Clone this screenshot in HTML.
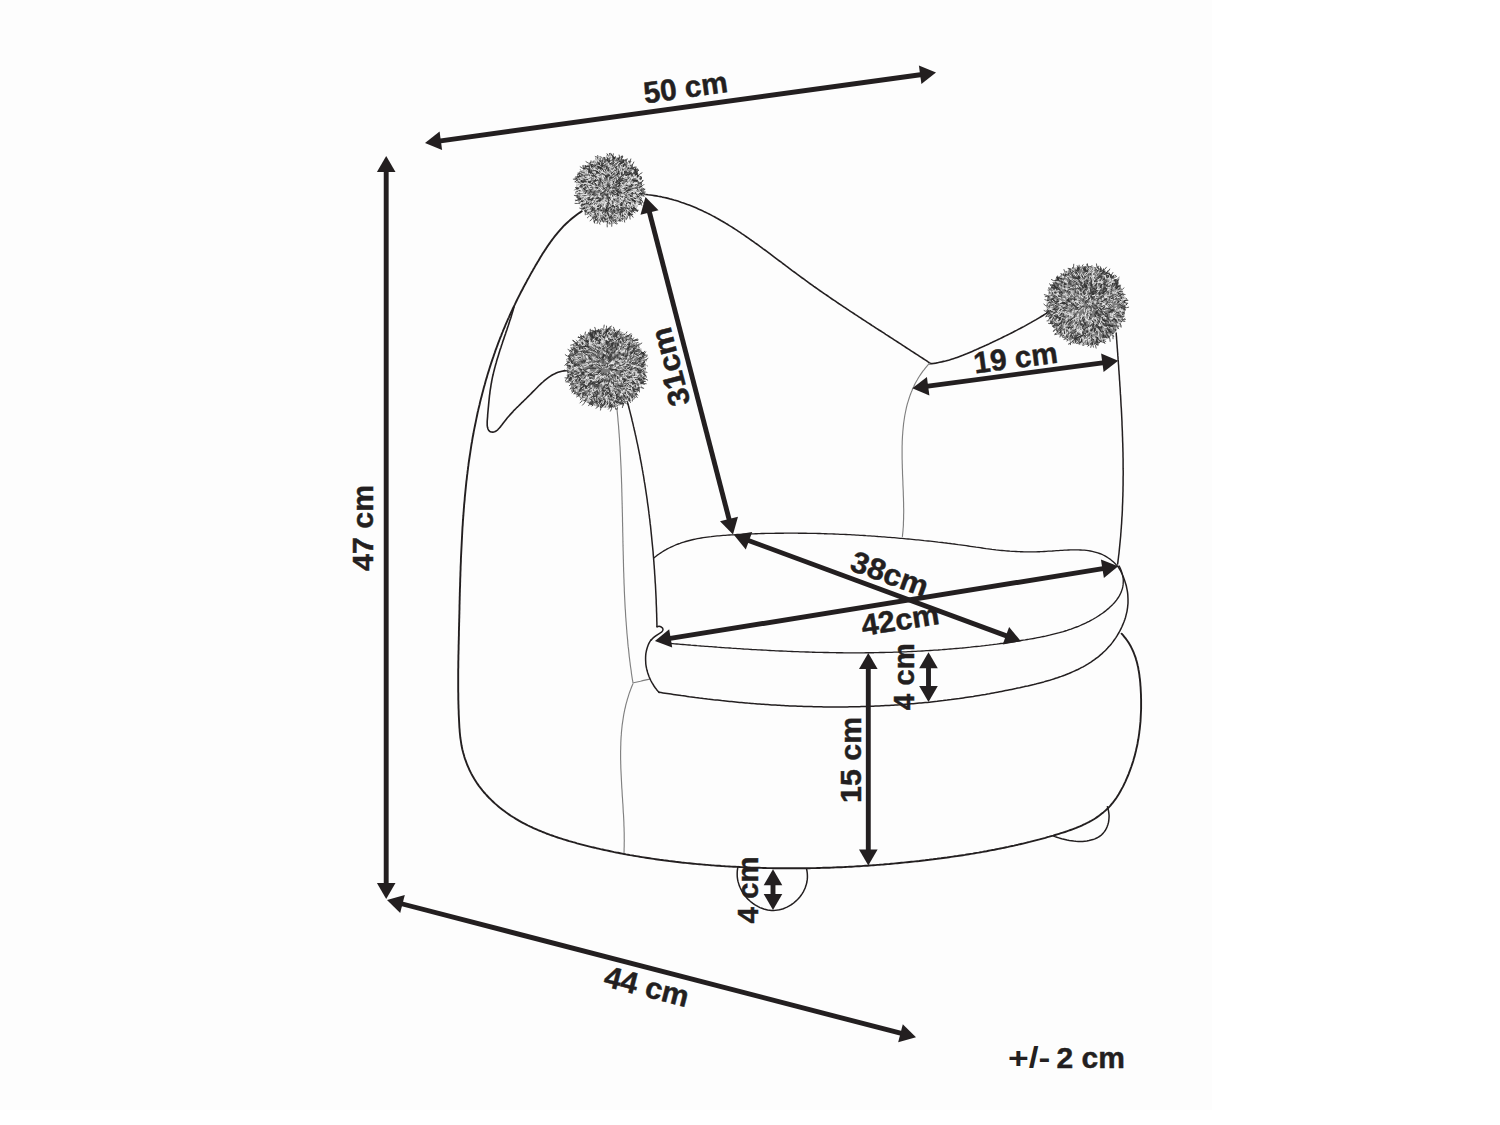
<!DOCTYPE html>
<html><head><meta charset="utf-8"><style>
html,body{margin:0;padding:0;background:#fff;width:1500px;height:1125px;overflow:hidden}
svg{display:block}
text{font-family:"Liberation Sans",sans-serif;font-weight:bold;fill:#231f20}
</style></head><body>
<svg width="1500" height="1125" viewBox="0 0 1500 1125">
<rect x="0" y="0" width="1212" height="1110" fill="#fdfdfd"/>
<path d="M581.8,211.2 580.1,212.4 578.4,213.5 576.7,214.7 575.1,215.9 573.5,217.2 571.9,218.5 570.4,219.8 568.9,221.1 567.4,222.5 566,223.8 564.5,225.2 563.1,226.7 561.8,228.1 560.4,229.6 559.1,231.1 557.8,232.6 556.6,234.1 555.3,235.7 554.1,237.2 552.9,238.8 551.7,240.4 550.5,242 549.4,243.6 548.2,245.3 547.1,246.9 546,248.6 544.9,250.2 543.8,251.9 542.7,253.6 541.7,255.3 540.6,257 539.6,258.7 538.6,260.5 537.5,262.2 536.5,263.9 535.5,265.6 534.5,267.4 533.5,269.1 532.5,270.9 531.5,272.6 530.5,274.4 529.6,276.1 528.6,277.9 527.6,279.6 526.7,281.4 525.7,283.2 524.8,284.9 523.8,286.7 522.9,288.5 522,290.2 521,292 520.1,293.8 519.2,295.6 518.3,297.4 517.4,299.2 516.5,301 515.6,302.8 514.8,304.6 513.9,306.4 513,308.2 512.2,310 511.3,311.8 510.5,313.7 509.7,315.5 508.9,317.3 508,319.1 507.2,321 506.4,322.8 505.6,324.7 504.9,326.5 504.1,328.3 503.3,330.2 502.6,332 501.8,333.9 501.1,335.8 500.3,337.6 499.6,339.5 498.9,341.4 498.2,343.2 497.5,345.1 496.8,347 496.1,348.9 495.4,350.7 494.8,352.6 494.1,354.5 493.5,356.4 492.8,358.3 492.2,360.2 491.5,362.1 490.9,364 490.3,365.9 489.7,367.8 489.1,369.7 488.5,371.6 487.9,373.6 487.3,375.5 486.8,377.4 486.2,379.3 485.6,381.2 485.1,383.2 484.6,385.1 484,387 483.5,388.9 483,390.9 482.5,392.8 482,394.8 481.5,396.7 481,398.6 480.5,400.6 480,402.5 479.6,404.5 479.1,406.4 478.6,408.4 478.2,410.3 477.7,412.3 477.3,414.2 476.9,416.2 476.5,418.1 476.1,420.1 475.7,422.1 475.3,424 474.9,426 474.5,427.9 474.1,429.9 473.7,431.9 473.4,433.8 473,435.8 472.6,437.8 472.3,439.7 472,441.7 471.6,443.7 471.3,445.7 471,447.6 470.7,449.6 470.4,451.6 470.1,453.6 469.8,455.5 469.5,457.5 469.2,459.5 468.9,461.5 468.6,463.5 468.4,465.4 468.1,467.4 467.9,469.4 467.6,471.4 467.4,473.4 467.1,475.4 466.9,477.4 466.7,479.3 466.4,481.3 466.2,483.3 466,485.3 465.8,487.3 465.6,489.3 465.4,491.3 465.2,493.3 465,495.3 464.8,497.3 464.7,499.3 464.5,501.3 464.3,503.2 464.1,505.2 464,507.2 463.8,509.2 463.7,511.2 463.5,513.2 463.4,515.2 463.2,517.2 463.1,519.2 462.9,521.2 462.8,523.2 462.7,525.2 462.5,527.2 462.4,529.2 462.3,531.2 462.2,533.2 462.1,535.2 462,537.2 461.9,539.2 461.8,541.2 461.7,543.3 461.6,545.3 461.5,547.3 461.4,549.3 461.3,551.3 461.2,553.3 461.1,555.3 461,557.3 460.9,559.3 460.9,561.3 460.8,563.3 460.7,565.3 460.6,567.3 460.6,569.3 460.5,571.3 460.4,573.3 460.4,575.3 460.3,577.3 460.2,579.4 460.2,581.4 460.1,583.4 460.1,585.4 460,587.4 459.9,589.4 459.9,591.4 459.8,593.4 459.8,595.4 459.7,597.4 459.7,599.4 459.6,601.4 459.6,603.4 459.5,605.4 459.5,607.4 459.5,609.4 459.4,611.4 459.4,613.5 459.3,615.5 459.3,617.5 459.2,619.5 459.2,621.5 459.1,623.5 459.1,625.5 459,627.5 459,629.5 458.9,631.5 458.9,633.5 458.9,635.5 458.8,637.5 458.8,639.5 458.7,641.5 458.7,643.5 458.6,645.5 458.6,647.5 458.6,649.5 458.5,651.5 458.5,653.5 458.4,655.5 458.4,657.5 458.4,659.5 458.3,661.5 458.3,663.5 458.3,665.5 458.3,667.5 458.2,669.5 458.2,671.5 458.2,673.5 458.2,675.5 458.2,677.5 458.2,679.5 458.2,681.5 458.2,683.5 458.2,685.5 458.2,687.5 458.2,689.5 458.2,691.5 458.3,693.5 458.3,695.5 458.3,697.5 458.3,699.5 458.4,701.5 458.4,703.5 458.5,705.5 458.5,707.5 458.6,709.5 458.7,711.5 458.7,713.5 458.8,715.5 458.9,717.5 459,719.5 459.1,721.5 459.2,723.5 459.3,725.5 459.4,727.5 459.6,729.5 459.7,731.5 459.9,733.5 460.1,735.5 460.3,737.5 460.6,739.4 460.9,741.4 461.2,743.4 461.5,745.3 461.9,747.3 462.3,749.3 462.8,751.2 463.3,753.1 463.9,755 464.4,757 465,758.9 465.7,760.7 466.4,762.6 467.1,764.5 467.9,766.3 468.7,768.2 469.5,770 470.4,771.8 471.3,773.6 472.2,775.3 473.2,777.1 474.2,778.8 475.3,780.5 476.4,782.2 477.5,783.9 478.7,785.6 479.9,787.2 481.2,788.8 482.4,790.4 483.7,792 485.1,793.5 486.4,795 487.8,796.5 489.2,798 490.7,799.4 492.1,800.8 493.6,802.2 495.1,803.6 496.6,804.9 498.1,806.2 499.6,807.5 501.2,808.7 502.8,809.9 504.3,811.1 505.9,812.3 507.6,813.5 509.2,814.6 510.8,815.7 512.5,816.8 514.2,817.8 515.9,818.9 517.6,819.9 519.3,820.9 521,821.8 522.8,822.8 524.5,823.7 526.3,824.6 528,825.5 529.8,826.4 531.6,827.2 533.4,828.1 535.3,828.9 537.1,829.7 538.9,830.5 540.8,831.2 542.6,832 544.5,832.7 546.3,833.5 548.2,834.2 550.1,834.9 552,835.5 553.9,836.2 555.8,836.8 557.7,837.5 559.6,838.1 561.5,838.7 563.4,839.3 565.4,839.9 567.3,840.5 569.2,841.1 571.2,841.6 573.1,842.2 575.1,842.7 577,843.3 579,843.8 580.9,844.3 582.9,844.8 584.8,845.3 586.8,845.8 588.7,846.3 590.7,846.8 592.6,847.3 594.6,847.7 596.5,848.2 598.5,848.6 600.5,849.1 602.4,849.5 604.4,850 606.4,850.4 608.3,850.8 610.3,851.2 612.2,851.6 614.2,852.1 616.2,852.5 618.1,852.8 620.1,853.2 622.1,853.6 624.1,854 626,854.4 628,854.7 630,855.1 631.9,855.4 633.9,855.8 635.9,856.1 637.9,856.4 639.8,856.8 641.8,857.1 643.8,857.4 645.8,857.7 647.7,858 649.7,858.3 651.7,858.6 653.7,858.9 655.7,859.2 657.6,859.5 659.6,859.8 661.6,860 663.6,860.3 665.6,860.5 667.6,860.8 669.5,861.1 671.5,861.3 673.5,861.5 675.5,861.8 677.5,862 679.5,862.2 681.5,862.5 683.5,862.7 685.4,862.9 687.4,863.1 689.4,863.3 691.4,863.5 693.4,863.7 695.4,863.9 697.4,864.1 699.4,864.2 701.4,864.4 703.4,864.6 705.4,864.8 707.4,864.9 709.4,865.1 711.3,865.3 713.3,865.4 715.3,865.6 717.3,865.7 719.3,865.8 721.3,866 723.3,866.1 725.3,866.3 727.3,866.4 729.3,866.5 731.3,866.6 733.3,866.7 735.3,866.8 737.3,866.9 739.3,867 741.3,867.1 743.3,867.2 745.3,867.3 747.3,867.4 749.3,867.5 751.3,867.6 753.3,867.6 755.3,867.7 757.3,867.8 759.3,867.8 761.3,867.9 763.3,868 765.3,868 767.3,868.1 769.3,868.1 771.3,868.1 773.3,868.2 775.3,868.2 777.3,868.2 779.3,868.3 781.3,868.3 783.3,868.3 785.3,868.3 787.4,868.3 789.4,868.3 791.4,868.3 793.4,868.3 795.4,868.3 797.4,868.3 799.4,868.3 801.4,868.3 803.4,868.3 805.4,868.2 807.4,868.2 809.4,868.2 811.4,868.1 813.4,868.1 815.4,868.1 817.4,868 819.4,868 821.4,867.9 823.4,867.8 825.4,867.8 827.4,867.7 829.4,867.7 831.4,867.6 833.4,867.5 835.4,867.4 837.4,867.3 839.4,867.3 841.4,867.2 843.4,867.1 845.4,867 847.4,866.9 849.4,866.8 851.4,866.7 853.4,866.6 855.4,866.4 857.4,866.3 859.4,866.2 861.4,866.1 863.4,865.9 865.4,865.8 867.4,865.7 869.4,865.5 871.4,865.4 873.4,865.2 875.4,865.1 877.4,864.9 879.4,864.8 881.4,864.6 883.4,864.5 885.4,864.3 887.4,864.1 889.4,864 891.4,863.8 893.4,863.6 895.4,863.4 897.4,863.2 899.4,863 901.4,862.8 903.4,862.6 905.3,862.4 907.3,862.2 909.3,862 911.3,861.8 913.3,861.6 915.3,861.4 917.3,861.2 919.3,861 921.3,860.7 923.3,860.5 925.2,860.3 927.2,860 929.2,859.8 931.2,859.5 933.2,859.3 935.2,859 937.1,858.8 939.1,858.5 941.1,858.3 943.1,858 945.1,857.7 947.1,857.5 949,857.2 951,856.9 953,856.6 955,856.3 957,856.1 958.9,855.8 960.9,855.5 962.9,855.2 964.9,854.9 966.8,854.5 968.8,854.2 970.8,853.9 972.8,853.6 974.7,853.2 976.7,852.9 978.7,852.6 980.7,852.2 982.6,851.9 984.6,851.5 986.6,851.2 988.5,850.8 990.5,850.4 992.5,850 994.4,849.7 996.4,849.3 998.4,848.9 1000.3,848.5 1002.3,848.1 1004.3,847.7 1006.2,847.3 1008.2,846.9 1010.2,846.4 1012.1,846 1014.1,845.6 1016,845.1 1018,844.7 1020,844.2 1021.9,843.8 1023.9,843.3 1025.8,842.8 1027.8,842.3 1029.7,841.9 1031.7,841.4 1033.7,840.9 1035.6,840.4 1037.6,839.9 1039.5,839.4 1041.5,838.8 1043.4,838.3 1045.4,837.8 1047.3,837.2 1049.3,836.7 1051.2,836.1 1053.2,835.6 1055.1,835 1057.1,834.4 1059,833.8 1060.9,833.2 1062.9,832.6 1064.8,832 1066.7,831.3 1068.6,830.7 1070.5,830 1072.4,829.3 1074.3,828.6 1076.2,827.9 1078,827.1 1079.9,826.4 1081.7,825.6 1083.5,824.7 1085.3,823.9 1087,823 1088.8,822.1 1090.5,821.2 1092.2,820.2 1093.9,819.2 1095.5,818.2 1097.1,817.1 1098.7,816 1100.3,814.8 1101.8,813.6 1103.3,812.4 1104.8,811.1 1106.3,809.8 1107.7,808.5 1109,807.1 1110.4,805.6 1111.6,804.1 1112.9,802.6 1114.1,801 1115.3,799.4 1116.5,797.7 1117.6,796 1118.7,794.3 1119.7,792.5 1120.7,790.7 1121.7,788.9 1122.7,787.1 1123.6,785.3 1124.5,783.4 1125.4,781.6 1126.2,779.7 1127,777.8 1127.8,776 1128.6,774.1 1129.3,772.2 1130,770.3 1130.7,768.4 1131.4,766.5 1132,764.6 1132.7,762.7 1133.3,760.7 1133.8,758.8 1134.4,756.9 1134.9,754.9 1135.4,753 1135.9,751 1136.3,749.1 1136.8,747.1 1137.2,745.2 1137.6,743.2 1137.9,741.2 1138.3,739.3 1138.6,737.3 1138.9,735.3 1139.2,733.3 1139.4,731.3 1139.7,729.3 1139.9,727.4 1140.1,725.4 1140.3,723.4 1140.5,721.4 1140.6,719.4 1140.7,717.4 1140.8,715.4 1140.9,713.3 1141,711.3 1141.1,709.3 1141.1,707.3 1141.1,705.3 1141.1,703.3 1141.1,701.3 1141.1,699.3 1141,697.2 1141,695.2 1140.9,693.2 1140.8,691.2 1140.7,689.2 1140.6,687.2 1140.4,685.1 1140.3,683.1 1140.1,681.1 1139.9,679.1 1139.6,677.1 1139.4,675.1 1139.1,673.1 1138.8,671.2 1138.4,669.2 1138.1,667.2 1137.6,665.3 1137.2,663.4 1136.7,661.5 1136.1,659.6 1135.6,657.7 1134.9,655.8 1134.2,654 1133.5,652.1 1132.7,650.3 1131.9,648.6 1131,646.8 1130,645.1 1129,643.3 1128,641.7 1126.8,640 1125.6,638.4 1124.3,636.8 1123,635.2 1121.6,633.7" fill="none" stroke="#231f20" stroke-width="1.9" stroke-linejoin="round" stroke-linecap="round"/>
<path d="M514.1,306.8 513.5,308.7 513,310.6 512.4,312.5 511.8,314.4 511.3,316.3 510.7,318.2 510,320.1 509.4,322 508.8,323.9 508.2,325.8 507.5,327.8 506.9,329.7 506.2,331.6 505.6,333.6 504.9,335.5 504.2,337.4 503.6,339.4 502.9,341.3 502.3,343.3 501.6,345.2 501,347.2 500.3,349.1 499.7,351 499.1,353 498.5,354.9 497.9,356.9 497.3,358.8 496.7,360.8 496.2,362.7 495.6,364.7 495.1,366.6 494.6,368.5 494.1,370.5 493.6,372.4 493.2,374.3 492.7,376.2 492.3,378.2 491.9,380.1 491.6,382 491.2,383.9 490.9,385.8 490.6,387.8 490.3,389.7 490,391.7 489.8,393.6 489.5,395.6 489.3,397.6 489.1,399.6 488.9,401.6 488.7,403.7 488.5,405.8 488.3,407.9 488.1,410 487.9,412.2 487.7,414.4 487.6,416.6 487.4,418.9 487.2,421.2 487.2,423.4 487.2,425.4 487.5,427.3 488,429 488.7,430.4 489.8,431.4 491.2,432 492.9,432.1 494.6,431.8 496.2,431 497.7,429.8 499.1,428.3 500.6,426.6 502,424.8 503.3,423 504.7,421.2 506.1,419.4 507.4,417.8 508.8,416.2 510.2,414.6 511.6,413.1 513,411.6 514.3,410.1 515.7,408.7 517.1,407.3 518.5,406 519.9,404.6 521.3,403.2 522.7,401.9 524.1,400.5 525.5,399.2 526.9,397.8 528.3,396.4 529.7,395 531.1,393.6 532.5,392.1 534,390.7 535.4,389.2 536.9,387.7 538.3,386.3 539.8,384.8 541.3,383.4 542.9,382 544.4,380.6 546,379.3 547.6,378.1 549.3,376.9 550.9,375.8 552.7,374.8 554.4,373.9 556.2,373.1 558.1,372.3 560,371.7 561.9,371.2 563.9,370.9 566,370.7" fill="none" stroke="#231f20" stroke-width="1.6" stroke-linejoin="round" stroke-linecap="round"/>
<path d="M646,194.5 648.1,194.8 650.1,195 652.2,195.3 654.2,195.6 656.2,195.9 658.2,196.3 660.3,196.6 662.2,197.1 664.2,197.5 666.2,197.9 668.2,198.4 670.1,198.9 672.1,199.4 674,200 675.9,200.5 677.8,201.1 679.7,201.7 681.6,202.4 683.5,203 685.4,203.7 687.3,204.4 689.1,205.1 691,205.8 692.8,206.5 694.7,207.3 696.5,208.1 698.3,208.9 700.1,209.7 701.9,210.5 703.7,211.4 705.5,212.2 707.3,213.1 709.1,214 710.8,214.9 712.6,215.9 714.4,216.8 716.1,217.8 717.9,218.7 719.6,219.7 721.3,220.7 723.1,221.7 724.8,222.7 726.5,223.8 728.2,224.8 729.9,225.9 731.6,226.9 733.3,228 735,229.1 736.7,230.2 738.4,231.3 740.1,232.4 741.7,233.6 743.4,234.7 745.1,235.8 746.7,237 748.4,238.1 750.1,239.3 751.7,240.5 753.4,241.6 755,242.8 756.7,244 758.3,245.2 759.9,246.4 761.6,247.6 763.2,248.8 764.9,250 766.5,251.2 768.1,252.4 769.8,253.7 771.4,254.9 773,256.1 774.6,257.3 776.3,258.6 777.9,259.8 779.5,261 781.2,262.2 782.8,263.5 784.4,264.7 786,265.9 787.7,267.1 789.3,268.4 790.9,269.6 792.5,270.8 794.2,272 795.8,273.2 797.4,274.4 799.1,275.6 800.7,276.8 802.3,278 804,279.2 805.6,280.4 807.3,281.6 808.9,282.8 810.5,284 812.2,285.1 813.8,286.3 815.5,287.5 817.1,288.6 818.8,289.8 820.4,291 822.1,292.1 823.8,293.3 825.4,294.4 827.1,295.5 828.7,296.7 830.4,297.8 832,299 833.7,300.1 835.4,301.2 837,302.3 838.7,303.5 840.4,304.6 842,305.7 843.7,306.8 845.4,307.9 847.1,309.1 848.7,310.2 850.4,311.3 852.1,312.4 853.8,313.5 855.4,314.6 857.1,315.7 858.8,316.8 860.5,317.9 862.1,319 863.8,320.1 865.5,321.2 867.2,322.3 868.9,323.4 870.6,324.5 872.2,325.6 873.9,326.7 875.6,327.8 877.3,328.9 879,330 880.7,331 882.4,332.1 884.1,333.2 885.7,334.3 887.4,335.4 889.1,336.5 890.8,337.6 892.5,338.7 894.2,339.8 895.9,340.9 897.6,342 899.3,343.1 901,344.2 902.7,345.3 904.4,346.4 906,347.5 907.7,348.6 909.4,349.7 911.1,350.8 912.8,351.9 914.5,353 916.2,354.1 917.9,355.2 919.6,356.3 921.3,357.4 923,358.5 924.7,359.6 926.4,360.7 928.1,361.9 929.8,363" fill="none" stroke="#231f20" stroke-width="1.6" stroke-linejoin="round" stroke-linecap="round"/>
<path d="M929.6,363.8 931.7,363.6 933.7,363.4 935.7,363.1 937.7,362.7 939.6,362.3 941.6,361.9 943.6,361.4 945.5,361 947.5,360.4 949.4,359.9 951.4,359.3 953.3,358.7 955.2,358.1 957.1,357.4 959,356.7 960.9,356 962.8,355.3 964.7,354.5 966.6,353.8 968.5,353 970.3,352.2 972.2,351.4 974.1,350.6 975.9,349.8 977.8,348.9 979.7,348.1 981.5,347.3 983.4,346.4 985.3,345.6 987.1,344.7 989,343.9 990.8,343 992.7,342.1 994.5,341.3 996.4,340.4 998.2,339.5 1000.1,338.6 1001.9,337.7 1003.7,336.8 1005.6,335.9 1007.4,335 1009.2,334.1 1011,333.2 1012.9,332.3 1014.7,331.3 1016.5,330.4 1018.3,329.4 1020.1,328.5 1021.9,327.5 1023.7,326.6 1025.5,325.6 1027.2,324.6 1029,323.6 1030.8,322.6 1032.5,321.6 1034.3,320.6 1036.1,319.6 1037.8,318.6 1039.5,317.6 1041.3,316.5 1043,315.5 1044.7,314.4 1046.4,313.4 1048.1,312.3" fill="none" stroke="#231f20" stroke-width="1.6" stroke-linejoin="round" stroke-linecap="round"/>
<path d="M929.7,363.2 928.2,364.7 926.8,366.3 925.5,367.9 924.2,369.6 922.9,371.2 921.7,372.9 920.5,374.6 919.4,376.3 918.3,378 917.3,379.8 916.3,381.5 915.3,383.3 914.4,385.1 913.6,386.9 912.7,388.7 912,390.5 911.2,392.4 910.5,394.2 909.8,396.1 909.2,398 908.6,399.9 908,401.8 907.4,403.7 906.9,405.7 906.4,407.6 906,409.6 905.6,411.5 905.2,413.5 904.8,415.5 904.5,417.5 904.2,419.5 903.9,421.5 903.6,423.5 903.4,425.6 903.2,427.6 903,429.7 902.8,431.7 902.7,433.8 902.5,435.8 902.4,437.9 902.3,440 902.2,442 902.2,444.1 902.1,446.2 902.1,448.3 902.1,450.4 902.1,452.5 902.1,454.6 902.1,456.7 902.1,458.8 902.2,460.9 902.2,463 902.3,465.1 902.3,467.2 902.4,469.3 902.5,471.4 902.5,473.5 902.6,475.7 902.7,477.8 902.8,479.9 902.9,482 902.9,484.1 903,486.1 903.1,488.2 903.2,490.3 903.3,492.4 903.3,494.5 903.4,496.6 903.5,498.6 903.5,500.7 903.6,502.7 903.6,504.8 903.6,506.8 903.7,508.9 903.7,510.9 903.7,512.9 903.6,514.9 903.6,516.9 903.6,518.9 903.5,520.9 903.4,522.9 903.4,524.9 903.3,526.8 903.1,528.8 903,530.7 902.8,532.6 902.6,534.5 902.4,536.4" fill="none" stroke="#808080" stroke-width="1.15" stroke-linecap="round"/>
<path d="M1116.2,333.1 1116.3,335.1 1116.5,337.1 1116.6,339.2 1116.8,341.2 1116.9,343.2 1117.1,345.2 1117.2,347.3 1117.4,349.3 1117.5,351.3 1117.7,353.3 1117.8,355.4 1118,357.4 1118.1,359.4 1118.3,361.4 1118.4,363.5 1118.6,365.5 1118.7,367.5 1118.8,369.5 1119,371.6 1119.1,373.6 1119.3,375.6 1119.4,377.6 1119.5,379.7 1119.7,381.7 1119.8,383.7 1119.9,385.7 1120.1,387.8 1120.2,389.8 1120.3,391.8 1120.4,393.9 1120.6,395.9 1120.7,397.9 1120.8,399.9 1120.9,402 1121,404 1121.1,406 1121.3,408.1 1121.4,410.1 1121.5,412.1 1121.6,414.1 1121.7,416.2 1121.8,418.2 1121.9,420.2 1122,422.3 1122,424.3 1122.1,426.3 1122.2,428.3 1122.3,430.4 1122.4,432.4 1122.4,434.4 1122.5,436.5 1122.6,438.5 1122.6,440.5 1122.7,442.5 1122.8,444.6 1122.8,446.6 1122.9,448.6 1122.9,450.7 1123,452.7 1123,454.7 1123,456.7 1123.1,458.8 1123.1,460.8 1123.1,462.8 1123.1,464.9 1123.1,466.9 1123.1,468.9 1123.2,470.9 1123.2,473 1123.2,475 1123.1,477 1123.1,479.1 1123.1,481.1 1123.1,483.1 1123.1,485.1 1123,487.2 1123,489.2 1123,491.2 1122.9,493.3 1122.9,495.3 1122.8,497.3 1122.7,499.3 1122.7,501.4 1122.6,503.4 1122.5,505.4 1122.4,507.4 1122.4,509.5 1122.3,511.5 1122.2,513.5 1122.1,515.5 1121.9,517.6 1121.8,519.6 1121.7,521.6 1121.6,523.6 1121.4,525.7 1121.3,527.7 1121.1,529.7 1121,531.7 1120.8,533.8 1120.7,535.8 1120.5,537.8 1120.3,539.8 1120.1,541.9 1119.9,543.9 1119.7,545.9 1119.5,547.9 1119.3,549.9 1119.1,552 1118.9,554 1118.6,556 1118.4,558 1118.1,560.1 1117.9,562.1 1117.6,564.1" fill="none" stroke="#231f20" stroke-width="1.5" stroke-linejoin="round" stroke-linecap="round"/>
<path d="M616.9,408.4 617.1,410.4 617.3,412.4 617.5,414.5 617.7,416.5 617.9,418.5 618,420.5 618.2,422.5 618.4,424.5 618.6,426.6 618.7,428.6 618.9,430.6 619,432.6 619.2,434.6 619.3,436.6 619.5,438.7 619.6,440.7 619.7,442.7 619.8,444.7 620,446.7 620.1,448.8 620.2,450.8 620.3,452.8 620.4,454.8 620.5,456.8 620.6,458.9 620.7,460.9 620.8,462.9 620.9,464.9 621,466.9 621.1,469 621.2,471 621.2,473 621.3,475 621.4,477.1 621.5,479.1 621.5,481.1 621.6,483.1 621.7,485.2 621.7,487.2 621.8,489.2 621.8,491.2 621.9,493.3 621.9,495.3 622,497.3 622,499.3 622.1,501.4 622.1,503.4 622.2,505.4 622.2,507.4 622.3,509.5 622.3,511.5 622.4,513.5 622.4,515.5 622.5,517.6 622.5,519.6 622.5,521.6 622.6,523.6 622.6,525.7 622.7,527.7 622.7,529.7 622.7,531.7 622.8,533.8 622.8,535.8 622.9,537.8 622.9,539.8 622.9,541.9 623,543.9 623,545.9 623.1,547.9 623.1,550 623.2,552 623.2,554 623.3,556 623.3,558.1 623.4,560.1 623.4,562.1 623.5,564.1 623.5,566.2 623.6,568.2 623.6,570.2 623.7,572.2 623.8,574.2 623.8,576.3 623.9,578.3 624,580.3 624,582.3 624.1,584.4 624.2,586.4 624.3,588.4 624.3,590.4 624.4,592.4 624.5,594.5 624.6,596.5 624.7,598.5 624.8,600.5 624.9,602.5 625,604.6 625.1,606.6 625.2,608.6 625.4,610.6 625.5,612.6 625.6,614.7 625.7,616.7 625.9,618.7 626,620.7 626.2,622.7 626.3,624.7 626.5,626.8 626.6,628.8 626.8,630.8 626.9,632.8 627.1,634.8 627.3,636.8 627.5,638.9 627.7,640.9 627.8,642.9 628,644.9 628.2,646.9 628.5,648.9 628.7,650.9 628.9,652.9 629.1,654.9 629.3,657 629.6,659 629.8,661 630.1,663 630.3,665 630.6,667 630.9,669 631.2,671 631.4,673 631.7,675 632,677 632.3,679 632.7,681 633,683" fill="none" stroke="#808080" stroke-width="1.15" stroke-linecap="round"/>
<path d="M632.9,683.9 632.1,685.8 631.3,687.7 630.6,689.6 629.9,691.5 629.2,693.4 628.6,695.3 628,697.3 627.4,699.2 626.9,701.1 626.3,703.1 625.8,705 625.4,707 624.9,709 624.5,710.9 624.1,712.9 623.7,714.9 623.4,716.9 623.1,718.8 622.8,720.8 622.5,722.8 622.2,724.8 622,726.8 621.8,728.8 621.6,730.8 621.4,732.8 621.3,734.9 621.1,736.9 621,738.9 620.9,740.9 620.8,742.9 620.8,745 620.7,747 620.7,749 620.6,751.1 620.6,753.1 620.6,755.2 620.6,757.2 620.6,759.2 620.7,761.3 620.7,763.3 620.8,765.4 620.8,767.4 620.9,769.5 621,771.5 621.1,773.6 621.2,775.6 621.3,777.7 621.4,779.7 621.5,781.8 621.6,783.8 621.7,785.9 621.8,787.9 622,790 622.1,792 622.2,794.1 622.3,796.1 622.5,798.2 622.6,800.2 622.7,802.3 622.9,804.3 623,806.4 623.1,808.4 623.2,810.5 623.3,812.5 623.5,814.5 623.6,816.6 623.7,818.6 623.8,820.6 623.9,822.7 623.9,824.7 624,826.7 624.1,828.7 624.1,830.8 624.2,832.8 624.2,834.8 624.2,836.8 624.2,838.8 624.3,840.8 624.2,842.8 624.2,844.8 624.2,846.8 624.1,848.7 624.1,850.7 624,852.7" fill="none" stroke="#808080" stroke-width="1.15" stroke-linecap="round"/>
<path d="M633.6,682.7 635.9,682.2 638.2,681.7 640.5,681.2 642.7,680.6 645,680.1 647.3,679.6 649.6,679.1" fill="none" stroke="#808080" stroke-width="1.15" stroke-linecap="round"/>
<path d="M627.6,402.8 628.2,404.8 628.7,406.7 629.2,408.7 629.7,410.6 630.2,412.6 630.7,414.6 631.2,416.5 631.7,418.5 632.1,420.5 632.6,422.4 633.1,424.4 633.5,426.4 634,428.3 634.4,430.3 634.9,432.3 635.3,434.2 635.8,436.2 636.2,438.2 636.6,440.2 637,442.1 637.5,444.1 637.9,446.1 638.3,448.1 638.7,450.1 639.1,452 639.5,454 639.9,456 640.2,458 640.6,460 641,462 641.4,463.9 641.7,465.9 642.1,467.9 642.4,469.9 642.8,471.9 643.1,473.9 643.5,475.9 643.8,477.9 644.1,479.9 644.4,481.9 644.8,483.9 645.1,485.8 645.4,487.8 645.7,489.8 646,491.8 646.3,493.8 646.6,495.8 646.9,497.8 647.2,499.8 647.4,501.8 647.7,503.8 648,505.8 648.3,507.8 648.5,509.8 648.8,511.8 649,513.9 649.3,515.9 649.5,517.9 649.8,519.9 650,521.9 650.2,523.9 650.5,525.9 650.7,527.9 650.9,529.9 651.1,531.9 651.3,533.9 651.5,535.9 651.7,537.9 651.9,540 652.1,542 652.3,544 652.5,546 652.7,548 652.9,550 653.1,552 653.2,554 653.4,556.1 653.6,558.1 653.7,560.1 653.9,562.1 654,564.1 654.2,566.1 654.3,568.1 654.5,570.2 654.6,572.2 654.7,574.2 654.9,576.2 655,578.2 655.1,580.3 655.2,582.3 655.4,584.3 655.5,586.3 655.6,588.3 655.7,590.3 655.8,592.4 655.9,594.4 656,596.4 656.1,598.4 656.2,600.4 656.2,602.5 656.3,604.5 656.4,606.5 656.5,608.5 656.5,610.5 656.6,612.6 656.7,614.6 656.7,616.6 656.8,618.6 656.8,620.6 656.9,622.7 656.9,624.7 657,626.7" fill="none" stroke="#231f20" stroke-width="1.5" stroke-linejoin="round" stroke-linecap="round"/>
<path d="M657,626.7 C658.5,626 661,626.3 662.5,628 C663.8,629.8 662.5,631.8 660,633.2 C656.5,635.3 653,637.5 651.3,640" fill="none" stroke="#231f20" stroke-width="1.5" stroke-linejoin="round" stroke-linecap="round"/>
<path d="M651,639.9 649.9,641.6 648.9,643.4 648.1,645.3 647.4,647.3 646.8,649.3 646.3,651.3 645.9,653.4 645.7,655.4 645.6,657.6 645.6,659.7 645.7,661.8 645.8,664 646.1,666.1 646.5,668.2 647,670.3 647.6,672.4 648.3,674.5 649,676.5 649.9,678.5 650.8,680.5 651.8,682.4 652.9,684.2 654,686 655.2,687.7 656.5,689.4 657.8,690.9 659.2,692.4" fill="none" stroke="#231f20" stroke-width="1.5" stroke-linejoin="round" stroke-linecap="round"/>
<path d="M659,692.3 661,692.6 663,692.9 665.1,693.2 667.1,693.5 669.1,693.8 671.1,694.1 673.2,694.4 675.2,694.7 677.2,695 679.2,695.3 681.3,695.6 683.3,695.8 685.3,696.1 687.3,696.4 689.3,696.7 691.4,696.9 693.4,697.2 695.4,697.5 697.4,697.7 699.4,698 701.4,698.2 703.4,698.5 705.5,698.7 707.5,699 709.5,699.2 711.5,699.4 713.5,699.7 715.5,699.9 717.5,700.1 719.5,700.3 721.6,700.6 723.6,700.8 725.6,701 727.6,701.2 729.6,701.4 731.6,701.6 733.6,701.8 735.6,702 737.6,702.2 739.6,702.4 741.6,702.5 743.6,702.7 745.6,702.9 747.6,703.1 749.6,703.2 751.6,703.4 753.6,703.6 755.6,703.7 757.6,703.9 759.6,704 761.6,704.2 763.6,704.3 765.6,704.5 767.6,704.6 769.6,704.7 771.6,704.9 773.6,705 775.6,705.1 777.6,705.2 779.6,705.3 781.6,705.5 783.6,705.6 785.6,705.7 787.6,705.8 789.6,705.9 791.6,705.9 793.6,706 795.6,706.1 797.6,706.2 799.6,706.3 801.6,706.3 803.6,706.4 805.6,706.5 807.6,706.5 809.6,706.6 811.6,706.6 813.6,706.7 815.5,706.7 817.5,706.8 819.5,706.8 821.5,706.8 823.5,706.9 825.5,706.9 827.5,706.9 829.5,706.9 831.5,706.9 833.5,706.9 835.5,706.9 837.5,706.9 839.5,706.9 841.5,706.9 843.4,706.9 845.4,706.9 847.4,706.9 849.4,706.8 851.4,706.8 853.4,706.8 855.4,706.7 857.4,706.7 859.4,706.7 861.4,706.6 863.4,706.5 865.4,706.5 867.4,706.4 869.4,706.3 871.3,706.3 873.3,706.2 875.3,706.1 877.3,706 879.3,705.9 881.3,705.8 883.3,705.7 885.3,705.6 887.3,705.5 889.3,705.4 891.3,705.3 893.3,705.2 895.3,705 897.3,704.9 899.3,704.8 901.3,704.6 903.3,704.5 905.2,704.3 907.2,704.2 909.2,704 911.2,703.8 913.2,703.7 915.2,703.5 917.2,703.3 919.2,703.1 921.2,703 923.2,702.8 925.2,702.6 927.2,702.4 929.2,702.2 931.2,701.9 933.2,701.7 935.2,701.5 937.2,701.3 939.2,701 941.2,700.8 943.2,700.6 945.2,700.3 947.2,700.1 949.2,699.8 951.2,699.6 953.2,699.3 955.2,699 957.3,698.7 959.3,698.5 961.3,698.2 963.3,697.9 965.3,697.6 967.3,697.3 969.3,697 971.3,696.7 973.3,696.4 975.3,696 977.3,695.7 979.3,695.4 981.3,695.1 983.4,694.7 985.4,694.4 987.4,694 989.4,693.7 991.4,693.3 993.4,692.9 995.4,692.6 997.5,692.2 999.5,691.8 1001.5,691.4 1003.5,691 1005.5,690.6 1007.5,690.2 1009.6,689.8 1011.6,689.4 1013.6,689 1015.6,688.6 1017.7,688.1 1019.7,687.7 1021.7,687.2 1023.7,686.8 1025.7,686.3 1027.8,685.9 1029.8,685.4 1031.8,684.9 1033.8,684.5 1035.8,684 1037.8,683.4 1039.8,682.9 1041.8,682.4 1043.8,681.9 1045.8,681.3 1047.8,680.7 1049.7,680.2 1051.7,679.6 1053.6,679 1055.6,678.3 1057.5,677.7 1059.4,677 1061.3,676.4 1063.2,675.7 1065.1,675 1067,674.2 1068.8,673.5 1070.7,672.7 1072.5,671.9 1074.3,671.1 1076.1,670.3 1077.9,669.5 1079.6,668.6 1081.3,667.7 1083.1,666.8 1084.8,665.8 1086.4,664.8 1088.1,663.8 1089.7,662.8 1091.3,661.8 1092.9,660.7 1094.5,659.6 1096,658.4 1097.6,657.3 1099.1,656.1 1100.5,654.9 1102,653.6 1103.4,652.3 1104.8,651 1106.1,649.7 1107.4,648.3 1108.7,646.8 1110,645.4 1111.3,643.9 1112.5,642.4 1113.6,640.8 1114.8,639.2 1115.9,637.6 1117,635.9 1118,634.2 1119,632.5 1120,630.7 1120.9,628.9 1121.8,627 1122.6,625.1 1123.4,623.2 1124.2,621.3 1124.9,619.3 1125.5,617.4 1126,615.4 1126.5,613.4 1127,611.3 1127.3,609.3 1127.6,607.3 1127.8,605.2 1128,603.2 1128,601.1 1128,599 1127.9,597 1127.8,594.9 1127.6,592.9 1127.3,590.9 1126.9,588.8 1126.5,586.8 1126,584.8 1125.4,582.9 1124.8,580.9 1124.1,579 1123.4,577.1 1122.6,575.2 1121.8,573.3 1120.9,571.5 1119.9,569.7 1118.9,568 1117.9,566.2" fill="none" stroke="#231f20" stroke-width="1.5" stroke-linejoin="round" stroke-linecap="round"/>
<path d="M653.7,558 655.4,556.7 657,555.4 658.7,554.2 660.4,553.1 662.1,552 663.8,550.9 665.6,549.9 667.3,548.9 669.1,548 670.9,547.1 672.7,546.3 674.5,545.5 676.3,544.7 678.2,544 680,543.4 681.9,542.7 683.8,542.1 685.7,541.5 687.6,541 689.5,540.5 691.4,540 693.4,539.5 695.3,539.1 697.3,538.7 699.2,538.3 701.2,538 703.2,537.7 705.2,537.4 707.2,537.1 709.2,536.8 711.2,536.6 713.2,536.3 715.2,536.1 717.2,535.9 719.2,535.8 721.2,535.6 723.2,535.4 725.3,535.3 727.3,535.1 729.3,535 731.3,534.9 733.4,534.8 735.4,534.6 737.4,534.5 739.4,534.4 741.5,534.3 743.5,534.2 745.5,534.1 747.5,534 749.6,534 751.6,533.9 753.6,533.8 755.6,533.7 757.6,533.7 759.6,533.6 761.7,533.5 763.7,533.5 765.7,533.4 767.7,533.4 769.7,533.3 771.7,533.3 773.8,533.3 775.8,533.2 777.8,533.2 779.8,533.2 781.8,533.2 783.8,533.2 785.8,533.1 787.8,533.1 789.9,533.1 791.9,533.1 793.9,533.1 795.9,533.1 797.9,533.2 799.9,533.2 801.9,533.2 803.9,533.2 805.9,533.2 807.9,533.3 810,533.3 812,533.4 814,533.4 816,533.4 818,533.5 820,533.5 822,533.6 824,533.7 826,533.7 828,533.8 830,533.9 832,533.9 834,534 836,534.1 838,534.2 840,534.3 842,534.3 844,534.4 846,534.5 848,534.6 850.1,534.7 852.1,534.8 854.1,534.9 856.1,535.1 858.1,535.2 860.1,535.3 862.1,535.4 864.1,535.5 866.1,535.7 868.1,535.8 870.1,535.9 872.1,536.1 874.1,536.2 876.1,536.3 878.1,536.5 880.1,536.6 882.1,536.8 884.1,536.9 886.1,537.1 888.1,537.3 890.1,537.4 892.1,537.6 894.1,537.7 896.1,537.9 898.1,538.1 900.1,538.3 902.1,538.4 904.1,538.6 906.1,538.8 908.1,539 910.1,539.2 912.1,539.4 914.2,539.6 916.2,539.8 918.2,539.9 920.2,540.1 922.2,540.3 924.2,540.6 926.2,540.8 928.2,541 930.2,541.2 932.2,541.4 934.2,541.6 936.2,541.8 938.2,542.1 940.2,542.3 942.2,542.5 944.2,542.8 946.2,543 948.2,543.3 950.2,543.5 952.2,543.8 954.2,544 956.2,544.3 958.2,544.6 960.2,544.8 962.2,545.1 964.2,545.4 966.2,545.7 968.2,546 970.2,546.3 972.2,546.6 974.2,546.9 976.1,547.2 978.1,547.4 980.1,547.7 982.1,548 984.1,548.3 986.1,548.6 988.1,548.8 990.1,549.1 992,549.4 994,549.6 996,549.9 998,550.1 1000,550.3 1002,550.5 1004,550.7 1006,550.9 1008,551 1010,551.2 1012,551.3 1014,551.4 1016,551.5 1018,551.6 1020,551.7 1022,551.7 1024,551.8 1026,551.8 1028,551.8 1030,551.8 1032,551.8 1034,551.8 1036,551.8 1038.1,551.7 1040.1,551.7 1042.1,551.6 1044.1,551.5 1046.2,551.4 1048.2,551.2 1050.2,551.1 1052.3,551 1054.3,550.8 1056.3,550.7 1058.4,550.6 1060.4,550.4 1062.4,550.3 1064.4,550.2 1066.5,550.1 1068.5,550 1070.5,549.9 1072.5,549.9 1074.5,549.8 1076.5,549.9 1078.5,549.9 1080.5,550 1082.5,550.1 1084.4,550.2 1086.4,550.4 1088.3,550.7 1090.3,551 1092.2,551.4 1094,551.8 1095.9,552.3 1097.8,552.9 1099.6,553.5 1101.4,554.2 1103.2,555 1104.9,555.9 1106.6,556.9 1108.3,558 1110,559.1 1111.6,560.4 1113.2,561.8 1114.8,563.3 1116.3,564.9 1117.8,566.6" fill="none" stroke="#231f20" stroke-width="1.35" stroke-linejoin="round" stroke-linecap="round"/>
<path d="M670.6,643.5 672.7,643.7 674.7,643.9 676.8,644 678.8,644.2 680.8,644.4 682.9,644.5 684.9,644.7 687,644.9 689,645 691,645.2 693.1,645.3 695.1,645.5 697.1,645.7 699.2,645.8 701.2,646 703.2,646.1 705.3,646.3 707.3,646.4 709.3,646.6 711.4,646.7 713.4,646.9 715.4,647 717.4,647.2 719.5,647.3 721.5,647.5 723.5,647.6 725.5,647.8 727.6,647.9 729.6,648 731.6,648.2 733.6,648.3 735.6,648.4 737.7,648.6 739.7,648.7 741.7,648.8 743.7,649 745.7,649.1 747.7,649.2 749.8,649.3 751.8,649.5 753.8,649.6 755.8,649.7 757.8,649.8 759.8,649.9 761.8,650 763.9,650.1 765.9,650.2 767.9,650.4 769.9,650.5 771.9,650.6 773.9,650.7 775.9,650.8 777.9,650.9 779.9,651 781.9,651 783.9,651.1 785.9,651.2 787.9,651.3 790,651.4 792,651.5 794,651.6 796,651.6 798,651.7 800,651.8 802,651.8 804,651.9 806,652 808,652 810,652.1 812,652.2 814,652.2 816,652.3 818,652.3 820,652.4 822,652.4 824,652.5 826,652.5 828,652.5 830,652.6 832,652.6 834,652.6 836,652.7 838,652.7 840,652.7 842,652.7 844,652.8 846,652.8 848,652.8 850,652.8 852,652.8 854,652.8 856,652.8 858,652.8 860,652.8 862,652.8 864,652.8 866,652.7 868,652.7 870,652.7 872,652.7 874,652.7 876,652.6 878,652.6 880,652.5 882,652.5 884,652.5 886,652.4 888,652.4 890,652.3 892,652.3 894,652.2 896,652.1 898,652.1 900,652 902,651.9 904,651.8 906,651.8 908,651.7 910,651.6 912,651.5 914,651.4 916,651.3 918,651.2 920,651.1 922.1,651 924.1,650.9 926.1,650.7 928.1,650.6 930.1,650.5 932.1,650.4 934.1,650.2 936.1,650.1 938.1,650 940.1,649.8 942.1,649.7 944.2,649.5 946.2,649.4 948.2,649.2 950.2,649 952.2,648.9 954.2,648.7 956.2,648.5 958.3,648.3 960.3,648.1 962.3,648 964.3,647.8 966.3,647.6 968.3,647.4 970.4,647.2 972.4,646.9 974.4,646.7 976.4,646.5 978.5,646.3 980.5,646.1 982.5,645.8 984.5,645.6 986.6,645.3 988.6,645.1 990.6,644.8 992.6,644.6 994.7,644.3 996.7,644.1 998.7,643.8 1000.8,643.5 1002.8,643.3 1004.8,643 1006.9,642.7 1008.9,642.4 1010.9,642.1 1013,641.8 1015,641.5 1017.1,641.2 1019.1,640.9 1021.1,640.5 1023.2,640.2 1025.2,639.9 1027.3,639.5 1029.3,639.2 1031.3,638.8 1033.4,638.5 1035.4,638.1 1037.4,637.7 1039.5,637.3 1041.5,636.9 1043.5,636.5 1045.5,636.1 1047.5,635.6 1049.5,635.2 1051.5,634.7 1053.5,634.2 1055.5,633.7 1057.5,633.2 1059.4,632.7 1061.4,632.1 1063.3,631.6 1065.2,631 1067.2,630.4 1069.1,629.7 1071,629.1 1072.9,628.4 1074.7,627.7 1076.6,627 1078.4,626.3 1080.3,625.5 1082.1,624.7 1083.9,623.9 1085.6,623.1 1087.4,622.2 1089.2,621.3 1090.9,620.4 1092.6,619.5 1094.3,618.5 1096,617.5 1097.6,616.5 1099.3,615.4 1100.9,614.3 1102.5,613.2 1104,612.1 1105.6,610.9 1107.1,609.6 1108.6,608.4 1110,607.1 1111.4,605.8 1112.8,604.4 1114.1,603 1115.4,601.5 1116.5,600.1 1117.6,598.5 1118.7,597 1119.6,595.4 1120.4,593.7 1121.2,592.1 1121.8,590.3 1122.4,588.6 1122.8,586.7 1123.1,584.9 1123.2,583 1123.3,581 1123.2,579 1122.9,577 1122.5,574.9 1121.9,572.7 1121.2,570.5 1120.3,568.3 1119.2,566" fill="none" stroke="#231f20" stroke-width="1.35" stroke-linejoin="round" stroke-linecap="round"/>
<path d="M738,866.4 737.6,868.6 737.3,870.8 737.2,873 737.2,875.1 737.3,877.2 737.6,879.3 738,881.4 738.6,883.4 739.2,885.4 740,887.3 740.9,889.2 741.9,891.1 743,892.9 744.2,894.6 745.4,896.3 746.8,897.9 748.2,899.4 749.7,900.8 751.3,902.2 752.9,903.4 754.6,904.6 756.4,905.7 758.2,906.7 760,907.6 761.9,908.3 763.8,909 765.7,909.5 767.6,910 769.6,910.2 771.6,910.4 773.5,910.4 775.5,910.3 777.5,910.1 779.4,909.8 781.4,909.3 783.3,908.7 785.2,907.9 787,907.1 788.8,906.2 790.6,905.1 792.3,904 793.9,902.8 795.5,901.4 797,900 798.5,898.5 799.8,897 801.1,895.3 802.2,893.6 803.3,891.8 804.2,890 805.1,888.1 805.8,886.1 806.4,884.1 806.9,882 807.2,879.9 807.4,877.8 807.4,875.6 807.3,873.5 807,871.2 806.6,869" fill="none" stroke="#231f20" stroke-width="1.5" stroke-linejoin="round" stroke-linecap="round"/>
<path d="M1053.3,835.9 1055,836.6 1056.9,837.3 1058.8,837.9 1060.8,838.5 1062.8,839.1 1064.9,839.6 1067.1,840.1 1069.3,840.5 1071.5,840.8 1073.7,841.1 1075.9,841.3 1078.2,841.4 1080.4,841.4 1082.6,841.4 1084.8,841.2 1086.9,841 1089,840.6 1091,840.1 1093,839.6 1094.9,838.9 1096.7,838 1098.4,837.1 1100.1,836 1101.6,834.8 1103,833.4 1104.2,831.9 1105.4,830.2 1106.4,828.4 1107.2,826.5 1107.9,824.5 1108.5,822.4 1108.8,820.3 1109,818.1 1109.1,815.8 1108.9,813.6 1108.6,811.3 1108.1,809 1107.4,806.8" fill="none" stroke="#231f20" stroke-width="1.5" stroke-linejoin="round" stroke-linecap="round"/>
<circle cx="609.2" cy="189.5" r="33" fill="#7c7c7c"/>
<path d="M616 179.8Q617.3 179.2 618.6 178.7M596.6 171.7Q595.1 170.3 596.6 169M582.1 201.7Q580.7 201.6 579.4 201.3M612.9 216.9Q611.9 219.7 609 220.3M604.2 188.2Q602.9 187.2 603.3 185.6M630 193.3Q631.6 192.6 633.2 191.8M611.1 205.1Q612.7 205.9 613.4 207.6M611.7 185.4Q611.9 183.6 613.7 182.9M629.8 164.5Q630.3 162.6 629.3 160.8M634.5 178.8Q636.8 178 638.6 176.2M593.9 180.1Q593.6 178 593.2 175.8M633.6 194.9Q635.7 193.8 638 193.3M596.3 185.4Q594.7 184.4 593.6 182.8M587.7 188.4Q586 187.5 584.7 186M631.6 193.7Q634.2 193.2 634.5 190.5M589.6 205Q587.7 206.7 588.9 208.9M581.6 182.5Q580.7 181 579.8 179.6M581.2 174.6Q579.6 173.8 577.9 173.2M641 190.6Q642.3 193.2 645.1 193.8M619.4 163.4Q620 161.4 621.1 159.6M614.5 183.9Q615.5 183.1 616.4 182.4M595.1 207.2Q594.1 208.9 593.9 210.9M584.6 196.1Q585.2 197.9 583.8 199.2M625.2 170.5Q627.7 170.9 629.8 169.4M618.2 175.7Q618.3 173.7 620.2 174.3M609.3 185.6Q609.2 184.5 608.3 183.7M626.5 197.6Q627.9 196 630 196.4M605.1 173Q604.5 171.6 604.1 170.1M605.4 192.8Q605.7 194.5 603.9 194.6M578.4 187.5Q576 187.9 574.6 190M613.9 190Q614.5 188.1 616.5 188M597.3 165Q598.2 162.9 596.2 161.9M580.3 186.5Q578.5 187.9 576.4 188.7M598.5 211.7Q598.1 213.2 596.7 213.8M631.9 167Q632.3 164.3 633.8 162M608 158Q606.1 156.6 607.2 154.6M638.8 196.7Q640.2 199 642 201.1M618.3 179.6Q620.1 180 622 180.4M597.8 205.9Q598.1 207.9 597.9 210M620.5 198.2Q621.3 199.5 622.1 200.7M622 176.1Q623.3 175.3 624.5 176.3M627.7 188Q629.6 188 630.5 189.6M623.2 166.8Q625.1 167.9 626.8 166.5M582.4 192.1Q582 190.3 580.5 189.4M613.8 197.8Q612.5 198.6 612.8 200.1M622.8 168.3Q622.7 166.5 623.8 165M585.2 171.1Q584.2 168.4 585.6 165.8M628.3 204.2Q630 204.8 630.9 203.2M622.9 164.1Q624.1 162 623.5 159.7M591.2 180.9Q590 181.9 588.5 181.3M581 177.4Q579.8 175.6 580.1 173.4M622.7 164Q620.4 162.8 620.2 160.2M617.5 182.2Q618.8 180.6 617 179.6M625 203.5Q626.5 204.3 628.1 203.5M618 184Q620.4 183.3 620.9 180.8M608.8 207.1Q608.4 208.4 608.9 209.7M615.7 189.9Q615.9 191.2 616.8 192.3M600.8 209.6Q600.8 212.4 603.3 213.7M633.7 210.1Q635.9 211.8 638.3 210.4M600.1 167.3Q600.2 165.7 600 164.1M609.6 207.5Q609.9 209.7 612.1 209.3M596.6 171.7Q595.6 169.5 595.2 167.1M600.8 205.4Q599.4 207.5 600.4 209.8M600.2 204.9Q598.8 206.3 597.9 208M625.2 191.6Q626.4 191.2 627.4 190.5M616.9 193.4Q617.2 195 618.8 195.3M624 172.2Q624.9 170.2 623.8 168.3M617.8 186.7Q620.1 185.9 619.7 183.5M596.7 216.2Q596.3 218.6 598.4 220M623 178.6Q621.8 176.2 623.5 174.1M624.2 179Q626.4 180.3 628.8 179.3M598.8 163.4Q596.6 163.5 595.3 161.6M595.6 165.6Q595.1 163.6 593.1 164.2M581.4 180.6Q579 179.7 576.7 178.6M598.4 206.9Q597.9 208.1 598.3 209.4M590.3 180.5Q589.4 182.3 587.3 182.2M608.5 201Q607.7 202.3 606.4 203.1M611.8 214.8Q613.7 215.6 615.6 216.3M585 199.4Q582.6 200.2 580.4 199.3M586.5 192.5Q585.1 193.6 583.9 195M636.1 174.2Q636.1 171.5 638.6 170.3M600.5 188.9Q600.5 187.4 599 187M597.6 217.8Q596 219.8 593.9 221.3M606.9 162.4Q608.4 160.1 607.5 157.4M580.5 175.7Q579 177.1 577.1 176.6M610.4 165Q609 163.1 606.9 162.4M590.1 187.7Q589.3 190.1 586.7 190.2M620.7 159.4Q622.8 158.8 622.8 156.5M629.6 213.9Q629.4 216.6 630.1 219.1M583.6 198.7Q581.2 197.5 579.2 195.8M582.6 201.4Q583 203.6 581.2 204.8M639.2 181.7Q640 179.5 641.3 177.7M606.1 200.2Q608.1 201.6 607.1 203.9M596.1 194.8Q595.5 196.6 595.6 198.5M617.2 218.1Q619.2 219.2 620.1 221.3M609.1 214.4Q607.2 216.1 607.2 218.7M578.4 180.5Q576.1 179 573.3 179.1M591 205.9Q589.5 206.9 589.9 208.6M609 178.3Q610 176.3 609.4 174.1M630.2 213.8Q632.1 215.1 633.1 217.2M594.9 207.6Q594.1 208.6 593.2 209.5M601.8 210Q601 212.2 601.3 214.5M595.5 171.3Q593.3 171.6 593.1 169.4M595.2 179.6Q595 177.4 594.7 175.3M577.8 197.2Q576.4 195.6 574.3 195.3M598.2 219.9Q599 222.1 599.9 224.2M628.7 189.9Q630.3 189.3 632.1 189.2M583.2 174.2Q582.5 171.5 580.5 169.7M608.6 166.7Q609.6 164.8 609.8 162.7M594.9 174.5Q594.7 171.9 592.8 170.2M612.5 159.8Q613.8 157.9 615.7 156.7M604.8 173.4Q604.9 171.2 606.8 170.3M579.7 192.4Q578.2 192.6 576.8 192.9M584.4 202.6Q583.9 205.3 581.3 205.9M631 181.8Q632.8 182.6 634.6 182.1M615.7 213.9Q618.1 214.9 619.5 217M613.5 181.7Q614.3 180.5 615 179.3M622.9 213.8Q622.3 216.3 623.7 218.4M596.2 178.8Q594.2 179.6 592.5 178.4M628.5 168Q630.5 167 629.7 164.9M624.4 166.8Q623.6 164.3 622.2 162.2M592.6 197.1Q590.3 197.8 588.3 196.5M622.2 211.7Q620.1 212.7 620.3 215M587.4 172.3Q585.2 173.2 583.3 171.7M606.6 177.7Q604.9 176.4 604.7 174.4M603.8 162.5Q602.6 161.5 602 160.1M627.7 202.9Q629 203.1 630.3 202.7M615.6 219.5Q617.5 221.2 620.1 221M585 168.7Q582.1 168.9 580.1 166.8M631.5 204.7Q633.6 205.1 635.3 206.2M610.7 202.8Q609.6 204 608.9 205.5M605.9 174.9Q606 172.7 603.9 171.9M640.3 198.8Q642.3 200.6 643.4 203.1M591.6 179.8Q592.5 177.9 591.1 176.4M625.5 212.6Q626.2 214.3 624.7 215.3M634 198.8Q635.5 198.8 637 199.1M633.9 172.9Q635 171.4 633.8 170M608.2 196.2Q610.1 196 609.6 197.8M608.3 163.6Q609.7 161.5 610.1 159M595.4 174.6Q595.2 172.4 596.6 170.7M616.5 186.3Q618 186.4 619.2 185.8M585.1 186.1Q584.1 187.6 582.7 188.7M619.8 179.6Q621.5 178.5 622.1 176.6M604.1 161.9Q606.2 160.9 605.4 158.8M620.2 183.3Q622.6 182.5 624.2 184.4M613 180.4Q614.9 179.6 613.9 177.7M602.8 188.2Q601.7 188.5 600.6 188.1M629.4 171.1Q627.7 169.3 628.5 167.1M634.2 204.4Q636.2 204.2 637.5 202.6M621.7 202.8Q620.7 205 622.1 207.1M593.2 197.6Q592.8 199.5 591.3 200.8M613.2 171Q614.5 169.2 616.8 169.7M584.3 197.8Q583.4 195.5 581 194.7M582.7 183.5Q580.9 181.6 580.4 179.1M600.4 198.9Q599.8 200.1 598.6 200.6M632.9 196.2Q634.6 197.6 635.4 199.7M598.5 203.7Q598 205.7 597.5 207.7M623.2 208.5Q623.3 210.3 622.3 211.7M617.7 188.4Q619.9 189.4 621.6 187.7M622 160.2Q624.9 160.5 627.4 159M597.4 187.7Q595.6 186.2 593.3 186.4M608.6 162.3Q608.2 159.6 607 157.3M589.1 194.1Q587 193.4 586.5 191.2M604.4 177.9Q602.9 176.2 603.3 173.9M606.3 168.9Q605.2 168.1 603.9 167.7M622.3 199.9Q624.2 200.3 626.1 200.5M617.4 193.5Q618.9 194.8 618.5 196.8M639.1 193.6Q641.7 193.9 644.2 192.8M622.6 178.6Q625.2 178.7 626.6 176.6M599.6 170.6Q599.7 168 597.9 166M620 164Q621.7 162.9 623.4 163.8M612.8 161.6Q612.8 159.6 613.4 157.6M617.9 160.2Q619.6 159.5 619.3 157.7M617.3 209.9Q620 210.2 620.5 212.9M605.5 200.1Q603.2 199.5 602 201.6M587.7 179Q586.1 177.9 584.3 176.9M637.4 181Q639 179.4 641.3 178.9M591.4 188.8Q589.9 186.9 587.8 187.9M600.6 179.6Q601.5 177.8 602 176M593.1 200.9Q591.1 199.6 588.7 199.3M636.7 175.5Q638.6 176 640.4 176.7M589 210.3Q587.2 211.3 585.1 211.3M625.5 204.2Q627.8 203.5 628.8 205.6M608.3 203Q607.4 204.6 605.7 205.3M607.6 221.9Q606.8 224.4 607.2 226.9M612.8 168.4Q613.1 166.3 613.4 164.2M602.4 158.2Q601.7 156.1 599.6 156.8M624.6 192Q626.7 192.8 627.7 190.8M605.8 169.3Q606.8 168.3 607.3 167M578.3 179.6Q577.1 177.5 574.8 178.1M634.7 208.8Q635.8 210.6 637.6 211.6M608.1 200.6Q607.9 202.5 609.3 203.6M616 160.2Q616.6 158.7 617.8 157.7M601.9 215.1Q602.3 217.9 600.4 219.9M632.8 208Q635.6 208.2 637.7 210.2M588.9 201.2Q586.3 201 584 199.6M627.2 175.5Q629 175.4 629.8 173.9M590.4 191.2Q589 193.2 588.5 195.6M639.9 183.4Q641.4 181.8 643.2 180.6M624.7 165.8Q625.4 164.1 624.7 162.3M623.5 204.7Q625.3 205.3 627.3 205.3M578 183Q576.4 182.5 575.1 181.6M603.4 173.3Q602.1 172.7 601.3 171.4M597.4 208.4Q595.5 208.6 595.3 210.6M582.8 183.6Q581 184.4 580.2 186.1M619.1 165.4Q620.8 164.8 622.4 164.2M622.2 202.9Q623.7 201.6 625.2 203M602.2 166.7Q601 164.7 601.6 162.4M596 183.5Q594 182.4 595 180.4M607.6 193.8Q607.8 195.2 606.4 195.6M635.9 187Q637.9 186.1 639.8 185.1M606.8 193.8Q606.3 195.3 607.5 196.2M635.1 196.3Q636.2 193.9 638.8 193.5M607 207.7Q608.7 207.6 608.9 209.3M628 181.2Q629.6 181.6 631 180.8M592.3 187.9Q590.2 189 587.9 189.2M590.8 166.9Q592.1 164.8 591.1 162.5M600.3 170.8Q600.1 168.9 599.6 167.1M590.5 204.2Q588.5 203.6 586.4 203.4M601.7 189.1Q600.8 190 599.7 190.6M609.1 213.5Q610.2 215.2 611 217M625.6 202Q627.5 202.9 629.4 203.5M622.5 169.6Q623.8 167.2 626.4 167.5M601.8 173.1Q599.2 173.3 597.5 171.3M615.6 219.3Q614.7 221.8 612.9 223.7M625.7 215.3Q625.5 217.3 624.9 219.1M600.2 182.9Q598.5 181.7 596.6 182.4M634.4 190.8Q635.3 193.2 636.9 195.2M590.7 181.9Q590.9 179.9 589.5 178.5M587 201.3Q585.5 200.2 583.7 199.6M601.8 190.9Q602.7 193.1 600.6 194.1M614.3 193.8Q615.8 193.2 617.3 193.5M626 187.8Q626.7 189.8 628.8 190.6M610.1 218.9Q608.9 220.2 608 221.6M619.8 205.8Q620.3 208.2 619.6 210.5M591.9 214.6Q589.1 215.5 587.3 217.8M602.2 192.6Q600.5 192.6 600.1 194.2M602.4 169Q601 167.1 602.3 165.2M629.9 172.7Q630.2 170.5 630.6 168.3M604.5 171.1Q606.3 171.1 606.3 169.4M619.3 172.1Q617.7 170.3 618.5 168M627.7 186Q629.8 186.2 632 186.6M586.9 190.5Q584.5 190.2 583.2 188.2M588.4 183.9Q586.6 181.9 584 181.9M600.2 198.3Q601.7 199.4 600.4 200.6M610.6 175.7Q610.9 173.6 612.4 172M621.8 187.3Q624.5 187.1 625.5 189.5M595.6 174.3Q595.2 171.9 594.6 169.6M629.5 190.2Q630.5 192.8 633.2 193.3M594.7 211.6Q593.3 214 594.6 216.3M623.6 217.9Q624.4 219.9 624.7 222.1M635.8 178.1Q638.1 178.9 640.5 178.6M583.6 183.5Q581.8 185.4 579.1 185M589.4 206.5Q587.6 207.7 585.8 208.9M611.4 221.6Q614.2 222.2 616.5 223.9M594.4 198.2Q592 198.3 590 199.7M591.3 185.5Q589.5 185.6 587.7 185.2M598.7 197.6Q597 198 597 199.7M620.5 205.4Q620.7 207.8 622.6 209.4M606.2 164Q604.8 163.1 604.8 161.4M605.7 208.4Q606.7 209.9 605.4 211.2M614.6 204.9Q614.9 206.9 613.4 208.3M624 174.2Q625.3 172.7 627.1 171.9M599.1 179.3Q597.2 181 595 179.9M588.4 208.4Q586.8 210.2 584.3 209.8M630.5 200.2Q632.2 199.3 634.1 199.8M635.5 187.3Q637.5 185.6 640.1 185.4M593.4 211.9Q591.7 212.3 591.6 214.1M594.7 192.9Q593 194 591.5 195.5M610 164Q610.2 162.3 608.6 161.6M616.2 172.6Q617.9 171 620 171.9M589.1 167.2Q587.5 166.7 585.9 166.2M618.6 183.2Q620.5 182.6 622.5 182.7M630 212.8Q632 214.1 630.9 216.2M612.6 200.3Q612.2 201.7 611.8 203.2M606.4 214.8Q604.3 216.3 604.6 218.8M623.4 171.3Q625.6 171.3 627.9 171.9M623.1 199.3Q623.2 200.6 623.7 201.9M630.2 195.6Q632.4 194.9 634.6 194M635.4 172.4Q634.1 169.9 635.8 167.7M589.5 197.1Q587.3 196.7 586.3 194.7M586.2 186.3Q584.1 186.2 583.2 188.1M614.6 157.8Q612.6 155.9 610.7 153.9M622.4 216.1Q625.1 216.3 627.4 217.8M602.5 189.5Q601.3 188 600.7 186.2M618.6 158.5Q620.4 157 622.6 156.1M578.8 195.2Q578.1 192.7 575.7 192.1M589.1 199.5Q587.8 201 585.9 200.3M624 169.4Q625.3 167.1 624.7 164.6M584.6 204.1Q582.6 202.5 580.4 201.4M599.4 184.6Q598 186.2 596 186.9M590.5 183.3Q588.9 182.2 587.3 181M624 168.3Q625.9 167 625.9 164.8M610.2 191.1Q610.4 192.8 612 192.4M618.9 197.3Q620.3 198.8 622.2 198.3M628.6 163.5Q628.8 161.5 630.9 161.6M620.2 166.1Q620.1 163.5 619.8 160.9M591.1 172.8Q589.3 171.7 588.1 173.4M623.8 197.9Q625.8 197.2 627.8 198.1M606.7 204.2Q607 206.3 606.2 208.1M639.2 184.9Q640.8 185.2 641.8 186.5M629 165.3Q628.4 163.4 628.6 161.3M636.8 194.5Q639.4 195.2 641.5 193.5M603.6 186Q602.3 184.7 601.3 183.1M619.6 219.8Q621 220.7 622.6 221.1M608 200.8Q607.4 202.6 609.2 202.7M627.5 185.3Q628.6 187 630.4 186.1M612.3 189.1Q613 188.1 613.3 187M609.5 186.4Q607.2 186.3 607 184M615.2 212.4Q616.7 213.5 617.7 215.2M597.6 172.8Q596.4 171.8 594.8 171.9M625.4 182.3Q626 180 628.3 180.3M612.9 192.4Q612.7 194.5 614.8 195M603.6 168.9Q602.6 167.9 602 166.7M618.3 163.8Q620.7 163.5 623.1 162.7M585.1 189.3Q582.9 189.2 580.7 189.5M580.6 198.8Q578 199.2 575.8 200.7M587.5 180.4Q585.8 178.9 585.5 176.7M594.9 178.4Q592.8 177.8 591.6 179.6M594.5 194.9Q592.3 194.1 590.1 194.5M590 206.6Q589 208.6 587.2 209.9M638 191Q640.3 191.8 641.9 193.7M607.1 192.9Q605.1 193.3 604.8 195.4M622.1 196.8Q624.4 196.5 626.4 195.3M605 178.7Q605.3 176.7 607.1 175.8M599.5 159.1Q597.3 157.8 595.2 156.5M592.8 207.9Q592.2 209.7 591.8 211.5M623.9 173.1Q625 171.3 623.3 170.1M590.5 172.4Q589.3 171.2 588.8 169.6M617.8 201.7Q615.8 202.9 616 205.2M608.8 188.3Q608.4 186.9 607.1 186.2M605.3 193.7Q603.8 194.8 602.4 196M594.6 178.4Q593.7 177.1 592.6 176.1M626.2 190.7Q627.4 190.3 628.6 189.8M625 172.8Q627.5 173.7 629.3 171.6M597.5 201.5Q597.3 202.8 597.1 204M625.1 206.4Q626.1 209.2 624.3 211.4M610.9 190.2Q613.1 190.7 613 192.9M606.2 188.8Q605.5 190.5 604.3 189M613.8 203.7Q615.6 204.4 616.3 206.3M613 204.7Q612.1 205.8 611.4 207.1M598.5 208.6Q599.1 210.1 597.7 211M611.1 163.6Q611.4 161.6 609.4 160.9M612 179.7Q613.6 180.2 614.2 178.7M621.3 192.9Q622.8 192.9 624.2 192.3M615 168.7Q615.1 167 616.7 166.4M630.1 208.2Q630.7 210.8 629.4 213.1M609 206.9Q610.7 208.1 609.4 209.8M614.7 204.8Q614.9 206.9 616.9 207.5M589.5 172Q589.1 170.1 589.3 168.3M617 175.4Q619.2 175.2 621.3 174.4M619.1 194.3Q619.9 196.2 620.9 198M637.5 176.4Q639.4 176.5 641.3 176.8M593.9 201.2Q593.7 202.9 592 202.8M597 184.1Q595.3 182.6 595.8 180.5M593.9 173.7Q592.5 173.4 591.2 173.7M599.5 177Q597.3 177.2 595.3 176.2M589 182.9Q589 180.3 587.1 178.5M633.6 200.8Q636 201.8 637.6 199.8M619.1 215.4Q620.8 217.4 622.5 219.5M628.2 165.9Q630.6 165.8 632.6 164.7M623 202.5Q623.5 203.9 622.6 205M634 183.9Q636 183.4 636.2 181.4M594 200.1Q592.1 200.3 592.4 202.2M636.3 190.7Q637 189.2 638.4 188.4M628.6 213.2Q630.4 213.8 632.2 214.3M579.3 181.9Q578.2 180.1 577.5 178M582.7 174.7Q580.6 174.2 578.9 172.9M628.3 199.1Q630.3 197.6 632.6 198.3M616.9 202.2Q618.1 202.7 618.7 203.8M598.1 166.7Q599 165.5 599.1 164M601.3 201.5Q599.5 202.7 598.5 204.6M641.3 193.1Q642.9 191.1 645.3 191.9M604.2 195Q604.2 196.8 602.5 196.5M608.2 171.2Q608.8 168.8 608.7 166.4M581.7 175.9Q579.3 176.4 578.1 174.3M604.8 182.7Q604 181.4 605.2 180.6M602 206.7Q600.9 207.9 599.3 207.9M630.8 182.6Q631.3 180.1 633.8 179.7M628.4 180.1Q629.6 178.8 630 177.1M587.5 178.3Q585.5 177.3 584.2 175.4M593.8 201.1Q591.6 201.2 590.7 203.3M589.8 195.9Q587.2 195.7 585.3 194M609.6 217.3Q608.9 218.5 608.2 219.7M601.6 166.2Q603 164.4 604.2 162.3M632 191.4Q633.8 192.6 635.9 192.2M598 182.5Q595.8 182.4 594.5 184.1M601 169.6Q599.6 168 600.9 166.4M591.6 211.6Q590.6 213.7 591.9 215.6M580.3 176.5Q580 174.8 579.9 173.1M609.5 192.5Q608.5 192.9 608.2 194M632.3 187.7Q633.7 188.5 633.9 190.1M593.6 217.9Q593.8 220.6 594.7 223.2M592.2 183.5Q590.5 183 588.8 182.8M599.2 180.6Q600.4 179 599.7 177.1M618.9 203.8Q621.1 202.3 623.6 203.2M597.9 172.9Q597.6 171 597.6 169M581.8 199.9Q580.7 198.7 579.1 198.8M601.5 196.1Q600.8 197.1 599.8 197.9M638.4 196.3Q640.8 195 643.4 193.9M626.5 178.9Q627.9 179.3 629.4 179.1M611.4 175.9Q610.7 173.5 612.6 172M613.2 220.6Q610.9 221.4 610.7 223.8M619 192.9Q621 193.4 623 194M621.1 209.4Q620.8 211.6 622.7 212.7M581.5 193.4Q579.4 193.7 579.6 195.9M613.2 214.6Q612.5 216.1 611.6 217.4M633.4 207.9Q634.6 206.5 636.3 207.3M600.5 207.4Q600.6 208.7 600.6 209.9M607.9 167.8Q606.5 166.4 606.1 164.3M622.1 214.6Q623.2 216.2 624 218M586 184.1Q583.4 183.1 581.3 185M593.2 171.2Q593.1 169.5 592.4 167.9M587.2 191.7Q585.7 193.1 583.5 192.9M614.1 204.7Q613.4 206.2 614.4 207.6M611.1 158.6Q609.8 156.2 609.4 153.4M593.1 178.5Q592.8 176.6 591.1 175.7M602 218.6Q602.1 220.7 603.4 222.3M621.2 213.2Q621.7 216.1 624.5 217.1M614 164.7Q614.4 162.6 616.5 162.8M590.2 206.3Q588.6 207 586.9 207.2M633.5 205.7Q635 206.4 636.5 206.8M636.9 187.3Q638.4 187.8 639.7 188.7M593.7 171.3Q594.4 168.4 592.4 166.3M617.3 202Q615.3 202.5 616.1 204.3M599.5 183.8Q598.5 184.6 597.2 184.5M600.6 161.8Q599.3 160.9 598.6 159.4M610.5 203Q609.3 204.8 610.8 206.3M599.7 187.5Q598.4 187.5 597.4 186.7M618.7 182Q619.2 181 619.9 180.1M627.1 174.1Q629 175 630.2 173.4M608.4 187.3Q606.6 187.9 605.1 186.5M620.5 162.8Q621.6 161.7 623 161.1M607.1 179.2Q608.7 178.5 609.7 177.1M625.8 210.2Q626.8 211.9 628.7 212.3M595.1 204.9Q594.9 206.9 592.9 206.8M624.9 191.6Q626.2 192.7 627.9 193.2M632.3 197.7Q634.8 198.9 634.7 201.7M613.9 168.7Q614.7 166.4 614.1 164.1M631.1 174.8Q633.3 173.4 635.3 174.8M601 169.2Q599.9 167.5 599.7 165.4M610.1 219.3Q610.6 221.5 609 223.1M612.3 192.8Q614.1 191.8 615 193.8M611.6 181.4Q613 181 614.5 180.8M629.9 203.9Q630.7 206.4 633.3 206.7M584.2 182.2Q581.6 182 579.1 181.8M606.9 167.2Q606.9 165.8 606.3 164.5M588.6 211.6Q587.5 213.3 589 214.7M603.1 180.6Q601.5 179.2 599.8 180.4M603.6 204.2Q602.5 205.6 601.6 207.2M628.9 194.7Q630.1 195.7 631.7 196.1M606.7 210.9Q604.6 210 603.6 212M587.2 184.7Q585.6 184.5 584.4 185.6M590.3 178.3Q588.4 178.1 586.6 178.9M595 165Q593.7 163 592 161.5M593.9 173.1Q592.2 173.6 591.4 172.1M634.2 169.5Q636 170.7 637.8 169.7M581.3 182.1Q579.5 180.8 578.3 182.6M628.4 163.3Q630.8 161.8 630.9 159M626.1 206.4Q624.8 208.1 625.1 210.3M632.7 199.7Q634.3 199.4 635.3 200.5M597.7 159.8Q598 158.1 597 156.7M592.8 170.3Q591.9 167.9 591.3 165.4M584.2 184.8Q581.8 184.9 580.1 183.1M614.9 194.6Q616.3 193.6 618 193.7M624.3 214Q627.1 213.3 629.3 215.2M602.1 171.5Q600.6 170.3 601.4 168.6M609.5 214.2Q607.3 214.4 607.2 216.6M605.5 186.4Q604.1 186.3 602.7 185.8M620.8 216.3Q620.1 217.7 620.2 219.2M582.6 202.2Q580.6 202 579 201M640.2 187.6Q640.8 189.8 643.1 189.5M622.4 175Q622.2 173.3 623.5 172.2M636 186Q637.5 186.5 639 185.8M615.3 159.3Q614.4 157.5 612.4 157M636.4 188.8Q637.5 191.1 639.6 192.5M628.8 193.9Q629.2 196 631.2 196.5M616.6 180.3Q618.6 179.7 620 178M587.8 187.3Q586.6 188.3 585.6 189.5M600.6 200.1Q598.4 200.1 597.6 202.1M589 182.4Q586.9 181.7 584.7 181.7M629.1 214Q630.9 214.5 632.8 214.3M617 214.3Q619 215.2 620 217.2M632.4 207.9Q632.2 209.6 633.3 211M636.1 179.5Q637.1 180.7 638.6 180.9M613.1 158.7Q612.5 156.3 613.3 153.8M585 205.7Q583.8 204.8 582.4 204.4M610.4 177.8Q612.3 178.1 613.3 176.5M624.6 192.3Q626.7 192.6 626.8 194.7M630.9 174Q630.5 171.8 631 169.7M615.2 192.5Q616 191.3 617.5 191.1M591.9 173.1Q590.8 170.8 591.7 168.3M627.6 171.5Q629.6 169.8 628.6 167.4M601.4 164.8Q600.5 162.1 597.9 160.8M603.3 207Q603.7 209.1 605.8 209.6M626.5 212.5Q628.2 212.4 629.5 213.7M616.6 202.1Q616.5 204.5 618.4 206.1M598.8 212.9Q597.7 214.8 595.8 213.7M613 174.9Q613.2 173.1 614.9 172.6M583.3 187.6Q581 187.4 580.4 185.1M610.2 198.1Q610.2 199.9 610.5 201.6M612.3 188.6Q613.3 187.1 615 187.5M612.8 205.1Q613.5 207.4 612.7 209.6M604.7 208.2Q605 209.7 606.5 209.9M640.2 198Q641.4 196.2 643.5 195.4M620.2 177.7Q621.6 176.4 620.4 174.9M599.2 165.9Q600.7 164.5 599.1 163.2M610 195Q608.9 197 610.7 198.5M611.2 191.8Q612.5 192.9 613.3 191.4M600 187.2Q599.3 188.3 598.1 188.1M593.3 185.1Q592.5 183.5 591.6 181.9M616.5 205Q616.1 207.1 618.1 207.9M623.8 191.9Q624.2 190.2 625.9 189.7M624.1 175.5Q626.3 176 628 174.5M637.2 201.6Q638.5 202.6 639.3 203.9M606.5 209.6Q607.2 211.1 608.7 211.5M636 172.4Q634.9 170.2 635.8 167.9M586.3 184.6Q585.1 185.4 583.9 186M613.2 183.2Q614.4 184 615.3 182.9M638 196.9Q640.3 196.8 641.7 198.6M582.3 177.6Q582.4 174.5 579.9 172.8M627.7 170.5Q627.2 168.8 627 167M593.5 206.7Q591.4 205.9 589.5 207.2M629.4 181.8Q631.5 180.3 633.3 178.6M594.7 175.8Q592.6 175.7 590.6 176.2M635.1 202.9Q637.6 202.2 639.3 204.1M632.2 172.9Q635 173.4 636.7 171.2M587.3 187.9Q585.5 186.6 584.8 184.5M611.9 164.7Q612.4 162.9 614.2 162.8M603.5 163.2Q603.7 161.1 604.6 159.3M608.3 221.3Q610.1 222.1 609.5 224M595.8 167.6Q593.3 167.6 591.6 165.8M596.3 174.5Q597.1 172.6 595.9 170.9M597.7 170.4Q598.3 168.5 598.5 166.5M639.9 196.2Q640.4 194.7 641.8 194M591.6 173.4Q592.2 171.7 590.5 171M624.7 186.3Q626.9 185.8 628.4 184.1M604.3 189.1Q602.5 190.3 600.4 189.7M618.6 207.7Q620.5 208 622.4 207.7M616 178.3Q616.5 176.1 615.8 174M579.6 201.7Q577.7 200.2 575.3 200.1M588.4 188Q586.4 187.5 585.4 189.4M613.7 181.6Q614.6 180.8 615.8 180.4M579.5 187.9Q577.4 188.8 575.4 187.6M608.9 157.2Q608.6 155.1 607.1 153.7M580.5 179.9Q578.6 180 576.7 180.4M600.5 160.2Q599.7 158.9 598.2 158.4M621.1 177.8Q622.2 175.5 621.3 173.1M625.4 191.1Q627.1 191.3 627.2 193M618.6 207.3Q620.4 208.2 622.4 208M636.1 199.7Q638.2 199.2 639.4 197.4M597 181.1Q594.6 180.5 592.8 182.2M585.1 209.7Q585.4 212.3 585.3 214.8M592 198Q589.9 198.2 587.7 197.9M619 203.1Q621.3 204.5 623.6 203M602.2 184.8Q603.8 183.3 602.3 181.6M606.8 177.3Q606.7 175.8 608.1 175.3M612.5 220.9Q611.5 223.5 611.7 226.3M600.5 216.7Q599.3 217.7 597.8 218.2M602.7 167.7Q601.3 167.8 600.1 167M620 182.6Q621.2 181.3 622.7 180.4M636.1 175.9Q637.3 176.9 638.9 177.1M634.1 175.3Q635.5 173.6 637.8 173.8M612.1 189.9Q613.5 189.1 615.2 188.9M606 213.2Q604 214.9 601.4 215.1M625.1 201.9Q626.2 203.2 627.9 203.2M602.1 172.8Q600.1 172.1 598 172.3M611.5 172.1Q613.7 171.3 615.1 169.4M590.6 178.6Q591 176.5 589.2 175.6M599.3 162.4Q600.6 161.2 600 159.6M600.8 169.5Q601.4 167.7 600.5 165.9M639.3 188.4Q641.3 186.5 641.7 183.7M611.1 164.5Q609.2 163.1 610.2 160.9M620.2 160.2Q622.1 158.5 622 156M597.2 183.8Q597.4 181.5 595.1 181M602.1 174.6Q603.8 173.3 602.7 171.4M621.8 206.1Q623.2 208 625.2 206.8M634.3 171.2Q636.5 171 638.4 170M633.5 182.4Q635.4 182.1 636.6 180.6M607.2 160.4Q605.1 159.4 604 157.3M608.6 206.5Q609.5 207.6 610.9 207.8M631.9 207.5Q630.8 209.5 631.6 211.6M615 192.7Q616.8 193.2 615.8 194.7M634.6 196.7Q637.1 195.6 639.4 197.1M634.4 173.5Q635.9 175.5 638.4 175.6M597.6 183.7Q596 182 596.5 179.7M585.5 207.2Q583.1 208.2 581.4 210M620.7 174.9Q622.9 173.6 625 175.1M605.6 187.7Q604.2 187 603.7 188.5M607.8 196.5Q606.9 198.7 608.7 200.3M581.4 196.9Q581 199.7 578.9 201.7M613.8 163.9Q615.7 161.7 614.8 159M604.2 170.5Q602.9 169.3 601 169M597.3 201.7Q595.6 200.7 594.5 202.3M611.3 201.5Q610.1 202.8 611 204.2M622.8 203.5Q623.1 205.2 624.1 206.7M619.5 193.1Q621 191.9 622.7 192.7M616.8 176.8Q618 175.2 616.8 173.7M613.7 157.4Q611.1 156.1 610.7 153.3M604.5 218.2Q606.4 219.4 606.2 221.7M621 165.7Q622 163.3 624.5 162.5M618.1 175Q618.6 173 618.7 171M611.5 201.9Q609.8 203.2 608.6 204.9M613.3 189.9Q613.6 191.8 615 193M623.1 180.5Q623.8 178.6 623.3 176.6M616.8 171.2Q617.4 168.5 615.4 166.6M600.1 206.1Q598.5 206.5 597.1 207.4M634.6 180.4Q636.4 180.3 638 181.1M612.2 181.1Q613.3 180.5 614.5 179.9M605.3 208.2Q605.7 210.6 608.1 210.8M609.6 176.1Q611.5 175.3 611.6 173.3M593.9 174.9Q592.4 174.9 591.1 175.5M579.8 194.3Q578.1 193 576.8 191.4M634.5 175.7Q636.9 175.7 638.7 177.4M592.3 183.1Q590.5 183.3 589.8 185M599.5 176.4Q598.1 176.3 597.2 175.2M606 207.6Q606.3 209.9 607.1 212.1M607.2 212.3Q608.5 214.3 608.8 216.6M599.7 197.7Q597.3 197.3 595.6 199M620.4 209.4Q619.7 210.6 619.5 211.9M596.1 218.7Q595.5 220.5 594.4 222.1M601.3 182.3Q599.4 181.7 600.4 180M599.5 202.2Q598.4 203.9 597.5 205.6M615 190.2Q616.2 191.2 617.4 190.2M618.6 163Q620.3 162.2 620.4 160.3M618.1 204.5Q619.7 206 621.4 204.6M594.8 166.8Q594.3 164.5 592 164.2M592.9 217.6Q592.2 219.8 590.1 220.8M628.9 201.8Q629.1 203.7 630.2 205.2M611.8 218.1Q609.7 219.8 607.6 221.5M603.6 182.8Q604.1 181.3 602.9 180.4M608.1 206.7Q609 208.6 611 209.3M600 215Q601.1 216.3 600.2 217.8M613.4 205.3Q615.4 204.3 616.5 206.3M632.3 189.9Q633.4 188.5 635 189.2M633.6 201.5Q634.2 203.7 635.7 205.4M605.1 166.2Q602.7 166 602.5 163.6M607.4 190.6Q605.3 190 603.8 191.6M615.7 185.8Q616 184 617.8 183.8M599.8 192.4Q597.8 192.3 596 193.2M597.5 181.4Q596.5 180.2 596.7 178.7M625.4 186.6Q626.2 184.8 627.7 183.5M581.5 189.5Q579.4 190.8 577.4 192.4M610.1 194.2Q611.8 194.1 612.2 195.8M588.9 173.1Q587.6 172 585.9 171.6M611.4 169.7Q614 169.5 614.8 167.1M619.8 175.1Q621.1 173.3 621.6 171.1M605.9 206.6Q605.1 208.5 603 208.6M624.8 208.7Q626.5 209.5 628.1 208.5M618.9 178.3Q616.9 177.3 618 175.4M589 171.7Q589.7 169 587.9 166.9M595 205.2Q594.1 207.1 592 207.3M592.6 203Q591.4 202 589.9 202.5M632.6 175.4Q634.3 173.5 636.9 173.7M638 199.2Q639.8 199.3 640.6 200.9M589.1 207.5Q588 209.2 586 208.5M590.1 188.8Q588.1 187.6 586.7 185.8M580.1 177.3Q577.9 177.4 576 178.5M630 208.9Q631 211.3 629 213M617.8 174.4Q617.6 172.8 616.4 171.6M606.9 178.1Q607.9 176.7 606.9 175.4M612.3 197.7Q612.8 199.6 611.5 201M621 172.9Q620.9 171.6 620.7 170.3M603.2 176.1Q602.2 175.1 600.9 174.6M578.8 180Q578.9 177 577.5 174.5M592.1 207.2Q593.4 209 592.7 211.2M586.8 199.4Q584.8 199.8 582.9 200.6M579.7 179.1Q577 179.7 575 181.7M590.7 196.3Q588.9 196.2 587.4 197.1M639.9 200Q639.7 203.1 641.7 205.4M597.7 170.6Q595.8 169.8 595.7 167.8M594.8 191.6Q593.5 192.1 592.5 193.2M617.7 174.5Q617 173.2 616.6 171.8M617 176.6Q616.8 175.1 618.2 174.5M599.4 214.8Q601 216.3 599.6 218.1M596.3 214.7Q596.4 216.2 596.5 217.7M635.6 180.4Q636.7 181.2 637.9 182M587.6 182.6Q585.3 181.9 582.8 181.9M630.1 184.5Q631.4 184.7 632.6 184M590.9 163.3Q588 163.9 585.9 161.7M629 211.9Q630.1 213.6 628.9 215.2M592.9 189.1Q590.7 189.6 589.7 187.6M625.9 162.6Q626 161.1 626.7 159.8M639.8 180.4Q642 179.7 641.6 177.5M602.9 171.7Q605 170.4 605.4 168M618.2 165.7Q616.8 163.5 617.1 160.8M610.6 178.2Q612.5 177.9 614.2 176.8M599.7 187.8Q598.4 188.9 596.8 189.4M597.5 186.2Q595.4 185.4 595.2 183.2M637.8 176.5Q639.2 173.8 642 172.7M620.3 172.2Q618.3 171.1 619.2 169M600 201.3Q598.3 202.8 596.3 201.9M610.8 160.5Q611 158.8 609.7 157.5M615.2 220.4Q615 222.8 617.3 223.6M616.5 190.4Q618.6 190.8 619 188.7M611 183.5Q613.1 182.3 612.4 180M609.2 217Q607.2 216.7 607.1 218.7M606.6 210.2Q605.3 211.6 603.5 212.3M593.5 198.2Q592.8 199.9 591.7 201.4M625.9 190.1Q627.9 189.2 629 187.3M627.7 214.7Q627.4 217.4 626.1 219.8M640.8 186.3Q641.8 188.6 644.3 189M617.8 199Q619.6 200.5 621.5 199.1M618.5 200.4Q619.4 202.6 618 204.6M608.2 195.3Q609.5 195.9 608.8 197.3M636.5 201.1Q638.6 202.5 641.1 202.5M621.3 203Q622.6 203.9 623.8 205M591.8 192.2Q590.4 191.8 590.3 190.4M579.3 189.6Q578.9 187.4 576.8 187.8M609.6 187.9Q610 186.1 608.5 184.9M635.9 181.7Q637.8 180 639.1 177.8M612 203.1Q614.1 203.6 615.8 205.1M623 202.8Q624.2 204.5 623.5 206.5M581 182.9Q579.3 181.3 578 179.3M624.4 177.4Q625.8 176.3 624.9 174.8M633.3 177.4Q635.8 176.6 638.5 176.2M605.1 182.4Q603.6 182.1 602.5 181.1M590.7 187.6Q589.9 186 588.3 186.7M607.7 170.4Q606.6 169.4 606.6 167.9M604.1 204Q603.5 206.2 601.5 207M588.8 171.3Q586.7 172.8 584.6 171.4M606.6 215.8Q605.2 218.1 605.1 220.7M587.2 179.2Q585.5 180.8 583.4 179.6M631.6 185Q634 185.8 635.9 184.1M626 207.3Q625.5 209.2 624.7 211M607.8 181.5Q607.9 179.6 609.6 178.9M619.3 214.9Q620.4 216.2 621.5 217.4M584.7 180.1Q583.5 181.5 581.7 181.3M631.8 184.2Q634.3 183.2 636.6 184.8M604.3 188.1Q602.8 187.8 601.8 188.9M616.4 182.6Q616.2 180.4 618.3 179.8M605.4 182.3Q603.7 182.8 602.1 182.1M626.3 184.6Q627.9 185 629 186.1M622.1 201.6Q621 203.4 621.4 205.4M614.6 209.9Q613.3 211.5 614.6 213.1M640.2 183.2Q642.3 182.6 642.6 180.5M588.5 181.6Q587.4 180.5 586.5 179.3M618.4 191.3Q618.7 193.1 619.7 194.7M605.1 203.6Q602.8 204 600.8 205.2M584.6 208.7Q582 209.3 579.7 208.2M640.3 192.3Q642.8 192.7 644.1 190.5M624.1 201.7Q626 203.1 625.7 205.5M588.6 206.9Q586.1 208.3 585.3 211M599.7 158.8Q597.7 157.7 597.6 155.5M600.7 188.9Q600 190.6 598.2 190.9M627.7 175.7Q629.1 173.6 631.4 172.5M606 178Q605.5 176.2 604.6 174.6M595.2 205.7Q595.9 208.3 594.7 210.7M626.4 175.7Q628.9 176.1 631.4 175.8M620.9 176.7Q620.3 174.5 619.9 172.2M630.3 172.9Q632.9 172.4 634.3 170.1M628.9 177.2Q630.1 176.2 630.2 174.6M584.1 205Q585 207 584.2 209M613.6 197Q613.2 198.7 614.5 199.8M597.1 180.2Q595.5 181.1 594.2 179.8M603.7 216.9Q602.3 218.8 601.2 220.8M598.2 165.4Q596 164.8 593.6 164.2M631.7 208.3Q633.7 207.1 636.1 207.1M598 219.8Q597.4 221.6 597.1 223.5M623.7 185.8Q626.4 185.5 627 182.8M616.9 172.2Q618.5 173.3 619.3 171.6M598.5 206.6Q597.7 208.5 595.8 207.5M641 193Q643.1 193.7 645.1 194.8M621.1 162.5Q620.8 160 618.5 158.9M623.6 203.8Q624.6 204.6 625 205.8M614.2 211.9Q614.4 214.2 614.4 216.6M618.1 211.7Q620.1 211.1 621.9 212.1M630 204.8Q631.3 206.6 633.5 206.8M614.9 184.7Q616.1 182.9 615.3 180.9M636.6 175.7Q637.2 173.8 637.3 171.9M599.2 173.7Q599 172.1 599.9 170.9M594.5 216Q596.1 218 596.5 220.5M631.9 199.5Q634 200.6 636 202M611.6 170Q610.9 168.1 612.3 166.5M621.9 166Q621.4 164.2 620 163.1M617.1 179.7Q616.8 178.4 616.8 177M619.2 182.7Q620.7 182.2 621.8 181.1M582.2 181.8Q580.2 180.7 578.4 179.2M621.3 201.7Q620.7 203.8 622.7 204.7M612.7 172.8Q612.4 171.4 612.9 170.1M597.3 166.7Q595.3 166.4 594.9 164.5M598.5 166.9Q598.9 164.9 600.2 163.3M590 167.7Q590.7 166 589.4 164.8M599.5 171.6Q598 172.9 597 171.3M616.8 194.1Q618.5 195.4 617.5 197.3M579.7 203.2Q577.4 203.7 575 203.4M638.1 183.4Q639.7 182.4 641.5 181.9M579.6 189.1Q578.3 189.8 577.7 191.2M610.5 177.1Q609.6 175.3 611.4 174.5M623.4 212Q622.9 214 621.5 215.5M587.7 169.9Q586.4 167.7 585.4 165.5M612.9 195.2Q613.4 197.4 611.3 198.1M619 197.3Q620.6 198.9 622.6 197.8M584.6 189.6Q584.8 187.7 582.8 187.3M611.5 215.5Q610.5 216.7 610 218.2M626.4 203.3Q626.7 204.8 626.2 206.3M605.9 215.2Q607.4 216.2 608.3 217.7M581.2 181.3Q581.6 179.5 580.1 178.4M641.3 186.1Q643.1 186 644 184.5M595.5 172.9Q593 173.2 590.5 172.9M641.1 191Q642.9 189.8 644.9 189.4M624 187.7Q626.2 187.7 628.4 187.6M591.1 167.1Q588.8 166.1 586.4 166.6M581.7 191Q579.2 192.4 579.3 195.3M617.3 191.7Q619.1 191.8 620.9 192.1M630.6 169.4Q632.8 168.6 634.5 167.1M614.9 208.5Q613.2 209.1 613.1 211M607.6 166.2Q609.9 164.7 610.2 162.1M618.6 173.4Q620.3 172.1 622.5 172.6M619 158.8Q620.1 156.9 619.2 155M590.6 208.2Q588 207.4 585.3 207.7M584.9 172.6Q582.5 171.5 579.9 171.7M591.6 214.4Q589.2 213.6 586.8 214.4M580.5 197.8Q578.9 195.3 575.8 195.4M632.5 199Q633.8 197.6 635.6 198.4M592.2 179Q593.7 177.8 592.3 176.4M616.8 166.7Q618.6 166.4 619.8 164.9M595.8 214.1Q593.5 216.1 590.8 214.9M586.4 209.1Q585.3 207.6 583.6 208.2M605.4 212.4Q605.2 214.8 604.7 217.1M625.6 174.9Q627.1 175 628.6 174.9M616.6 208.7Q618.3 208.5 618.9 210.2M608.8 210.6Q608.9 212.2 607.5 213M580.4 175.8Q578.3 178 575.4 177.1M620.8 203.2Q621.3 205.4 623.5 205.4M627.6 176Q629.3 175.3 630.1 176.9M601.2 217.6Q601 219.9 600.3 222.1M639 194.5Q640.2 193.3 641.8 193.5M640.9 195.3Q642.4 196.5 644.3 196.2M608.7 176.4Q607.3 174.2 608.7 172M629.1 176.9Q631.3 177.2 632.3 175.1M615.1 160.5Q614.3 158.7 615 156.8M637.5 204.5Q640.1 205 642 203.1M584.3 169.2Q584.1 167.2 583.9 165.3M622.2 214.9Q623.7 216.8 622.3 218.8M608.1 170.1Q609.8 168.9 610.4 166.8M601.9 207.9Q602.2 209.7 601.4 211.4M599.9 160.4Q598.4 159.7 597.1 158.9M600.2 165.2Q599.5 163.2 598.2 161.5M615.2 172.9Q614.1 171.6 615.2 170.2M583.4 193.7Q580.8 193 579.2 190.9M597.4 163.3Q595.6 161 595.9 158.1M591.4 200.8Q589.5 202 589.5 204.3M628.9 200.5Q631 200.3 633.2 200.4M609.1 196.4Q609.9 197.9 608.8 199.1M624.6 202.4Q624.7 204 624.7 205.6M586.9 196.9Q585.7 196 584.5 195.2M621.1 194.3Q621.5 195.9 623.1 196.5M631.3 194.7Q632.5 194.1 633.3 193.1M603.9 209.5Q603 211.4 604.5 213M622.9 162.1Q624.1 160.9 625.6 160.4M617.7 217.7Q616.4 219 617.1 220.7M608.4 206Q606.6 205.5 606.1 207.2M605.9 206.8Q607 207.7 607.3 208.9M600.8 209.5Q601.5 212 603.9 213.2M626.1 209Q628.1 208.1 630 209.3M612.5 206.4Q612.6 208.6 611 210.1M584.1 170.3Q583.3 168 582.8 165.7M589.2 199.3Q589.3 201.8 588.4 204.2M615.3 194.2Q616.9 194.8 618.5 195.5M624.7 179.1Q626 177.6 624.8 176M587.5 194.3Q586 195.8 585.8 198M631.7 209Q632.4 211.7 635 212.8M615.3 197.3Q615.2 198.8 614.6 200.2M614.7 216.8Q616.3 218.3 618.2 219.1M634.5 208.2Q635.2 209.7 636.3 210.8M586.6 202.5Q584.5 203.1 583.9 205.1M580.6 198.6Q578.7 198.3 576.8 197.6M589.3 173.4Q588.3 171.3 586 171.2M596.1 176.1Q593.7 177.5 591.3 176.1M623.6 214.3Q624.4 215.6 624.1 217.1M603.4 192.6Q602.3 192.7 601.4 193.1M623.5 174.7Q623.5 173.2 624.8 172.5M578.9 192.2Q577.4 193.4 575.4 193.3M598.1 184.6Q597.4 186.1 595.8 185.5M621.6 179.7Q623.3 178.9 622.2 177.4M631.5 185.2Q633.3 185.8 634.9 186.8M608.6 189.8Q607 190.4 607.4 192.1M633.1 180.4Q635.8 179.8 637.9 181.5M619.4 168.6Q621.4 167.3 623.5 166.3M597.6 188Q595.7 187.8 593.9 186.9M631.2 168Q633.9 168.9 636 166.9M603.4 197.4Q602.2 198.5 602 200.1M593.8 204.6Q594.2 205.8 594.4 207.1M611.4 207.8Q613 207.4 613.8 208.8M611.9 211.7Q613.6 213.6 612.8 216.1M610.3 163.8Q611.8 161.4 614.5 160.6M605.2 184Q604.4 182.2 603.2 180.7M638.6 191.5Q640.3 190.5 641.9 191.6M617.4 186.6Q619.5 186.3 620.6 184.5M599.8 217.1Q597.3 217.3 596.6 219.6M630.7 173.4Q632.5 173.6 634.1 174.7M610.1 188Q611.1 187.5 611.6 186.4M637.4 175.3Q639.4 175.7 640.5 177.5M610.3 190.9Q612.3 190 613.2 192M590.5 164.4Q590.8 162.6 591 160.8M633.2 209.3Q634.5 208 636.3 208.5M622.7 192.2Q623.7 190.8 625.4 190.5M587.5 189.2Q586.4 187 583.9 187.4M634.6 170.7Q636 169.6 637.5 168.8" fill="none" stroke="#2e2e2e" stroke-width="0.8" stroke-linecap="round"/>
<path d="M586.8 187.5L585.7 185.6M627.3 214.6L627.8 216.2M613.5 189.6L615 189.2M626.9 194.3L628 193.2M582.1 192.5L579.6 191.6M589.9 177.7L588.1 177.9M615.4 162.5L614.6 161.2M588.6 196.5L586 196.6M622.3 198.4L624 197.9M623.2 203L623.3 204.8M605.9 205.1L603.9 206.2M629.6 209.8L631.5 209.9M623.5 206L624.8 206.2M614.1 196.6L615.6 197.3M634 189.3L636 189.6M624.6 202L625.6 203.7M588.7 205.5L588.2 207.1M607.8 201.8L606.4 202.5M631.3 178.4L632.6 177.3M616.3 197.3L615.9 199.2M626.8 194.4L627.8 195.3M609.8 166.9L611.5 164.9M618.2 203L619.9 203.2M615.4 207.2L617.1 207.9M623.1 204.9L623.2 206.2M594.2 202.6L592.9 204.4M590.8 175.7L590.2 174.5M578.1 184.9L576.9 183.9M612.2 167.7L611.6 165.7M579.8 184.2L577.5 183.7M607.2 220.2L605 221.2M618.8 207.1L620.4 208.1M587.1 204.8L587.1 206.1M636.4 204.4L636.9 207M595.7 168.4L596.3 165.9M609.9 162.5L611.2 161.6M609.5 169L610.3 167.3M639.8 198.7L641.1 198.1M626.5 182.5L628.3 184M627.9 180.6L629.4 179.1M593.4 211.5L591 212.8M612.1 170.8L610.2 168.9M595.6 206.6L594.2 206.5M631.3 183L632.6 182.2M598.2 170.9L595.8 169.5M615.8 159.6L616.3 157.8M600 202L599 203.5M632.2 191.2L634 192.8M632.3 206L633.8 206.2M632.6 183.9L634.8 182.6M606.2 183.9L605 182.6M623.8 167.9L625.6 167.9M587.1 195.4L586.5 197.4M633.3 176.2L634.2 174.3M618 216.6L619.4 217.9M624.4 167.9L624.8 165.8M639.1 180.1L640.8 180.8M582.6 192.6L580.8 192.7M609.2 157.6L609.4 156.4M620.8 175.5L620.3 172.9M627.5 200.4L629.7 201.5M602.1 189.8L600.3 189.1M595.6 178.7L594.6 177.7M627.6 165.5L629.4 163.5M633.8 194.8L634.6 196.9M621.5 191.2L622.9 192.4M603.6 179.3L602.7 176.9M585.6 197.1L583.4 198.9M637.9 201.7L638.1 204.1M612.5 173.8L613.7 171.9M599.6 217.8L597.8 218.9M628.6 186.1L629.5 184.2M636.3 200.8L637.1 202.6M600.3 211.6L599.1 212.4M594.2 206L593 207M632.7 191.6L634.7 192.4M604.3 200.6L603.6 203M582.5 172.1L581.8 170.4M637.9 179.5L639.5 181M611.2 198.6L612.8 200M592 197.2L590.6 197M609.8 194.9L609.4 196.5M578.9 183.9L577 183.3M604 183.5L602.9 181.4M623.3 177.6L624.9 175.7M608.1 188.9L608 187.4M610.6 189.7L613.1 189.2M601.1 176.9L601.2 175.3M583.4 173.8L581.7 173.2M615.9 178.1L617.3 177.6M613.8 195.6L615.2 196.8M611.9 158.6L610.4 156.5M639.6 181.6L641.7 181M621.7 217.3L620.7 218.6M610.1 208.4L609.2 210.6M612.3 204.5L610.4 206.1M615.5 174.2L616.9 172.9M606.6 158.6L605.2 156.3M613.1 170.7L613.5 168.9M594.9 188.3L593.2 188M594.2 185.7L592.2 185.5M634.5 177.7L636.5 176.8M612.1 198.9L613.1 200.7M594.7 187.2L592.9 185.6M585.7 171.6L584.9 169.6M602.4 181.7L601.9 180.1M590 210.6L587.4 210.7M615.1 169.6L614.7 168.1M634.6 204.6L636 206.6M608.4 211.9L609.9 212.9M589.4 194L588.4 195.3M618.8 201.6L621 202.9M580.3 182L578.5 180.7M585.9 196.8L584.1 196.7M611.7 207.2L612.6 209.5M610.3 183.3L612 181.8M626.2 209.1L627.5 209.9M587.8 196.9L585.4 198.4M623 174.1L623.5 172.6M593.1 201.2L592 202M634.2 184.2L635.4 182.1M624.3 202.2L625 204.9M617.7 163.6L620 162.4M587.5 191.8L586.2 193.9M638.4 180.8L639.9 182.1M588.5 208.1L587 208M611.8 197L612.9 198M608.2 167L608.2 164.3M621.8 190.3L623.9 189.5M622.8 191.6L625.3 190.7M617.4 204.5L619 205.7M595 164.7L595.6 162.9M614.2 203.3L616.3 203.8M597.8 203.9L597.3 205M620.3 206.3L622.8 206.9M604.5 176.7L603.7 175.2M577.8 186.4L577 185.1M610.5 213.1L609.7 214.1M624 184.3L625.9 183.8M627.5 186.8L628.8 188.4M624.2 206L625.4 207M592 206.1L589.7 206M600 162.3L598.4 161.1M591.6 195.8L590.9 198.3M638.6 178.4L639.2 177.2M622.6 172L624.3 170.6M615.6 190.9L616.4 192.7M588 194L586.3 194.6M607 199.6L607.5 200.8M598.5 171.5L599.3 169.2M599.3 216.3L598.4 217.4M602.5 206.1L600.9 208.4M611.2 195.2L612.1 197.4M614.2 218.4L616.8 219.2M599.7 194.2L598.9 195.5M582.4 188.7L580.7 189.1M629.4 166.7L628.7 164.2M610.9 202.3L611.2 204.5M627.5 204.5L627.1 206.9M633.9 185.3L635.2 187M595.7 173.3L595.5 172M582.7 193L581.3 192.8M602.6 187.9L600.2 188.4M580.9 175.7L580.6 174.1M599.8 205.9L599.5 207.1M588.3 189.9L587.3 188.4M624.9 185.8L626.1 186.2M604.9 205.2L603.6 206.3M600.9 159.9L602.2 157.7M583.4 184.5L582.7 183.2M585.3 186L583.3 186.7M600.7 176.9L598.4 176.4M633.8 183.2L636.2 183.3M613.6 165L615 162.6M611.9 159.5L610.9 158.7M632.2 172.9L632.8 170.4M607.2 190.5L605.8 192.8M601.6 197.1L599.5 197.2M579.9 185.2L578.7 186.3M584.3 194.6L583 193M592.3 177L590.6 176.4M595.3 199.8L593.6 199.2M584.6 205.6L582.7 207.4M596.3 212.8L597 215.3M611.7 171.8L613.1 170.8M626.1 198.8L626.8 200M634.2 195.3L636.2 194M625.1 193.6L626.5 192.8M616.9 220.3L618.2 221.1M601.9 207.6L600.8 209.2M606.7 165.4L606.9 164.2M602.7 179.4L602 178M585 171.3L583.4 169.9M601.5 159.9L602.1 157.6M585.8 194.6L583.2 194.7M628.1 204.4L630.5 205M613.5 204.5L615.5 205.8M630.6 171.8L632.9 170.8M599.6 177.5L598.1 175.8M626.6 214.5L625.7 216.5M598.9 193.2L596.2 193.1M590.5 167.7L590.4 166.1M623.2 216.4L623.5 217.7M634.6 204.8L635.3 207M601.8 211.4L600.4 212.9M599 212.9L599.7 214.8M621.7 213.2L621.4 215.3M610 189.8L612.3 191.2M613.9 184.3L615.7 183.3M589.4 180.7L589.3 179.4M625.9 198.7L627.2 198.1M587.7 178.2L585.5 178.7M578.2 192.1L575.9 193.2M578.7 191.3L577.2 193.3M619.6 210.6L619 211.8M623.4 179.3L625.4 178.5M588.4 178.7L586.8 177.6M583.4 199.9L581.4 199.4M601 212.7L601.5 215.2M638.2 187.3L639.4 185M582.2 191.3L580.6 189.3M603.6 162.7L604 160M586.8 199.1L585.7 200.8M605.2 181.8L603.3 180.6M594.3 213.3L592.5 213.5M620.6 187.4L622.2 186.4M601.3 185L601.3 183.1M591.1 180.9L590 179M627.8 210.2L627.7 213M606.5 186.2L604.6 186.3M617.1 172.4L617.2 169.9M635.1 183L637.3 183.5M613.8 203.6L615.1 205.7M604.3 216L605.5 217.9M587.4 171.9L585.3 172.5M586 182.9L584 183.4M588.6 183.5L586.3 185M605.2 171.7L604.4 170.3M599.8 192.5L598.8 194.7M608.8 221.4L608.8 223M605.6 186.7L604.7 185.2M588.2 189.3L586.2 189.5M608 173.3L609.1 171.5M615.2 195.3L616.4 196M619.1 176.2L618.7 174.6M600.1 171.7L601.2 169.5M593 169.6L591.7 168.6M589.4 206.8L589.9 209.1M630.2 199.9L631.5 200.3M633.1 174.6L634.8 175.5M592.3 200.8L592.4 202.5M581.1 191.9L578.8 192.5M614.2 202L615.2 203.3M638.8 180.6L640.6 180.2M621.4 188.2L623.3 187M633.2 194.3L634.8 194.7M629.8 180.9L632.2 181.2M588.6 208.1L586.7 208.6M614.9 161.2L615 159.5M592 214.1L591.6 215.7M625.3 162.9L624.8 161.5M594.2 179.6L594.4 177.7M590.1 184.1L588.2 184.7M629.8 177.7L631.2 176.5M640.5 191.2L641.9 192.7M599.5 211.4L597.2 212.7M588.7 167.8L586.8 167.4M597 183.9L595.9 182.6M579.4 194.7L577.5 193.9M628.5 166.5L629.9 165.6M614.5 182.8L615.1 180.7M614 214L613.4 215.4M636.4 199.6L639 199.7M600.8 213.2L601.9 214.7M608.5 157.8L607.1 156.2M597.1 163.4L596 161.3M618.9 204.4L619.3 206.4M621 164.8L622.6 163.8M624.8 187.3L627.2 186.2M604.8 171L603.7 169M599.1 165.5L597 165.1M578.7 186L577.3 186.1M610.7 189.5L611.8 188.6M589.7 188L587.8 188.3M584.4 187.1L582.6 187.8M601.8 178L602.9 176.1M617.4 186L618.1 184.6M619.5 175.8L620.8 175.8M634 190.5L635.1 191M580.6 200.4L579.7 201.9M602.6 200L601.6 200.9M587.7 170.3L585.9 169.6M623 212.9L624 214.6M635.3 204.4L637.4 204.1M609.3 201.5L610.7 203.6M590.2 186.8L588.7 186.4M613.9 192.8L616.2 193.9M580.4 188.5L579.3 189.2M612.7 176.8L613.8 175.3M606.4 212.8L604.8 214.9M581.6 182.9L580 183.2M597.9 210.2L596.5 212.2M589.4 183.8L587.1 182.5M581.6 183.5L580.3 185M621 197.9L622.9 199M578.3 190.7L575.9 190.5M600 170.2L597.8 169.1M592.2 170.1L591 167.8M610.3 186.9L611.5 185.6M580.5 188.6L578.6 189.5M583.1 179.3L581.3 178.9M628.1 196.3L629.5 195.3M582.8 196.3L581.6 196.7M620.6 218.9L622.5 220.9M625.4 182.8L627 183M624 211.9L623.4 213.9M627.7 170.6L628.3 169.4M585.5 201.6L583.5 203.1M615.9 203.1L616.5 205.2M626.7 202.6L629 203.7M619.2 215.4L619.1 217.5M589.8 213.7L588.2 215M584.8 174.1L583 174.1M606.6 214.4L608.2 216.6M615.9 217L616.7 218.3M601.1 220.4L602.5 222.5M634.8 191.9L636.2 191.4M590.2 174.2L589.2 173.2M616.9 214.3L617 216.7M587.7 173L585.5 173.1M622.6 185.7L623.8 186.4M630 176.8L630.6 175.7M603.8 164.5L604.8 163.1M589.8 202.8L589.1 204M585.7 170.8L583.8 170.9M625.7 200.5L626.9 201.1M622.2 184.6L624.4 185.7M600.9 215.8L600.9 218.1M623.5 167.6L625.4 166.7M620.6 166.5L621.1 164.9M628.8 176.8L630.3 176.3M617.4 164.7L618.9 162.8M609.6 182.2L611.8 180.9M634.3 199.2L635.2 200M640.2 196.8L642.8 196.5M614.8 201.4L617 202.5M633.9 196.4L635.8 197.5M627.2 171.7L629 170.9M584.7 183L582.1 183.9M621.4 199.3L622.8 199.8M578.9 186.6L577.2 186.8M592.5 215.2L591.7 217M623.3 212.8L625.6 213M592.5 181.8L591.3 182.6M615.8 176.9L617.1 175.5M623.4 195.1L624.6 195.9M590.5 178.9L590.2 177.7M604.2 184.8L601.9 185.2M625 176.7L627.3 176.6M593.8 214.1L594.4 215.8M594.5 179L591.8 179.1M598.9 159.3L598.9 157.2M604.5 206.5L604 207.9M620.4 182.6L622.4 181.7M585.2 178.1L582.8 177.4M635 207.3L636.9 208.2M586.9 194.9L584.7 194.3M583.4 176.8L580.7 177.4M626.6 168.9L627.4 166.3M617.3 197L619.3 196.5M624.3 177.8L624.4 175.2M605.6 196.3L604.7 198.7M624.4 205L625.2 206M631.6 179.2L632 177.4M628.8 201.2L631.4 201.8M597.5 183.5L595.5 182.5M580 188.1L577.9 186.5M582 195.2L580.4 197M622.2 194.8L623.4 194.7M589 196.3L587.5 196.2M599.4 217.9L600.8 220M596.6 169.9L595.2 169.5M596.2 196.5L594.9 198.6M597.5 185.1L597 183.4M634.5 177.6L636.8 178M598.8 178.2L597.3 178.4M585.6 201.2L585.6 202.5M587.9 173.7L587.4 171.9M634.1 178L634.7 176.4M610.6 160L611.1 157.5M579.7 178.1L577.7 178.4M604.6 206L604.2 207.3M604.1 195L604.2 197M605 173.3L602.4 172.3M598.4 204.7L595.8 205.6M610.7 167.1L609.2 166M619.5 170.1L620 168.3M587.7 187.7L586.3 189.2M615.2 208.3L615.2 209.6M621.3 188.4L623.5 187.4M628.8 164.8L630.1 164.4M610.9 219L609.8 219.7M585.1 200L584.1 201.4M632.7 203L633.5 204.5M629 183L630.8 184.7M589 210.6L587 211.9M605.4 174.4L603.5 173.1M639.3 180.9L640.7 181.6M612.2 214.7L613 217M603.6 178.7L602.3 176.5M624.4 170L626.8 170.1M631 205.4L632.3 205.3M614.2 213.2L615.2 214.7M605.7 202.3L606.3 204.8M620.4 199.9L620.2 201.3M590.8 214.3L589.2 215.7M579.2 184.9L577.8 186.2M590.8 186.5L588.1 185.8M604.1 212L603.6 213.6M619.2 196.8L620 198M604.3 203.8L603.9 206.4M597.8 177.6L596.6 175.4M632.3 178.5L633.4 177.8M633.2 189.5L634.1 190.9M595.1 171.8L593.3 171.7M627.8 183.9L629 181.8M605.6 163.5L606.7 161.8M579.2 180.3L578 180.3M598.2 189.7L597 189.2M608.3 181.6L607.2 181M633.7 186.2L636.4 186.6M606.1 174.4L606 172.6M600.9 166.5L598.9 165.5M636.8 199.6L638.9 197.9M584.3 197.3L583.7 199.5M588.1 208.7L585.9 209.7M603 188.5L601.2 189.7M621.7 201L622.6 202.2M584.8 192.8L583.3 192.1M581 179.4L579.9 177.4M610.6 201.1L611.5 202.8M611.1 170.7L611.8 169.7M605.8 159L605.9 156.4M605.5 188.4L603.8 186.4M625.7 184.2L628.5 184.1M628.7 175.9L630.5 175.1M598.5 161.8L598 159.9M596.9 207.7L596 209.8M613.6 180.4L615 179.8M587.8 173.3L587 172.4M614.9 220.9L613.2 223.1M588.9 209.4L589.1 210.6M629 169.8L631.4 169.9M621.2 177.6L623.1 176.3M615.3 181.2L615.9 179.4M585.3 202.8L582.7 202.9M639.7 194.6L641.8 196.4M594.3 163.7L593.1 163.3M608.6 164.8L608.9 163.6M617.7 178.4L617.1 176.6M594.6 197.3L592.2 196.2M628.7 198.6L629.9 198.4M620.1 172.1L620.7 170.8M620.9 197.2L621.8 198.7M596.2 161.7L595.4 159.7M608.7 192.2L608.9 193.5M580.8 203.9L579.1 205.5M581 196.2L578.7 195.7M608.1 178.9L609.3 176.6M601.2 201.7L600.2 203.9M635.5 199.5L637 198.7M620.1 160.3L620.1 159M592.6 195.8L591.7 197.7M616.6 211.7L615.5 213M587.7 177.2L585.1 176.3M590.5 207.5L589 208.5M598.7 202.8L597.3 203.1M602.2 211.9L601 212.5M596 207.6L595.1 209.9M631.6 202.7L631.6 205.4M613.6 196L614.7 198.5M621.6 195.2L623.1 195.5M596.9 205.3L595.8 206.3M627.8 181.1L629.1 179.1M594.2 176.9L591.9 177.8M602.9 215.5L601.8 216.6M617.6 219L617.2 220.2M630.3 208.1L630.9 209.2M583.4 189.9L581.2 189.9M602.8 175.7L602.1 174.7M638.8 178.2L639.2 176.2M618.6 213.6L618.7 215M623.9 191.3L626.4 192.3M595.5 204.5L594.9 205.9M602.4 172.6L602.2 170.9M623.6 173.5L623.5 170.8M582 191.6L580.4 189.7M599.2 179.9L597.1 178.5M598.7 188.4L597.2 190.3M595.1 184.7L593.3 183M598.7 207.4L596 207.7M625.1 176.9L626.6 177.3M638.7 191.9L640 191.9M615.8 166.3L617.2 164.7M612 194.5L611 196.5M630.9 191.1L633.4 191.5M594.3 186.5L592.1 186M620.8 167.8L623.2 167.7M582.3 191.7L580.2 192.7M609.7 204.2L608.9 206.8M605.1 201.8L606 203.1M636.7 203.6L638 205.7M598.7 201.9L598.9 204.1M623.2 196.6L624.4 197.3M601.6 187.5L599.6 189.4M588.7 177.2L587.1 176.4M627.9 205.5L628.9 207.9M608.6 166.8L609.8 164.8M608.2 173.3L607 171.1M591.8 188.5L589.6 188.3M619 193.7L619.5 195.4M589.2 164.8L587.5 163.6M636.1 189.4L637.9 191.3M608.2 157.5L608.1 156M608.6 219.4L609 221.6M619.3 198.2L620 199.9M610.7 162.3L612.3 161.5M604.9 199.7L603.4 199.9M583.1 198.3L580.7 197.4M588.4 180.7L587 180.7M609.6 199.5L611.2 201.8M612.8 183.8L611.7 181.2M600.3 214.4L598.9 216.4M626.9 212.7L626.2 215M636.9 202.7L637.3 205.1M610.6 176.1L611.6 174.5M607 215.8L608.1 217.2M620.9 216.6L622.5 217.7M631.5 178L633.1 177.6M601.1 173.2L602.4 170.8M604.4 213.3L603.1 214.1M603.2 219.2L603.8 220.2M596.8 206.6L594.5 207.7M628.5 181.3L629.8 182.4M621.3 195.1L623.1 194.9M598.4 219.5L599.5 222M594.1 169.8L594.2 167.9M587.8 171.1L586.6 171.3M637.1 192.3L638.5 193.5M638.6 197.9L640.6 196.2M610.7 175.3L609.6 173.5M595.2 186.7L593.6 185.3M597.5 216.8L596.5 218.7M592.9 163.4L591 163.5M607.6 192.8L605.9 193.2M627.4 180L628.8 179.9M591.8 162.9L592.4 160.5M625.2 217.1L626.4 217.2M631.9 189.5L633.1 190.3M599.7 216.3L599.4 217.6M621.6 189.6L622.8 189.8M600.8 196.5L598.9 195.9M600.5 212.3L601.4 213.3M632.4 187L634 187.3M627.9 184.6L629.5 182.5M605.5 168.9L605.3 167.6M613.4 178.8L614.7 177M627.7 164.7L628.8 162.2M590.9 176.4L588.6 176.8M624.1 195.4L625.3 196M639.8 184.9L641.2 185.5M593.5 205.4L591 205.2M620.1 175.9L620.1 174.2M609.4 195L608.8 196.1M615.8 173.4L614.5 171M610.4 174.5L610 172.6M591.8 184.3L589.9 184M626.9 204.5L627.9 205.8M593.4 204.5L593.5 206.3M634.5 191.2L636.6 189.5M629.8 193.4L631.6 194.9M633.2 195.6L633.5 196.8M584.6 197.3L582.7 196.4M604.4 168.5L602.2 167.6M581.8 203L580.1 203.9M595.2 175.2L593.9 173.2M629.7 204.8L630.4 206.8M620.8 184.5L622 182.4M606.5 170.9L606.8 169.6M594.3 169.8L592.6 167.7M605.9 184.2L603.9 184M617.4 179.8L618 178.2M597.6 182.1L595.4 182.2M627.4 204.3L628.8 204.2M606.6 183.3L605.9 181.2M620.5 167.8L622.6 166.1M607 163.2L607.1 161.9M609.6 213.4L610.1 215.5M603.1 201L600.7 202.1M622.6 213.9L624.4 215.7M593.5 164.4L594.4 161.9M634.7 176.9L636.8 175.3M598.4 183L597 181.5M598.8 176.5L597.5 174.9M581.4 189.3L579 189.3M610.3 159.6L611.9 158M609.3 221.2L610.4 222.2M631.4 204.4L633.8 203.4M631.7 197.6L633.6 198.3M604.2 189.7L602.2 190.9M621.3 171L621.7 168.8M637 179.4L638.6 177.1M617.4 187.8L619 188.2M632.1 206.5L632.6 207.8M619.5 205.6L619.6 208.4M619.6 189.3L620.8 188.3M633.8 196L636.4 195.7M596.2 204.2L594.3 205.6M581.9 195.1L580.2 194.8M637.2 192.9L638.6 193.1M611.4 185.5L611.3 183.1M596.3 160.5L596.5 157.7M634.3 184.3L636.6 183.1M632.3 187.4L633.4 186.3M612 171.8L613.5 169.8M596.4 199.8L595.2 202M603.2 176.5L602.5 175.2M601.5 207.6L601.9 209.5M636.1 185L637.3 186.3M632.5 172L633.5 170.4M600.6 164.6L600.7 162.7M633.9 199.3L635.2 199.7M638.7 180.5L639.4 179.2M605 201.7L604.7 204.4M597.9 181.5L595.9 182.4M606.5 216.9L606.2 218.2M585.7 208.8L583.3 210.3M611.3 195.4L612.3 198M602.6 202.8L601.7 204.7M606.9 216.4L608 217.8M629 167.2L630.6 166.9M589.9 196.2L588.1 195.9M609.6 190.6L610.5 191.6M603.1 190.6L601.6 192.3M600.5 173.8L599.8 172.4M632.4 172.6L634.1 171.4M624.7 184.8L625.3 183.7M616.5 162.6L617.2 161.2M617.7 199.8L619.6 200.1M633.6 189.7L636.1 190.1M635.1 176.8L636.7 177M608.6 180.5L608.2 177.9M621.3 184.1L622.3 184.8M620.8 172.5L622.3 171M620.3 197.4L622.1 199.1M617.4 215.1L617.8 216.3M636.1 178.7L638.2 179.1M594.9 189.6L592.8 190.1M635.7 183.1L637.4 182.2M629.7 197.6L632 197.6M620.4 200.8L621.7 201.6M597.2 202.3L595.6 202.2M624.7 211.8L625.8 213.7M590.4 201.1L589.2 201.2M601.6 213.7L602.9 215.1M629.8 192.8L631.3 192.3M605.3 178L604.2 176.2M610.2 162.7L611.2 161.2M592.5 174.6L591.3 173.9M613.5 197.5L616.2 197.6M600.1 187.9L598.7 187.4M587.4 181.5L586.9 180.1M637.3 204L638.5 203.6M590.6 210.6L588.6 211.3M610.2 201.4L611.4 203.8M579.4 183.7L577.6 182.7M580.3 200.9L577.7 201.4M621 193.6L621.4 195.1M630.1 181.5L631.1 179.9M590.4 188.7L588.8 186.7M614.3 203.6L614.4 204.9M596.6 189.9L594.8 189M621 201.1L622.8 200.8M596.4 195.8L595.1 196.8M629.5 178.5L630.4 177.7M619 215.4L620.3 217.5M604.9 173.2L603 171.9M601 172.5L602.2 170.7M591.3 197.3L590.2 198.2M610.9 196.7L610.9 198.5M588.6 177.5L588.4 175.8M588 200.6L586.3 200M624.2 215.4L625.8 216.1M583.1 194.5L580.8 194.3M603.2 202.2L600.9 203M626 177L627.3 175.7M612.1 198.1L613.2 198.5M638.9 190.4L641 192M596.8 179.9L596 178.6M637.9 194.7L639.5 196.2M627.1 209.4L629.2 211.3M614.9 172.1L616 171.4M592 193.5L590.8 195.2M605.3 203.6L604.4 205.5M605.9 206.3L605.1 208.9M625.2 215.1L626.2 217M640.4 188.2L642.1 187.4M616.8 202.9L619.5 203.8M610.1 213.1L611 214.2M633.1 201.7L634 203.8M605.5 199.7L606.8 201.1M628.8 164.7L628.1 162.6M600 196.6L598.5 196.4M594.9 172.8L592.2 172.1M589.1 200.9L587.3 202.1M598.1 176.7L596.5 174.7M629.9 211.7L631.2 213.4M587.1 182.9L586 183.5M580.5 181L578.1 179.6M623 177.6L625.2 176.7M624.2 217.8L623.8 219.7M609.7 221.2L610.9 222.8M585.5 205.8L582.9 206.1M622.3 193.2L623.8 191.9M605 199.8L603 200.6M593 213.1L593.1 215.7M606.9 202.2L604.9 203.5M627.9 193.9L629.3 193.4M615.6 214.4L617.4 214.8M597.2 160.6L598.3 158.3M594.3 169.6L594.1 167.1M636.7 200.1L639.4 200.5M586 206.1L585.2 207.5M624 169.3L623.5 168.1M591.4 201.8L589.2 203M622.7 164.5L624.2 162.7M596.9 161.4L594.6 160.6M615 163.3L615.8 161.8M628.9 191.7L631.7 191.8M611.2 186L612.8 185.9M619.7 172L620.7 171M612.4 197.8L611.7 199.7M598.8 160.5L599.5 158.8M614.2 216.2L616.2 217.2M638.8 189L641.3 188.1M580.8 204.1L579 205.5M612.4 181.3L613.7 179.6M585 172.1L583.5 171.7M589.3 213.8L587.7 214.7M623.3 187.4L625 186.3M638.3 179.8L638.8 178.4M590.2 179.5L588.6 179.8M619.2 170.8L619.3 168.8M601.2 186.7L599.6 187.5M625.9 178.7L627.3 178.4M609.6 205.7L608.8 207.3M608.9 164.4L608 162.6M592.8 213.9L591.4 213.8M618.5 168.9L617.5 167.4M584.7 200L583.5 199.4M583 202.9L581.1 202.4M627.5 197.1L629.7 196.5M615 203.1L614.7 205.6M597.9 199.4L596.2 199.9M624.8 208.7L625.7 211.3M608 218.1L609.2 220.3M636 202.4L636.1 203.9M610.8 168.4L612.1 167.3M581.1 202.8L580.8 204.2M612 220.7L613 223M632.7 183.6L634 184.3M612.3 168.2L614.1 166.1M609.1 194.9L609.6 196.1M618.1 218.5L618.7 219.9M610.2 184.2L611.7 183M595.5 172.9L594.2 171.7M635.8 205.7L636.3 208M625.2 201.8L625.6 204.2M594.1 201L592 202.7M620.5 166.5L620 165M636.5 191.9L637.4 194.1M578.7 192L576.3 193.1M611.6 198.8L611.2 200.9M618.1 167.5L617.7 165.2M611.1 179.8L612.8 179.1M581.5 179.4L579.8 180.2M603.3 203.6L602.2 205.7M598.2 186.4L595.8 186.3M638.2 188.3L639.1 189.2M635.6 195.3L636.2 196.9M602.8 191.1L600.9 190.6M587.3 183.3L584.9 183.2M623.3 197.3L623.6 199.7M599.2 174.6L597 174.6M613.1 207.2L613.6 208.7M626.2 190L627.7 189M594.7 199.3L592.9 200.6M637.2 192.5L639.9 192.5M615 169.4L614.4 167.8M629.3 182.9L631.8 183" fill="none" stroke="#f2f2f2" stroke-width="0.75" stroke-linecap="round"/>
<circle cx="606.3" cy="368.2" r="39.5" fill="#7c7c7c"/>
<path d="M642.4 355.9Q643.8 354.7 643.2 352.9M590.1 338.9Q588.6 337.3 586.6 336.3M622.5 393.1Q623.2 395 624.9 395.9M643.2 356Q645.1 354.9 647.3 355.1M613.6 369.5Q614.9 369.2 616.2 369.7M570 362.3Q567.8 363.2 566.6 361.3M620.8 385Q621.9 387.3 623.9 388.8M619.3 357.9Q621.3 359.2 623.3 357.8M614.7 335.2Q616 332.4 614.3 329.8M606.7 352.5Q607.6 351.2 608.3 349.7M630.6 355.8Q632.5 354.3 634.8 353.7M635.9 346.6Q638.5 346.2 639.2 343.7M573.2 371Q571.4 371.7 570.5 373.3M619.6 359.5Q620.1 357.3 621.6 355.7M595.9 331.5Q595.8 329.3 594.8 327.3M595 395.9Q594.1 398.2 596 399.7M633.7 382.2Q633.4 384.9 635.5 386.5M605.7 351.1Q603.8 350.7 602.6 349.1M619.5 355.1Q620.5 353.3 619.2 351.6M611 386.9Q609.5 387.9 609.2 389.7M601.8 373.5Q603.1 375.1 601.8 376.8M643.9 374.2Q645.6 374.5 646.2 376M625.7 397.6Q628 397.9 630.2 398.9M614.4 367.7Q614.7 366.6 615.8 366.1M604.9 337.6Q602.5 337.7 602.1 335.4M608.9 342.2Q611 340.7 611.7 338.3M596.3 333.4Q596.2 331.6 595.1 330.2M623.9 381.3Q626.4 381.4 627.8 383.6M583 386.8Q580.9 386.5 580.6 388.6M590.7 355.9Q589.7 355.2 588.6 354.8M620 373.3Q620.2 371.5 622 371.7M575.3 366.6Q575.5 363.6 573 362M588.6 374.6Q587.2 375.8 586.3 377.5M597.5 334.4Q596.2 333 594.7 331.7M608.9 368.8Q610 369.5 611 368.8M621.8 379.4Q623.2 378.4 624.7 379.2M578.9 374.4Q577.7 376.5 575.5 377M642.4 359.7Q644.4 360.3 646.4 360.8M634.5 377.6Q636.6 376.9 638.5 378.2M610.2 356.9Q611.6 355.3 610.3 353.7M598.8 397.7Q597.4 399.7 595.3 398.7M632.3 387.4Q634.6 388.4 637.1 388.4M601.6 369.7Q600.8 371.2 599.1 371.1M633.1 381.6Q634.9 383 636.7 381.5M606.6 357.4Q605.4 356.3 604.7 354.8M606.9 341.7Q605.4 340.5 606.3 338.9M612.8 359.3Q614.8 358.5 616.1 356.8M603 363Q603.1 361.3 603.1 359.7M583.8 374.4Q582.4 373.8 580.9 373.2M632.2 360.6Q634 362.6 636.7 362.5M608.7 389.3Q609.2 390.8 609.2 392.3M634.3 352.5Q636.2 350.5 639 350.9M629.6 367.9Q629.8 365.7 632 365.4M615.4 361.2Q617.4 360.8 618.6 362.6M608.7 389.3Q608.4 391.3 607.7 393.2M627.8 386.5Q629 388.8 631.4 390.1M594.3 366.9Q593.8 365.2 592 365.5M598.6 342.9Q598.2 340.2 596.2 338.4M624.4 391.5Q625.2 392.7 626.4 393.4M621.8 401.4Q622.9 403.2 623.5 405.2M636.6 355.5Q638.5 357 640.6 355.7M605.7 345.8Q607.4 344.1 607 341.7M592.9 355.4Q592.1 353.1 589.6 353.4M637.3 370.5Q639.6 371.7 641.9 370.4M619 339.4Q618 336.9 615.8 335.3M631.5 351.2Q632.6 352.5 634.3 351.9M616.9 400.7Q617.4 403 616 404.9M629 394.8Q630.5 396.3 630.7 398.4M577.6 374.2Q576.9 377.1 574.2 378.1M604.2 368.4Q603.4 366.8 601.7 366.5M593.9 344Q592.7 342.9 591.5 341.8M612 371.3Q611.8 372.7 613.1 373.3M577.8 387.7Q575.1 387.1 573 388.8M613.8 380.4Q615.4 381.1 616.1 382.6M602.6 366.8Q602.5 365.5 602.1 364.2M583.7 376.7Q582.5 375.5 580.8 375.3M580 361.7Q580.4 360 578.9 359.2M593.3 351.1Q592.9 349.1 593.3 347.1M636.1 387.9Q637.3 389.5 638.6 390.9M617 333.8Q617.3 331.8 619 330.8M609.3 394.4Q611.7 395.8 612.1 398.5M580.7 392.5Q581 394.7 578.9 395.7M619.5 391Q619.5 393.1 621.5 393.6M571.3 381.5Q568.6 382.3 565.8 381.9M607.2 380.5Q608.8 381.5 609.7 383.1M612.8 345.9Q612.6 343.6 611.5 341.6M617.3 346.1Q618.9 343.9 617.8 341.5M596.1 342.5Q598.1 341.1 598.7 338.8M639.7 353.9Q642.6 353.6 645.2 354.7M591.6 341.2Q589.5 340.6 589 338.6M583.1 398.5Q582.4 401.3 580 403M633 395.6Q634.8 394.7 636.7 394.7M634 343.2Q636.1 343 638.1 342.5M615.8 351.8Q616.6 350.5 616.6 348.9M600.2 382Q599.2 383.4 597.8 382.6M606.2 385.8Q606.9 387.2 606.7 388.7M607.5 387.5Q607.6 389.1 606.9 390.6M637.9 381.1Q640.2 379.9 642.6 379.2M629.4 393.7Q631.4 395.3 632.6 397.6M580 346.3Q577.4 345.4 575.1 343.9M586.7 349.9Q584.6 348.8 582.3 348.3M577.3 361Q577.6 358.2 575.9 356M583.9 382Q583.4 383.8 581.6 383.3M633.3 396.3Q631.5 398.4 632.3 401M602.6 378.4Q602.4 380 600.8 379.5M617 388.7Q619.4 388 620.9 389.9M583.6 337.2Q580.9 338.2 578.1 337.5M581.1 358.4Q579.9 360.5 577.6 360M621.5 359.7Q623.1 360.6 624.9 360.4M629.6 396.3Q631.5 396.7 631.6 398.7M609.4 380.7Q610.7 380.7 611.8 381.6M625.7 344.3Q628 344.3 630.3 344.3M625.7 400.1Q628.2 400.9 630.8 400.9M593.5 380.7Q593.1 382.3 592.3 383.7M613.6 344.7Q615.1 343.5 616.8 342.5M608.3 347.5Q609.9 347.5 611 346.3M588.5 340.9Q586.5 341.9 584.3 341M591.2 359.9Q590.5 358.1 588.7 357.2M574 373.3Q572.1 375.1 572 377.7M577.2 347.6Q576.2 349.4 574.1 348.9M576.4 359.7Q573.4 359.3 571.6 361.7M570.3 376.5Q568.3 376.8 567.6 378.7M600.7 400.4Q599 401.7 597 402.5M601.7 343.5Q599.9 341.8 600.5 339.5M601.7 400.6Q600.6 401.9 598.9 402.2M584 386.1Q582.5 388.3 579.9 389M594.3 336.1Q594.7 334.1 595.4 332.2M583.7 372Q582.6 373 581.5 373.9M589.5 371.5Q588.1 372.6 586.5 371.6M625.7 344.8Q626.3 342.8 626 340.6M591.1 334.8Q590.6 332.9 588.6 332.5M627.6 369.9Q628.9 370.6 629.4 372.1M605.5 390.2Q604.8 391.7 603.8 393M618.9 346.3Q616.9 345.2 616.9 342.9M594.5 358.8Q593.5 358.1 592.3 357.9M583.5 338.7Q582.9 335.9 580.3 334.7M601.7 382.6Q599.8 384.1 597.5 383.7M629.3 345Q631.3 343.7 633.2 342.4M610.6 386.6Q612.9 386.2 614.3 388M582.5 387.6Q580.9 389.8 578.9 391.5M586.7 386.6Q586.3 388.1 586.1 389.7M636 387.2Q637.5 389.5 636.1 391.8M579.6 387.2Q578.3 388 577.1 388.9M612 340.7Q613.5 338.9 613.6 336.6M624.4 371Q625.8 370 627 371.3M584.8 363Q583.7 360.8 581.3 361.1M594.7 363.8Q593.2 364.9 591.6 365.6M600.9 381.8Q598.7 382 598.7 384.2M593.8 387.8Q592 389.2 589.9 388.1M583.7 394.3Q581.6 393.1 579.2 393.8M569.4 366Q568.3 365 568.1 363.5M641.9 370Q644.2 371.8 647 372.4M638.4 385Q640.4 386 642.2 387.4M612.7 343.8Q612.3 342.5 611.4 341.4M624.2 334.3Q626.4 334.1 627 331.9M606.5 376Q605.6 377.8 604.3 379.1M634.8 392.1Q636.4 392.7 636.7 394.4M623.3 368.9Q624.8 367.9 626.6 368.3M636.1 378.4Q638.1 378.8 639.9 379.9M632.4 394.8Q634.3 395.7 635.7 397.3M571.7 351.4Q569.8 350.6 568 349.5M617.9 332Q619.1 330.8 619.8 329.3M598 379.4Q597.4 381.8 599.5 382.8M578.1 355Q576.2 355.3 574.3 355.4M603.2 393.4Q603 396 605.3 397.2M580.8 343.8Q578.7 343.2 577.3 344.7M569.6 356.8Q567 356.5 565.2 354.7M584.5 392.9Q582.5 392.5 580.6 393.2M577.9 361.9Q575.5 360.8 572.9 361.2M581 367.3Q580.1 365.3 578.4 363.9M634.6 393.8Q636.1 395.7 637.3 397.6M643.8 360.4Q646.2 360.2 648 358.4M585.1 392.9Q583.6 394.4 581.6 393.7M587.5 342.6Q587 340.1 584.5 339.9M577.1 387.5Q574.9 387.1 572.9 386.2M612.9 337.5Q615.1 337 616.8 335.4M630.2 374.4Q631.4 376 632.9 374.8M587.7 353.8Q588.2 352.1 586.6 351.1M625.8 379Q626.2 381.1 628.3 381.2M627.9 382.7Q629 382.1 630.2 381.6M637.6 378.6Q639.6 379.8 641.6 378.4M633.5 341Q635.1 339.2 637.5 339M621.7 394.6Q623.5 396.1 625.7 397.3M573.8 375.4Q572.1 376.5 570.7 378M617.1 352.4Q618.6 351.7 619.9 352.6M600.1 333.6Q598 332.6 597 330.5M575.4 349.3Q573.9 348.7 572.7 347.5M589 388.7Q588.3 390.2 589 391.7M627.2 337Q628.3 334.5 631 333.7M601.2 351.1Q600.1 350 598.7 350.6M613.2 384.1Q615.7 384.8 615.7 387.4M594 402.6Q594 405 592 406.2M623.5 402.3Q623 405 622.4 407.6M641.6 382.9Q643 380.9 645.5 381.3M571.7 362.4Q569.4 362.1 569.3 359.7M615.8 403.7Q616.2 405.3 617.2 406.6M614.8 393.4Q616.3 394.6 618.1 394.1M608.4 383.4Q607.2 385 607.9 387M624.7 342.8Q622.9 340.5 624 337.7M617 376.4Q616.2 378.3 618 379.5M643.1 356.8Q645.1 358.2 647 356.6M617.4 399.7Q619.2 400.7 618 402.4M600.3 337.6Q600.7 335 603 333.7M639.6 364.3Q641.7 364.2 643.5 365.3M599.4 361.2Q600.6 360.3 599.9 359M584.2 397.8Q582.7 398.7 580.9 398.3M627.6 348Q629.6 348.2 629.9 346.2M611.6 339.2Q609.7 338.1 610.2 336M590.7 374.7Q588.6 374.9 587.6 376.8M626.4 358Q627.9 356.8 629.7 357.6M585.2 336.4Q582.8 336.9 580.4 336.5M608.8 343Q608.1 341.6 607.2 340.2M638.1 387.3Q639.8 389.3 639.5 392M583.3 346.3Q582.1 344.6 581.9 342.4M608.4 395.8Q610 397.3 609.1 399.3M595.8 383.8Q594.4 385.2 594.5 387.2M587.6 361.5Q586.2 362.7 584.7 361.6M641.1 352.4Q643 351.9 644.3 353.4M602.4 380.2Q602.5 381.3 602 382.3M622.6 340.2Q623.3 338.7 622.2 337.5M596.9 390.3Q598.2 391.5 598 393.3M608.4 387.9Q609.2 389.9 608.7 392.1M581.3 370.8Q580.4 368.2 577.8 368.1M611.8 352.9Q611.7 351.2 611.5 349.4M593.4 394.8Q592.8 396.6 594.6 397.1M570.7 377.3Q569.7 379.7 568.6 382.1M589.1 347.7Q587.7 346.5 586 347.3M639.6 364.8Q642.5 365.3 644.8 363.5M627.9 350.8Q629.1 349.6 628.4 348.1M591.7 366.8Q589.7 366.4 588.7 364.6M639.7 377.3Q642 378.5 644.5 379.4M627.7 367.8Q629.1 369.9 631.6 369.8M572.6 351.3Q571.1 349.6 571 347.3M604.8 388.7Q606.5 389.5 607.9 390.9M641.6 379.9Q643.1 381 643.6 382.7M626.6 362.6Q628.4 361.7 630.1 362.8M600.6 374.5Q599.3 373.6 597.7 373.9M641.3 379Q643.2 377.9 645.3 378.6M596.2 346.3Q594 346.2 592.3 344.9M620.9 396.3Q619.5 398 620.3 400M572.8 349.5Q570.4 349.2 569.5 351.5M608 336.8Q609.3 334.2 608 331.6M580.5 351.9Q579.5 353.2 578 352.7M625.3 341.1Q627.2 338.8 630.1 339.2M606.1 374.8Q606.7 376.8 608.8 376.4M635.3 391.1Q636.1 393.4 637.8 395.2M608.4 393.1Q606.3 394.4 605.1 396.6M634.4 374.1Q635.8 372.9 637.5 373.2M597.4 352.4Q598.5 350.9 597 349.7M607.2 367.9Q608.6 367.1 610.2 367.7M629.4 345.5Q630.6 344.1 629.9 342.4M621.6 380.2Q623.3 380.3 623.9 381.9M624.2 378.7Q624.4 380.6 625.4 382.2M609.6 347.4Q611.3 345.1 614 345.5M624.7 379.8Q626.3 381.1 628.2 381.7M628.9 362.9Q631.4 362.8 633.8 363.1M631.7 386.5Q634 387.2 635.1 389.3M627.1 391Q628.7 392.4 630.2 393.9M611.9 382.3Q613.2 383.6 614.1 385.2M597.1 383.1Q596.7 384.3 596.8 385.7M594.1 392Q596.7 393.1 596.9 396M602.7 380.9Q600.5 381.6 599.4 383.5M615.7 353.2Q614 352.6 614.6 350.9M581.9 352Q580.9 349.5 578.6 348.1M622 398Q619.9 399.9 619.8 402.8M603.8 357.4Q602.8 355.9 603.2 354.2M618.3 336.1Q620.2 335.6 621.2 334M601.5 357.8Q600.3 359 599.3 357.6M637.6 365Q639.9 364.9 642 364.2M641.4 361.4Q643.7 361.1 644.7 363.2M599.6 404.4Q598.6 407.1 596 408.3M591.1 376.2Q589.5 374.1 587 375.1M591.7 354Q592 352.4 591.8 350.7M617.8 353.7Q619.1 352.5 619.6 350.8M614.8 347.9Q616 346.4 615.8 344.6M598.3 337.4Q599.4 335.2 600.9 333.3M626.8 344.6Q626.3 342.4 625.7 340.3M624.5 385Q626.2 386.8 628.6 386.3M607.4 329.5Q608.7 327 611.4 326.1M628.4 344.5Q630.2 344.6 631.7 343.5M584.1 378.2Q581.9 379.2 580 377.9M635.3 379.6Q638.1 380.3 640 378.3M608.1 348.6Q606.7 347.5 606.1 345.7M596 372.8Q594.5 374.6 592.2 374M627.2 368.7Q629 368.7 629.7 367M614.5 405.1Q615.1 407.2 615.7 409.3M642.6 356.4Q643.2 354.5 643.6 352.5M575.4 362.2Q574.4 361.2 573.6 360M623.3 399.4Q625.8 399.1 627.5 401M626.7 388.5Q628.4 389.5 630.2 388.8M582.6 349Q582.8 346.6 580.5 346M585.5 346.4Q583.8 346.4 582.2 346.9M595.3 331.7Q592.6 331.8 590.4 330.2M617.2 396.3Q619.5 396.8 621.7 397.3M597.8 339.1Q597.1 337.3 597.5 335.3M607 396.6Q608.7 398.3 609.5 400.6M592.1 338.3Q590.4 336.4 589.7 334.1M607.7 366.3Q609.7 366.9 610.6 365M584 379.3Q581.9 380.5 579.4 380.3M639 359.2Q639.2 357.4 641 357.1M612.9 398.8Q611 399 610.9 400.9M626.6 357Q628 356.4 628.4 355M626.1 360.3Q627.6 360.8 629 361.3M610.5 339.6Q609.8 337.6 609 335.8M578.2 358Q576.3 358 574.6 357.3M567.8 362.8Q565.7 363.5 564.8 365.4M634.5 383.9Q636 385.5 638.2 385.1M623.7 358.1Q624.9 358.3 626.1 358.5M586.9 347.3Q588.2 345.9 587.3 344.2M608.1 365Q609.1 364 608.1 363.1M585.2 336.1Q584.5 334 585.4 332M617.7 338.5Q616.8 336.8 617.2 334.9M619.7 353.3Q618.3 352.5 618.9 351M575 353.5Q574.8 350.8 572.5 349.5M635.9 372.3Q636.4 370.1 638.6 369.8M603 389.7Q600.5 390 598.5 391.3M584.7 381.4Q585.7 383.3 584.4 385M617.8 342.2Q619.2 340.2 618.7 337.8M572.9 384.7Q571.5 387 570.1 389.3M598 349.6Q598.5 347.3 599.8 345.2M606.3 388.3Q605.7 390.1 607.5 390.9M635.8 377.8Q638 378.2 638.5 376.1M614.2 346.8Q615.2 345 613.5 344M595.6 368.1Q594.2 367.2 592.8 368M611 403.9Q612.2 405.7 613.2 407.5M611 337.5Q610.4 335 610 332.5M600.5 371.3Q598.9 370.7 598.4 372.3M576.4 364.4Q575.3 365.6 573.6 365.4M593.5 339.7Q594.4 338.3 593.5 337M592.8 338.6Q593.3 335.7 591 334M579.2 380.5Q576.7 380.7 574.7 382.1M593.8 400.2Q592.7 401.5 591.9 403M601.6 367.2Q600.2 366 598.8 364.8M617.5 402.9Q619.8 402.8 621.8 403.7M586.4 353.9Q585 352 584.6 349.6M585.9 346.5Q585.1 344.6 584.5 342.6M641.1 372.6Q643 372.9 643.5 374.8M575.6 377.2Q575.3 379.2 573.3 378.9M622.9 379.7Q623.9 380.7 624.3 382.1M599.2 343.9Q599.2 341.7 600.8 340.2M592.8 362.9Q590.9 363.7 589 362.6M585.9 393.4Q584.8 394.8 585.3 396.5M579.7 360.7Q579.1 359.5 578.2 358.4M607.2 390.5Q606.4 391.9 605.3 392.9M622.9 387.8Q624.1 388.3 625.2 388.9M637.2 368.1Q636.9 370.4 639.1 371.1M613.8 378.3Q614.5 380 615.7 381.4M600.1 372.3Q598.5 372.4 597.8 373.8M635.1 385.6Q636.8 387.5 639.3 387.7M637.7 363.7Q639.1 365.4 641.2 365.1M581.3 350.7Q580.2 348.5 578.1 347.3M612.4 342.5Q613.9 340.4 612.7 338.1M623.3 391Q623.8 392.7 622.5 394M599 372.2Q598.3 374.2 596.2 374.7M609.3 344.4Q607.2 344.3 606.5 342.3M595.9 400.8Q597.4 401.7 597.3 403.5M630.7 390Q631.9 388.1 633.9 389M608 334.9Q606.8 332.9 608.5 331.3M607.9 401.1Q608.5 403.9 607.5 406.5M576.4 380.5Q574.4 380.5 572.8 381.7M633.9 373.9Q635.2 374.9 635.8 376.4M583.9 353.2Q583 352 582.7 350.5M576.1 373.8Q573.3 374.4 572.6 377.1M575.7 361.4Q573.6 361.6 572.3 363.4M586 376.6Q584.5 377 583.3 378.1M625 358.2Q626.9 357.2 628 358.9M608.6 362.7Q607.4 361.3 609.1 360.6M615.7 401.4Q614.2 402.6 613.4 404.3M593.4 349.2Q591.7 350.1 590.4 348.6M597.3 364.4Q598.4 363.3 597.1 362.3M617.5 385.9Q619.1 384.5 620.7 385.8M579.8 375.3Q578.2 377.1 577.1 379.3M608.4 402.1Q606.6 403.9 606.4 406.4M622.3 362.9Q623.9 363.7 624.5 362M623.4 355.1Q623.8 353.8 624.1 352.6M593 342.6Q593.5 340.7 592.4 339.1M623.5 390.3Q624.2 391.9 625.1 393.4M606 383.7Q608.3 384.6 607.8 387M585.8 382.8Q584.4 382.4 583 382.2M576.9 387.4Q575.3 386.6 573.7 385.9M602.1 389.3Q603.1 391.2 605 392.5M571 373.4Q568.4 374.2 567.9 376.8M603.9 397.2Q602.6 399.5 603.3 402M604.7 337.4Q602.6 338 602 335.9M580.2 369.9Q579.1 371.9 578.2 374.1M638.9 361.1Q641 362.4 643.3 362.8M609.5 340.1Q611.3 339.5 611.7 337.6M591.5 365.2Q592.1 363.4 590.4 362.7M602.8 341.3Q601.3 341.1 600.7 339.6M629.8 349.4Q631.3 348 633.2 347.3M600.1 341.3Q601.5 340.2 602 338.4M605.8 391.2Q607 392.4 608.6 393.1M579.9 377.1Q578.3 376 576.3 376.1M633.9 359.2Q635.9 358.7 636.9 356.8M612.2 347.8Q612.2 346.4 611.9 345.1M596.3 395.7Q596.7 398.2 597.1 400.8M577.5 384.1Q576.3 385.7 574.3 385.4M591.5 335.8Q590.1 334.4 588.5 333.3M598.8 361.6Q599.1 359.9 599.7 358.2M593.2 364.9Q592 363 589.8 363.4M622.3 380.6Q620.8 382.2 621.9 384.2M631 350.6Q633.2 350.1 635.2 348.8M606.5 330.1Q607.8 328.3 610.1 328.1M589.5 372.9Q587.6 373.3 585.6 373.5M574.6 389.7Q574.3 391.9 575 394M605.4 349Q603.8 347.5 602.4 345.7M577.5 343.3Q578 341.2 576.3 340.1M629.1 399.6Q628.8 401.6 630.6 402.6M637.1 349.1Q639 349.6 641 349.2M613.7 374Q615.5 374.9 616.3 376.6M610.6 369.5Q612.1 370.6 613.3 369.2M630.2 346.3Q632.6 346.8 634.7 345.5M607.2 349.9Q607.7 348 608.1 346.2M620.8 346.5Q622.6 347.1 623.7 345.6M632.8 379.2Q634.2 381.1 635.3 383.3M603 393.5Q604.2 395.1 605 396.8M589.1 341.8Q586.8 341.2 584.6 340.3M616.2 391Q615.7 393.2 616.9 395.1M585.7 396.9Q584.4 398.8 582.7 400.2M605.8 364.3Q607.7 364.2 607.7 362.3M598.6 363.7Q596.9 363.7 595.4 362.7M616 399.8Q617.5 401 618.6 402.6M629.9 359.3Q631.3 357.6 633.6 358.1M608.2 339.8Q609.8 337.8 610.7 335.4M622.7 351Q625.3 350.3 627.4 352.1M623.7 395.1Q625.3 397.3 628 397.3M593.5 395.3Q593.5 397.2 592.1 398.5M623.1 362.7Q623.5 364.4 625.3 364.3M601 334.9Q600.4 332.6 598.3 331.7M636.1 354.9Q636 353.1 636.8 351.4M631.3 366Q632.3 368.2 634 369.7M626.2 340.3Q627.8 338 626.2 335.8M591.3 373.6Q589.7 374.9 588 376M596.1 378.5Q595.2 380.6 593 380M598.8 402.6Q600.1 404.6 602.1 405.7M631.8 384.8Q633.8 383.8 635.8 382.7M602.5 366.7Q600.9 366.8 600.1 368.1M590.9 378.5Q589.4 378.2 588 378.8M603.7 359.3Q603.6 357.2 601.4 357.4M620 399.7Q619.6 401.6 619.1 403.5M615.8 386.5Q615.7 388.4 614 389.3M633.9 389.6Q636 389 636.7 391M567.7 371Q566 370.9 564.5 370.1M611.5 360.3Q611.9 357.8 609.6 356.8M602.3 385.1Q602.9 386.1 603.3 387.2M627.3 349.3Q628.2 348 629.5 347.1M621.5 371.5Q623.5 370.1 625.6 371.3M627.1 335.8Q629.5 335.4 631.7 336.2M626.7 395.7Q628 397.9 629.5 399.9M621 399Q620.9 400.7 619.9 402M632.4 353.3Q633.6 351.9 633.1 350M591.1 380.2Q589.7 382.3 590.2 384.8M630.3 367.4Q632.4 367.6 632.5 369.7M584.7 343.3Q583.1 343.4 582.1 342.3M590.5 334Q589.6 331.6 590.2 329.2M570.3 374.6Q569 372.6 567 371.4M642.5 364Q645.1 364.6 647.6 365.9M604.9 390.1Q605.9 392.2 605.9 394.5M622.5 378.7Q623.9 380.5 624.8 382.6M607.5 353Q608.6 351.9 609.9 350.9M583 362.9Q580.8 362.1 579.1 360.4M577.3 343.3Q574.6 342.4 573 340.2M630.8 353Q633.2 353.5 635.6 353.8M612.3 337.5Q612.3 334.7 610.4 332.6M584.1 352.4Q583.4 351.1 584.2 349.8M641.2 378.9Q643.1 379.5 644 381.3M604.4 376.7Q603.5 378.5 604.7 380.1M623.5 393Q625.6 394.7 626.2 397.3M612.3 400.2Q612.6 402.5 614.7 403.6M616.5 394.9Q616.1 396.4 617.1 397.6M591.7 393.4Q590.4 394.7 589.1 395.9M615.5 339.8Q615.6 337 613.6 334.9M620.6 359.2Q620.8 356.9 622.6 355.5M630.2 341Q632.5 340 633.7 337.9M590.4 394.9Q588.1 395.9 585.8 397.1M583 395.8Q582.2 398.1 580.4 399.8M616.2 335Q616.6 332.8 614.8 331.4M633.6 374.5Q634.6 375.6 635.5 376.9M609.8 331.3Q610 329.7 611.5 329M619.4 366.6Q620.8 366.2 621.3 364.9M599.2 334.5Q599.1 331.9 598.4 329.3M610.2 361.7Q609.4 359.9 608.1 358.3M608.7 399Q607.3 400.2 606.3 401.7M601.9 359.8Q603.3 358.5 602.8 356.6M578.6 358.1Q577.6 356.9 577.2 355.4M604.1 333.3Q606.2 332.1 607.6 330.1M610.9 399Q610.7 401.5 608.8 403.3M584.6 378.1Q583.1 379.2 581.9 377.8M610.6 331Q608.9 329.5 610.4 327.7M618 358.4Q616.9 356.4 617.8 354.3M611.3 402.8Q610.6 405.1 609.9 407.5M587.2 368.7Q585.3 370.1 583.3 371.2M593.5 394.8Q591.6 396.8 592.1 399.6M639.9 356.7Q641.4 357.2 642 358.7M612.4 358.2Q611 356.5 611.6 354.4M598.4 383.8Q597.3 385.1 595.6 384.5M604.4 402.6Q603.3 404.5 603.5 406.6M610.2 395.3Q612.6 396 614 398.1M589 358.9Q588.2 357.4 588.7 355.8M584.3 374.4Q582.9 373.1 581.2 372.1M594.6 386.7Q592.5 388 592.6 390.6M613.5 402.7Q612.7 404.4 611 405.3M627.9 384.1Q630.6 384.7 631.7 387.2M574 389Q574.2 391.5 572.1 393M608 345.7Q606.6 344 606.5 341.8M599.8 335Q598.9 333 599.7 331M593.8 367.3Q592.2 369 589.9 368.3M600.5 378.1Q599 379.3 598.3 381.1M623.7 377.6Q623.8 379.2 625.4 379.6M631.5 350.5Q633.3 349.5 634.4 347.9M613.8 358Q614.3 355.7 616.6 355.6M618.4 384.9Q619.1 387 621.2 386.7M581.7 357.9Q579.6 358.8 578.2 357.1M574.3 370.9Q573.6 373.7 570.8 374.1M570.8 359Q568.7 357.8 568.5 355.4M611.9 394.7Q611.4 396 612.2 397.2M574.1 355.2Q571.7 355.4 569.4 355M637.9 346.5Q639.3 344.2 641.8 343M587.9 335.5Q585.5 335.9 583.2 335.6M629.7 389.1Q632 390.3 634.5 391.1M593.6 343.5Q592.1 343.4 590.8 342.7M583.5 372.6Q582.2 373.4 580.8 372.9M605.9 333Q606.7 331.7 606.7 330.2M609.4 379.7Q611.2 380.8 612.4 382.6M624 380.9Q626.2 381.3 627.9 382.7M625.3 385Q626.7 386 628.1 384.9M571 375Q569 374.4 567.1 375.1M595.5 383.2Q593.4 382.5 592.7 384.6M632.9 368.2Q635.3 367.1 637.7 368.1M582 359.1Q582.2 357.6 581.1 356.7M603.4 357.5Q603.3 355.2 605.6 354.8M586.1 371.8Q584.3 371.3 583.5 369.6M602.9 334.7Q605.2 334.1 606.6 332.1M618.9 402.6Q621.3 403.5 623.9 403.6M626.5 337.9Q627.1 335.9 625.6 334.5M612.9 339.9Q613.7 338.6 615.3 338.8M607.8 378.7Q609.4 380.2 609.4 382.4M581.9 380.5Q579.9 379.6 578.2 378.3M605.1 379.7Q607 380.9 607.9 382.9M622.4 371.4Q624 370.5 625.5 369.5M600.8 338.9Q599.4 337.4 597.6 336.2M573.1 387.9Q571.8 389.2 571.7 391.1M596 401.6Q593.9 403.4 591.4 404.5M617 362.7Q617.8 360.7 619.2 359.1M580.1 376.7Q580.8 378.8 579 380.1M626.8 386Q626.9 388.4 629.1 389.2M579.9 344.7Q580.5 342.6 579.2 340.9M621.1 341.3Q623.6 342 625.4 340.2M610.5 366.3Q611.4 364.9 613.1 365.1M585.6 360.6Q584.4 361 583.2 360.5M621.9 367.5Q623.7 366.4 624.1 364.4M602.4 329.4Q604.5 327.8 604.3 325.1M570.5 366.9Q569.2 365.1 568.4 363M591.2 353.5Q590.2 352.3 589.2 351.1M623.7 350Q623.6 348.6 623.5 347.3M634.6 373.8Q636.1 373 637.5 374.1M640.4 372.2Q642.7 372.1 643.9 370.2M571.9 364.9Q569.5 364.5 567 364.3M574.2 381Q574.2 383.8 572.4 386M592.9 341.9Q590.9 341 591.3 338.8M629 380.5Q631.3 380.3 632.1 382.5M584.3 376.1Q583.2 378.3 581.1 379.7M616.8 370.6Q616.9 368.5 619 368.6M629.5 356.2Q630.8 354.4 631.8 352.5M591.3 374.6Q592.4 376.3 591 377.8M593.4 371.7Q592.9 373.3 591.2 373M626.5 363.3Q628.6 363.3 628.7 365.5M626.8 350.5Q627.3 348 628.3 345.6M624.2 377.6Q626.1 377 627.9 377.7M602.1 344.4Q600.5 343.3 601.6 341.8M623.2 400.2Q623.6 403 626.3 403.7M606 340.1Q606.5 337.8 607.1 335.6M588.7 363.5Q587.7 362.6 586.5 362.2M587 386.2Q586.1 387.7 584.6 388.7M589.7 403.2Q589.7 404.8 588.6 405.8M571.2 367.3Q569.1 365.7 566.4 365.1M631.3 339.5Q629.9 337.1 631.6 334.9M631.8 350.3Q634.3 350.3 636.8 349.7M609.8 402.4Q611.6 403 611.4 404.9M633.6 389Q633.1 391 634.7 392.4M643.4 378.2Q645.6 379 647.7 380.1M600.3 368.2Q598.5 368.6 597.6 367M634.7 372.8Q636.1 371.8 637.6 371M605 391.9Q604.4 393.6 602.7 393.4M592.2 398.8Q589.8 399.6 587.4 400.5M583.6 389.4Q581 389.6 578.5 390.5M626.8 356.4Q628.2 354.2 626.7 352.1M594.2 354.1Q592.6 352.7 590.9 354.1M610.6 378.8Q612.1 378.5 612.9 379.9M576.8 344.1Q575.1 342 572.8 340.7M585.7 400.8Q584.6 403.3 582.5 405.2M579.1 394Q578.8 396.3 576.6 397M600.1 345.9Q599.7 343.6 601.9 342.6M588.9 343.9Q587 342.9 587.8 340.8M605.7 396.5Q605.1 399.2 602.4 400.1M573.8 378.5Q571.5 378.3 570.2 380.3M617.4 364Q617.9 366.1 620 365.6M592.1 336.3Q591.6 334 590.6 331.8M609.2 402.7Q611.2 404 610.1 406.1M580.7 347.8Q578.3 346.8 575.8 347.3M577 350.7Q574.7 351.2 572.5 350.2M617.4 341.9Q619.3 340.2 619.3 337.5M585.7 384.9Q586.2 387.1 584.3 388.3M607.5 403.7Q609.1 404.2 610.1 405.5M589.8 353Q588.4 352.5 587 351.9M578.6 365.8Q576.4 364.7 574.7 366.5M599.5 345.9Q598.3 344.1 597.7 342.1M641.2 366.2Q643.9 365.8 645.6 368.1M594.9 338Q593.3 336 590.7 335.9M574.4 387.7Q575.4 389.8 573.4 390.9M633.7 364.7Q635 362.8 637.3 363.1M585.3 395.2Q584.2 397.5 584.4 400.1M599.8 339.3Q598.1 338 596 337M592.4 395.7Q592 397.1 591.4 398.4M581.6 357.6Q579.7 356.7 577.8 356.1M627.3 401Q627 403.6 628.5 405.9M605.5 384.4Q605.1 386.3 603.8 387.6M573.3 380.5Q572.7 382.7 570.7 383.7M639.2 361.2Q641.7 360.6 643.4 362.4M632.6 340.8Q634.9 339.3 637.5 340.4M584.4 370.1Q583.1 368.7 581.5 369.7M601.9 341.2Q602.2 339.3 604 338.7M627.9 388.6Q629.4 389.1 630.5 387.9M579.5 391.9Q578.4 393.9 576.4 395M589.2 383Q588.3 384.9 587.8 386.9M616.9 375.8Q616.5 377.7 618.2 378.7M577.9 351.3Q575.7 351.4 573.5 351.3M605.2 401.9Q602.1 401.7 600.4 404.3M614.6 390.9Q615.2 393.1 616.6 394.8M607 372.6Q606.8 374.6 604.8 374.5M611.2 339.1Q612.8 339 613.8 337.7M598 358.3Q596.5 358 596.8 356.5M599.6 343.9Q600.3 342.2 601.9 341.6M575.2 377.2Q572.7 376.6 570.2 377.6M589.6 387.5Q587.5 387.9 585.9 389.2M603 341.2Q601.2 339.6 600 337.7M630.4 376Q631 377.9 632.4 379.3M627 376.6Q629.1 376.6 630.3 378.3M640.8 375.4Q643.3 377 643.7 379.9M641.6 354Q643.8 353.4 644.7 351.3M610.2 359.4Q608 359 608.1 356.8M599.5 342.8Q598.5 341.3 598.9 339.5M603.7 379.8Q605.3 380.6 604.7 382.2M592 377.7Q592.4 379.7 591.6 381.6M574.5 355.1Q572.6 353.6 571.4 351.5M637.6 375.9Q637.6 378.5 640 379.8M618.4 387.8Q617.2 389.3 618.5 390.7M620.7 351Q621.3 349.3 620 348M604.8 357.6Q603.2 356.4 603.6 354.5M620.1 354.8Q621 353.2 622.6 354.1M610.5 380.3Q612.1 381 612.9 382.5M639.6 386.2Q641.2 388.2 643.7 388.4M587.8 348.6Q586.2 347.4 584.5 348.4M600.5 366.6Q598.9 365.3 599.1 363.1M568.2 376.2Q566.7 378.4 565.5 380.7M633.7 395.5Q635.3 397.3 633.9 399.3M608.7 352.8Q610.7 352.3 612.1 351M597.6 392.1Q598.7 393.6 597.4 394.8M622.8 358.2Q623.7 360.1 625.6 359.2M598.3 355.7Q596.9 353.9 594.9 355.1M592.7 337.6Q592.5 335.1 592.3 332.6M600.2 331.9Q601.6 330.5 601.3 328.6M641.6 382.5Q643.6 384.1 646.2 383.8M591.9 400.2Q589.7 402 590.2 404.8M619.7 369.5Q621.4 369.6 621.1 371.3M629.8 369.7Q631.6 369.9 631.2 371.8M584.7 385.3Q582.5 387.1 579.9 385.9M640.8 383.9Q642.7 383.1 644.3 384.3M609.8 357.8Q611 356.3 609.7 355M620.7 387.9Q622.5 386.7 624 388.4M584.9 391.6Q583.7 393.7 581.4 393.3M606 329.4Q606.8 327.8 606.6 326.1M599.3 340.6Q597.7 338.5 595.2 339.1M587.6 338.6Q585.7 337.3 583.4 337.1M622.2 357.3Q622.8 356.1 623.4 355.1M595.3 332.7Q594.6 330.5 592.3 330.1M570.4 380Q568.5 380.1 567 381.3M587 399.5Q584.8 399.6 583 400.8M584.2 343.3Q581.4 344.4 578.9 342.6M620 379.7Q619.4 381.9 621.5 382.6M620 376.6Q621.8 376.7 622.6 375.1M583.1 365.4Q581.4 365.3 580.1 366.5M605.1 367.8Q604.8 366.6 604.5 365.4M598.5 398.5Q601 400.1 600.6 403M587.7 370.8Q586.1 371.4 586.6 373M571.8 362.4Q571.5 359.8 569.8 357.8M603.4 344.8Q601.8 343.7 602 341.8M606.6 367.2Q607.8 365.9 609.2 365.1M579.8 349.1Q577.7 350.1 575.9 348.7M597.1 334.1Q595.1 332.7 592.6 332.7M615.6 367.3Q616.8 368.3 617.3 369.8M606.5 365.8Q606 364.1 607.8 363.9M613.3 344.5Q613.7 342.4 612.9 340.5M591.7 360.2Q589.7 360.9 587.8 361.4M572.5 383.2Q571 384.6 569.3 385.7M595.6 401Q598 401.9 598.7 404.3M598 381Q596.2 381.5 596.7 383.4M624.9 357.2Q626.4 356.7 626.1 355.1M630.4 373.4Q632.5 374.1 634.4 375.4M638.5 366.8Q641.2 367 642.3 364.5M617 350Q616.4 348.1 615.5 346.3M572.8 364Q572.2 362.2 570.3 362.3M595.7 341.9Q597.2 340.2 596.4 338.1M605.3 401.3Q606.3 403.8 608.9 404.3M596.6 388.6Q594.6 389.9 593.1 391.8M595.4 368.3Q594.1 367.9 592.9 368.4M580.7 382.5Q578.9 381.6 577.8 383.2M594.4 387.9Q592.2 386.7 590.6 388.6M605.2 333.6Q606.4 331.2 609.1 331.1M577.4 371.6Q574.7 370.2 572.2 371.9M621.4 338.8Q620.2 337.2 619.2 335.6M623 359.2Q624.7 357.1 623.2 354.9M628.7 372Q630 373.5 631.3 372.1M616.9 394.3Q616.6 396.2 616.6 398.2M623.9 364.4Q625.1 366.5 627.4 366.9M610.3 405.8Q610.2 408 608.4 409.3M573.4 366.2Q571.7 367.5 569.8 368.2M608.8 338.6Q609.5 337 610.9 335.9M624.1 362.7Q625.4 363.4 626.1 364.7M627.6 386.5Q629.5 387.8 629.8 390.1M596.7 349.5Q597.9 348.6 598 347.1M604.2 331.9Q605.2 330.2 607.2 330.1M569.3 378.4Q567.2 377.8 565 377.8M611.7 370.6Q612.7 368.5 614.9 368.9M622.4 385.7Q622.4 388 624.2 389.4M610 334.8Q610.2 332.4 607.9 331.5M618 345.3Q620 344.7 619.8 342.5M600.4 360.8Q598.8 359.1 600 357.1M594.6 396.4Q593.7 397.5 592.7 398.5M602.7 395.2Q603.2 397.4 604.2 399.4M583.1 375.1Q581.1 374.5 579.1 375.1M643.6 362.7Q645 361.1 646.1 359.3M605 382Q606.3 382.9 606.8 384.5M603 357.7Q602.3 356.2 603.6 355.2M603.4 346.3Q602.5 343.9 600 344M608.9 388Q609.7 390.2 608.6 392.3M597.9 372.6Q596.4 372.6 596.1 374.1M600.9 359.9Q599.7 359.7 598.9 358.8M591.3 387.6Q590.2 389.2 588.4 389.8M592.2 358.2Q591 356.3 591.4 354M588.2 394.7Q586.5 394.9 585.9 396.4M606.1 342.9Q607.9 342.8 608.2 341.1M611.5 406Q612.4 408.9 610.5 411.2M594.9 397.8Q594.8 399.4 594 400.8M600.4 404.6Q600.9 406.2 600.5 407.8M595.4 381.9Q594.2 383.3 593.8 385M636.8 371.5Q639.4 372.9 642.1 372M594.5 339.1Q592.9 338.7 592.6 337.2M576.6 391.5Q576.2 393.8 573.8 393.9M631.6 382.2Q633.5 383.6 633.2 386M623.6 374Q624.8 373.1 626.3 372.8M629.6 376.3Q628.5 378.4 630.5 379.6M598.5 353.4Q599.7 352.1 599.5 350.3M600.8 348.9Q599.7 346.6 597.1 346.5M605.2 389Q604.2 390.2 603.7 391.7M628.6 357.6Q630.9 357.3 633.1 356.8M616.3 340.4Q618.2 339.2 620.4 338.4M603.4 337.3Q602.6 335.9 601.4 335.1M604 348.5Q601.6 349.1 600.3 347M608.9 372.9Q609.5 373.8 610.5 374.3M579 344.3Q576.4 342.7 573.7 344M630.5 362.6Q631.8 361.2 633 362.7M621.8 365.8Q623.8 364.8 624.7 362.7M583.1 338.6Q580.2 339.1 578.3 336.8M593.3 386.9Q592 388.5 590 388M611.6 381.2Q613.9 381.6 613.6 383.9M575.2 345.6Q573.1 343.8 570.6 345.1M619.7 374.8Q621.5 375.9 623.2 374.5M629 385.8Q629.7 388.3 631.3 390.3M591.4 359.2Q589.7 358.3 588.8 356.6M579.8 379.8Q578.4 378.9 576.8 379.4M573 385.7Q572.6 387.5 571.2 388.7M575.9 364.2Q574.7 366 572.6 366.3M594.3 382.1Q593.2 383.5 591.3 383.4M608.5 374.2Q609.5 375.7 608.9 377.4M596 349Q594.1 348.6 592.2 348.3M587.1 360.2Q585.7 361.3 583.9 361.6M591.8 376.4Q589.8 375.6 587.9 374.9M598.5 334.1Q597.4 332.6 597.6 330.8M625.5 383.9Q626.3 385.6 627.9 386.7M612.2 364.4Q613.6 363.5 615.2 363.8M614.9 400.1Q613.9 401.3 612.9 402.6M627.1 364.6Q627.6 362.3 629.9 361.9M640.1 352.7Q641.7 352 643.2 352.7M594.2 375.9Q592.7 376.9 591.9 375.3M582.6 368.7Q580.5 369 579.7 370.9M584.9 384.1Q582.8 384.6 580.7 384.7M607.1 332.2Q607.3 329.7 609.2 328.3M605.8 334.7Q606.5 332.6 606.8 330.5M604.9 400.7Q603.6 403.4 605 405.9M638.4 370.1Q639.9 371.3 641.2 369.9M605.2 336.7Q605.6 335.2 605.7 333.7M616.5 401.8Q616.8 403.5 615.7 404.9M631 377.1Q633 377.4 634.9 377.4M615.2 332.3Q614.6 329.7 613.5 327.2M634.8 388.5Q636.4 389.3 638.2 390M640.1 382.9Q641.7 383.7 643.3 382.8M578.9 364.7Q577.5 364 576 363.8M619.6 340.8Q619.2 338.9 618.9 336.9M608.9 357.7Q607.5 356.3 607.5 354.3M638.6 357.5Q639.9 356.1 639.7 354.3M606.8 387.9Q606.3 390.1 607.9 391.7M619.1 396.6Q619.3 398.1 620.4 399.1M617.7 399.6Q619.8 401 622.2 400.5M643.6 373.2Q645.7 374.8 646.3 377.4M611.1 361.1Q610.1 359.9 609.9 358.4M624.3 391.4Q625.8 393.2 626.7 395.3M598.2 362.1Q596.1 362.2 594.3 361M589.9 368.1Q588.7 368.1 587.6 368.8M625.2 358.7Q625.7 357.4 626 356.1M637.6 355.7Q640.2 355.8 642.8 356M577.5 386.3Q576.3 388.8 573.4 388.9M573.6 370.4Q571.1 370.8 570 368.5M638.3 372.2Q640.7 373.2 643.1 374M603.5 343.9Q600.7 343.3 600.2 340.5M642.3 377Q643.1 378.8 644.2 380.6M604.4 346.8Q605.6 346.1 606.7 345.1M608.7 353.5Q607 353.1 606.6 351.4M615.5 400.4Q615.2 403.1 612.8 404.5M633.5 341.1Q635.7 339.8 638.2 339.8M598.9 385.7Q596.9 387 594.7 386.1M596.1 352.2Q594.3 351.6 594.4 349.7M597.9 386.1Q597.7 387.7 598.2 389.2M576 352Q574.2 353.2 572.8 351.6M617 405.6Q618.3 407.5 617 409.5M578.6 352.1Q576.1 352 574.7 354.2M583.8 375.6Q582.9 373.4 580.6 372.9M613.2 342.4Q612.4 341 612.9 339.5M604.4 387.6Q602.9 387.5 602.2 388.8M589.4 380.7Q587.9 379.4 586 379M638.9 382Q640.4 383.2 642 382.1M624.9 342Q625.9 340.9 626.9 339.9M640 355.8Q640.8 357.6 642.6 357M589.4 346.7Q586.9 345.9 584.3 346.6M620.5 342.7Q620.2 340.8 621.3 339.2M606.4 353.8Q607.6 352.2 607 350.2M580.9 372.4Q579.1 371.3 577.7 372.8M600.7 401.7Q602.4 403.7 602.8 406.3M610.3 393.7Q611.2 395 610.9 396.5M598.1 359.4Q598.6 357.7 596.8 357M642.5 355.6Q644.7 354.2 645.8 351.8M595.2 376.1Q593.1 377.1 591.8 375.3M594.9 368.3Q594.9 365.9 592.6 365.3M610.5 388.7Q608.5 389.7 609.1 391.8M594.1 397.9Q592.5 396.7 591.4 398.4M576.9 344.9Q575.4 346.6 573.5 345.4M631.9 379Q631.6 381.3 633.6 382.5M584.3 372.4Q583.2 373.8 581.8 372.8M617 397Q616.7 399.5 615 401.3M598.7 340.5Q596.1 340.6 595 338.2M604 366.4Q602.1 366.8 601.3 365M577.6 391.1Q574.9 391.9 572.3 391.2M592.4 378.5Q590.6 379.9 588.6 381M611.6 353Q614 353.3 615.5 351.3M590.1 382.4Q588.3 384.1 588.8 386.5M587.5 354Q586.2 354.2 585.1 355M592.2 383.2Q591.4 385.5 592.5 387.8M587.1 398.8Q586.2 400.7 587.9 401.9M612.1 394.6Q611.4 397.1 609.1 398.3M621.7 399.6Q623.2 400.5 625 400.4M587.3 386.5Q585.6 385.9 584.3 387M596.3 399.9Q597.9 400.9 598.7 402.6M615.3 369.4Q615.2 371.3 617 370.6M603.7 373Q603.4 375 601.5 375.9M625.1 366.4Q626.1 367.6 627.6 367.2M593.5 373.5Q592.1 372.3 590.7 373.4M611.2 374Q611.4 376 612.6 377.7M590.6 341.1Q589.7 339.4 588 338.5M617.9 366.9Q619.2 365.7 620.7 366.5M616.3 337.1Q616.1 335.3 616.1 333.4M619.8 360.8Q621 359 620 357M637.7 381.6Q639.3 382.2 640.4 380.9M637.1 361.2Q637.8 358.8 639.3 356.9M637.4 361.9Q638.3 359.4 640.9 358.9M600.7 372.3Q600.2 374 600.1 375.7M620.8 380.4Q622.2 382.1 624.3 382.9M571.7 378.5Q570.7 376.3 568.3 376.9M623.3 351.3Q625.2 350.6 627.2 350.8M589.5 377Q587.8 375.9 585.8 375.7M597 390.4Q596.7 392.3 594.8 392.2M632 354.9Q632.2 353.4 631.9 351.9M611.4 345.1Q610.6 342.8 612.6 341.5M603 390.1Q604.4 391.7 602.7 393.1M571.7 377.6Q570.8 379.6 568.6 379.2M610.5 349.5Q612.9 349.6 614.1 347.5M569.9 358.9Q568.2 358 566.7 359.2M589.8 350Q587.8 351.1 586.4 349.3M625.4 384.2Q627.1 386.1 629.4 387.2M624.9 381.1Q626.4 379.1 628.8 380M601.8 406.9Q600.5 408.2 600.4 410.1M633.1 348.6Q635.2 349.5 637.2 348.5M626.3 381.4Q627.5 380.6 628.9 380.4M627.9 353.2Q630.4 352.3 632.8 353.4M598.1 365.2Q596.7 363.7 594.8 364.6M589.5 339.7Q587.1 341.1 584.7 339.6M592.2 401.6Q590.8 403.6 592.2 405.6M607.6 346.7Q608.9 346.3 610 345.7M613.5 375.3Q615.3 376.8 617.5 376.4M608 367.3Q609 367.2 609.6 366.5M586.5 355.4Q586 354 586.7 352.6" fill="none" stroke="#2e2e2e" stroke-width="0.8" stroke-linecap="round"/>
<path d="M602.9 340.6L601 338.8M629.8 370.4L630.5 372.1M594 360L593.3 358.4M590.5 355.2L589.6 353.3M610.6 336.9L609.1 334.6M572.7 364.4L571.5 365.7M580.6 352.5L578.2 352.7M613.3 364.2L614.5 361.8M621.1 393.7L622.6 394.3M599.4 373.5L598.4 374.4M594.1 349.2L594.3 346.7M599.9 374.6L599.3 376.1M572.5 351L571.3 349.9M622.3 351.8L624.6 350.8M633.8 377.9L634.1 379.3M591.9 379L589.9 379.8M598.4 342.1L596.9 341.6M606.3 346.7L606.4 345.2M589.8 396.2L588.4 396.7M607.4 362.6L606 360.5M578.3 378.4L577.7 380.8M602.3 364.5L600.3 363.6M595.2 366.9L594 367M607.1 372.4L607.2 373.6M613.9 378.2L615.1 380.6M589.7 369.3L588.7 370.4M597 355.1L595.6 352.9M635.1 380.9L635.4 382.7M640.7 362L643.1 361.5M637.9 380.7L639.8 382.2M641.1 373.7L642.9 374.2M638.9 386.1L640.7 386.3M606.1 396.5L607.5 398.4M587.9 400.5L586.7 401.9M623.3 365.3L626 365.8M569.3 369.7L567.3 368.8M642.5 379.7L645 380.5M630 374.6L632.2 374.6M622.9 402L624.3 402.8M592.3 376.9L590.4 376.4M625.6 360.9L627 360.3M625.9 395.8L626.2 397.1M607.4 339.5L606.6 337.9M604.2 335.5L605.2 333.8M569.2 364L567.8 364.2M574.8 378.5L572.2 377.7M589.5 381.7L587 382.2M580.5 394.8L580.1 396.9M628.9 341.8L629.2 340M606.7 396.7L608.4 397.9M588.4 360.6L586.3 360.6M635.6 390.7L636.8 391M624.6 343.6L627.4 343.2M618.4 380.3L619.4 382.4M589.2 336.6L587.5 335.9M606.2 339.6L608.1 337.7M585.3 337.7L584.8 335.9M584.1 391.7L582.4 391.6M591.6 391.9L590.3 393.8M587.6 373.3L585.3 373.7M601.4 338.9L599.7 337.9M622.4 346.3L623.7 345.4M619.5 382.5L621.1 382.7M579.8 385.4L577.8 384.9M587.5 339.4L588 337.7M620 351L621.6 350M612.7 402.6L614.2 404.1M577.8 387.6L578 389.7M577.1 346.4L575.5 347.1M595.6 405.1L594.7 406.2M575.5 368.1L573.9 370.4M588.7 369.3L586.8 370.5M620.6 378.9L621 381.7M620.1 357.4L620 354.7M612.6 379.8L612.6 381.8M610.6 342.6L612.9 341.6M615.4 353.1L617.8 353.1M636.8 367.6L639.4 367.1M607.6 334.3L607.5 332.6M588 398.1L588.4 399.6M637.9 377.5L639.7 376.2M629.3 380.1L631.1 379.4M636.6 385.7L636.7 386.9M594 403.8L593.7 405.8M601.1 392.1L600.8 394M584.5 387.3L584.2 389.5M611.6 372.7L613.5 373.4M616.6 364.8L618.6 365.1M591.3 393L592.6 395.4M628.6 352.2L629.6 351M637.4 364.7L638.8 363.1M599.1 364.1L597.5 363.4M569.9 373.1L567.6 373.8M625.3 400L628 400.7M609.9 336.2L612.4 335.1M615.7 396.3L615.5 398.1M576.3 375.6L574.3 376.2M577.8 384.6L576.5 384.6M599 359.7L596.6 358.6M602 343.2L600.5 341.4M575.1 367.9L573.9 367M604.2 395L602.9 397.4M571.9 366.2L571.1 367.5M608 382.4L606.1 383.9M629.5 384.2L631.7 384.2M602.3 334.5L602.5 331.8M630.1 380.8L631.7 380.9M624.1 336.7L625.4 335.6M620.6 400.2L619.9 401.8M588.8 378.3L586.5 377.9M641.9 373.4L642.6 375.1M604.9 330.5L604.8 328.6M632.6 343.5L634.1 341.2M585.7 335.9L583.9 335.4M632.9 369.2L634.5 369.6M594.5 403L596.2 405.2M583.9 341.3L582.5 339.9M599.3 395.2L598 395.8M635.1 374.9L635.7 376.4M609.7 351.3L608.6 349.9M602.9 376.3L604.1 378.5M593.9 380.8L592.6 380.9M637.9 373.5L638.6 374.7M588.6 398.7L586.6 400M613.8 391.4L614.4 393.4M614.9 372L615.5 373.1M611.9 384.3L611.6 385.4M633.1 385.1L635 384.8M576.1 366.8L574.1 368M633.2 367.1L634.7 365.9M630.4 345.2L631.3 342.9M611.9 386.8L611.7 389.6M640.1 377.9L642.5 378.2M619.6 337.1L618.8 336M606.7 395.8L606.1 398M631.5 371L633.6 370.7M621.3 390.9L621.7 392.9M577.4 358.6L574.9 359.1M629.9 378.5L632.4 378.3M603.5 343.2L602.2 341.8M582.1 368.1L579.8 367M632.1 372.4L633.5 374.7M578 386.1L575.7 384.8M575.6 389L574.2 389.5M589.1 373L588 373.9M608.5 365.9L608.3 364.1M596.9 375.6L595.3 375.9M632.5 376.2L633.6 378.8M609.8 397L610.3 398.8M611.9 371.9L614.1 371.2M578.4 390.5L577.7 391.6M593.8 344.2L591.5 342.7M605.1 405.8L603.3 407.2M584.2 379.1L583.3 380M591.7 394.3L590.1 395.6M587.2 349.1L585.8 349.5M591.7 343.5L589.8 342.9M626.2 363.1L628.8 363.3M617.6 335.8L619 335.4M596.4 370.9L595.1 372M617.8 361.2L618.4 359.1M616.8 368.2L617.8 369.7M628.3 390.4L630.8 391.1M589.8 371L587.8 371.5M601 397.1L602.2 398M613.5 331.7L612 329.7M592.6 397.3L591.6 398.6M642 371.1L643.4 369.7M579.7 360.2L578.3 358.8M626.4 361.5L627 359.8M620.5 345.5L619.4 342.9M632.6 371.9L634.5 371.3M586.4 396.5L585.1 397.4M579.8 370.7L579.1 371.8M611 372.5L613.3 374M576.6 356.9L574.6 355.4M642.4 374.5L643.5 375.4M608.9 402.6L608.3 405M609.9 332.8L611.8 331.5M588.6 395.5L588.6 397.4M620 378.6L621.1 379.7M630.1 392.6L632.3 392.3M639.3 384.9L640.1 386.7M621.2 340.7L620.7 339.5M630.3 396.5L630.9 398.2M619.9 376.9L621.7 377.5M593.9 365.4L593 364.6M604.1 347L605.5 345.2M580.9 373L579.6 373.6M626.6 363.1L629.2 363.1M606.6 398.9L606.6 400.5M600.7 365.2L599.7 362.8M617.1 374.9L618.7 375.9M636.2 384.5L637.5 386.8M590.8 398.4L589.5 399.7M611.1 384.9L612.1 386.2M577.2 361.1L574.9 360.8M605.1 366.8L602.3 366.9M576.5 366.7L574.8 368.3M587 401.3L585.5 402.5M597.2 375.5L596 377.9M607.8 389.5L608.6 391.8M627.3 358.7L629.1 356.9M630.6 397.7L631.6 399.5M572.1 367L570.7 369M599.8 337.7L597.4 336.5M603 384.1L602.7 386.1M619 349.9L619.9 347.6M597.9 402.7L599.6 405M575.4 373L573.5 374.6M623.6 390.3L622.8 392.8M598.4 375.7L596.1 376.7M576.6 389.2L576.6 391.7M634.1 376.6L636.5 376.9M589.3 342.6L590.3 340.4M571.9 376.5L569.7 375.9M634 342.8L635.6 342.8M587.4 375L585.1 374.8M626.1 386.6L625.6 388.8M584.6 399.1L583.1 400M636.4 387.1L637.6 386.9M639.6 355.6L642.3 355M577.4 390.6L575.9 391.4M626.7 341.6L627.8 339.9M578.2 360.9L576.2 360.6M586.1 381L585.4 383.6M593.4 347.4L592.3 346.4M585.9 337.2L586.2 335.1M621.4 377.8L621.7 379.2M571.4 369.8L569.7 370.5M639 354L640.5 352.4M588.6 354.1L586.1 353.4M598.1 369.2L595.9 370.2M616.7 375.2L618.8 376.1M595.4 363.7L593.1 363.5M634.1 394L633.9 396.1M609.9 400.5L611.6 402.5M635.6 353L638 352.2M584.1 338.8L582.4 337.5M578.3 368.2L576.9 369.4M608.5 404.2L606.8 405.9M591.6 363.7L589.5 363.2M628 398.1L626.8 400.6M641.7 359.9L642.9 358.9M581.2 377.9L579.3 376.4M630.9 348.9L632.7 349.5M585.6 377.9L584.3 379.8M611.3 372.5L611.1 374.8M635 358.5L636 357.3M592.9 388.4L592.2 390.5M631.7 371.9L633.5 373.1M588.2 357L587.1 356.5M624.5 364.7L625.7 364M621 333.4L620.7 332.2M600.4 352.3L601.5 350.9M607.6 376.2L606.7 377.3M621.5 366.7L622.8 366.3M636.8 362.2L638.3 360M601.4 334.9L599.6 334.2M624.2 339.9L624.2 338.6M606.7 402.9L605.6 405.2M636.2 376.6L637.6 376.2M624.2 350.6L624.6 349.5M579.1 341.2L576.8 340.5M621.8 351L624.2 350.8M615.9 351.6L617.6 350.5M623.4 351.7L624.9 350.7M614.6 399.3L614 401.2M603 340.9L603.3 338.4M609.6 338L609 336M606.2 368.3L604.9 368.4M627.3 369.2L629.2 370.5M579.1 370.9L577.7 369.2M621.5 352.2L623.4 352M590 351.7L588.9 350.3M618.8 388.4L620.6 389.6M629.1 395.9L628.9 397.2M575.7 356.9L574.5 356.1M605.8 354L604.5 353.1M595.5 377.7L595.3 379.1M595.6 397.7L595.9 400.3M633.3 359.7L634.4 357.8M628.6 369.7L629.5 368.9M634.1 378.2L634.4 379.6M586.8 389.9L585.4 389.8M631.7 379.3L633.5 379.3M614.6 332.3L616.6 330.6M574.5 380.1L573.4 382.7M608.2 362.3L607.2 361.2M628.6 375L630.2 375.7M624.2 359.7L626.5 360.6M584.4 366.3L582.1 365M628.7 386.4L629 387.8M590.9 360.4L588.8 361M627.6 357.1L628.5 356M635.1 344.5L636.1 342.9M584.7 358L583 357.9M610.9 338.4L611 337M608.3 340.5L606.8 338.8M618.4 403.1L619.5 404.3M624.6 389.7L624.5 391.5M578.7 349.4L577.9 346.8M588.5 378.1L586.3 377.2M583 388L582.3 389M631.1 364.8L633.5 366M639.7 366.2L641.2 368.5M602.3 376.8L601.7 378.5M642.1 376.5L643.3 375.7M638.6 357.6L639.3 355.5M619.2 361.7L621.3 362.7M614.8 331.8L616 330.3M611.1 380.2L610.8 381.5M605.6 397.1L603.9 398.3M641.8 372.8L642.7 371.9M638.2 348.1L640.2 348.6M615.8 367.2L616.8 365.6M581.3 396.2L582.1 398.7M592.2 354.1L590.6 353.3M598.3 335L598.1 332.3M580.1 374.1L577.7 374.4M578.5 371.2L577 370.9M616.8 403.9L618.5 405.4M594.4 342.9L592.5 342.1M607.8 405.3L606.9 407.5M624.3 341.9L625.5 339.9M598 339.9L598.8 338.4M607.9 340.5L607 338.7M572.5 360L571.3 358.3M584 344.5L584.2 342.3M610.3 388.1L610.3 389.5M620.6 363.7L623.1 363.3M610.8 333.5L610.8 331.6M614.7 390.1L616.2 390.5M574.1 384.7L573.9 386.6M599.9 405.2L599 407.4M611.1 362.3L612.3 361.7M602.7 345.4L604 343.7M618.3 369.4L620.7 369.2M601.8 345.2L602.4 342.8M600.7 360.1L598.8 358.3M627 357.5L628.5 356.6M622.1 380.7L622.6 383.1M598.7 396.9L597.2 398.6M640.2 385.3L642.4 386M626.8 379.1L629.3 379.7M630.2 350.4L632 350.8M624.1 384.8L625.5 384.3M634 343.1L633.8 341.8M605.3 350.3L605.2 348.8M609.8 383.2L610 385.5M619.4 366.8L621.5 366.7M605.5 386.3L606.5 387M627.3 384.4L629.3 386.2M637 366.3L639 366.6M616.4 376.6L616.5 378.9M572.4 364.8L570.2 364.3M595.1 364.9L593.5 366.3M611.3 338.7L613.2 338M640.1 349.8L641.2 348.4M624.8 372.2L626.8 372.4M635.7 355.6L637.6 356.5M628.7 354.9L629.7 354M609.6 386.9L610.6 388.2M588.4 361.8L586.5 361.4M621.2 356.5L623.3 356.6M584 377L581.8 378.5M589.6 340.5L589.2 338.3M598.3 366.4L596.8 365M596.6 345.3L594.7 344.1M584 356.8L583.2 354.7M580.5 341.8L578.7 341.2M600.6 372.6L599.3 373.8M569.6 377.1L567.8 378.7M581.2 392.5L578.9 392.8M624.1 394.1L625.5 394.7M585.3 344.2L583.7 342.8M635.4 382.2L636.6 382M600.2 387.6L600.2 390.3M602.3 342.1L601.2 340.4M629.3 390.9L630.8 391.4M595.8 360.5L594.2 358.8M607.2 382.1L607.1 383.4M610.2 387.2L611.4 387.9M601.5 402L600.1 404M620.1 363.8L622 364.9M595.1 388.6L594.2 390.9M634.6 392.7L636.7 392.2M575.8 382L574.4 382.7M592.4 395.7L590.9 396M607.9 367.3L609.5 366.6M588 348.4L585.4 347.5M615.6 405.4L617.6 406.6M621.1 393.3L622.2 395.3M605.3 382.1L605.3 383.5M619.6 348.9L618.7 346.4M612.2 363.4L614.1 363M605.4 377L604.6 379M606.7 405.9L606.7 408.4M613.8 394.6L615.5 394.9M626.8 394.8L628.7 395.8M608.4 355.7L607.2 353.4M607.8 377.3L608.3 379.4M626.3 371.4L628.8 371.1M572.2 385.3L572.1 387M613 368.3L615.3 368.5M644.2 364.1L645.9 362M622.8 333.5L625.1 333.4M584.9 398.1L583.8 398.8M606.5 365.7L606.4 364.3M636.4 372.4L637.7 374.9M581.8 392.5L581.8 393.9M616.4 339.6L615.1 337.1M602.4 347.6L600.2 346.4M622.7 360L623.8 360.8M588.8 371.3L587.2 370.4M623.9 371L625.4 373.2M574.5 381.1L573 381.9M588.4 364.4L586.7 363.6M579.1 386.7L578.7 388.8M578.2 357.2L576.2 356.7M581.5 350.3L578.8 350.6M634.1 387.7L636.4 388.3M618.5 361.4L620.9 360.8M620.2 378.1L621.9 379.9M612 362.5L613.5 362.3M621.3 357.6L622 356.1M644.1 369.6L645.3 370.6M593.6 380.1L591.1 379.5M583.5 342.1L583.1 340.9M604.1 353.2L603 351.1M595 357.2L593 357.3M617 342.6L617.9 340.3M613.9 346.6L613.9 344.9M630.7 367.2L631.7 365.2M626.3 335.6L625.4 333.9M588.9 365.1L586.5 365.9M623.2 350.4L623.3 348.6M617.7 336.6L619.1 335.6M589.2 375.9L588 378.4M592.1 362.8L590.9 362.9M598.2 346.9L598.2 344.3M635.4 378.5L637.4 378.7M580.2 356.3L578.5 356.3M612.7 388.6L613.8 389.3M622.8 333.9L621.9 332.6M596.8 351.3L595.2 350.2M570.4 362.8L568.6 364.2M577.2 360L576.9 358.6M595.3 378.7L594.2 380M576.9 363L575.8 362.1M632.5 359.2L633.4 358.3M598.3 379.2L596 379.2M638.2 380.6L639.5 382.1M624.8 400.2L626.1 400.4M585.7 364.1L582.9 364.4M616.4 379.9L618.8 379.3M591.1 389.4L590.3 390.5M592.8 340.5L594.3 338.3M616.4 360.5L617.5 359.1M596 363.6L595.7 362.2M591.2 343.2L591 341.9M594.4 352.9L593 351.8M586.9 384.2L585.2 384.5M612 397.3L612.3 398.9M612.8 340.2L613.9 339.3M601.6 376.5L600.4 377.5M571 382.8L569.1 381.4M591.3 385.4L591.8 386.9M600.2 346.8L598.9 345M602.9 367.9L601.6 366.2M577.4 366.9L576.6 368.2M596.6 342.7L596.8 341.3M605 339.6L606.5 338.2M600.8 374.2L599 375.9M602.4 382.9L600.2 383.9M609 364.8L610.8 362.7M586.6 378.2L585.1 380.3M593.2 358.8L592.4 357.7M602.9 331.4L601.5 329.2M604.8 353.7L606 352.3M612.8 402.1L611 404.2M630.7 363.2L632.6 361.4M613.7 341.5L614.5 340.4M602 401.8L602.6 403.7M604.7 383.6L603.5 385.1M574.9 346.2L575.1 344.3M614.3 382.3L616.7 382.5M590.4 400.9L589 401.4M589.2 379.5L588.8 381.1M624.9 377.7L626.8 377.7M594 371.6L592.9 373.3M607.2 368.5L609.3 367.4M638.6 381.4L638.8 382.7M616.3 365.7L618.5 365.3M590.6 344.5L589.5 342.1M594.1 387.2L591.4 387.2M593.8 388.6L594.4 389.7M628.4 388.5L630.1 388.4M602 375.9L600.9 377.5M626.7 367.5L629 366.5M602.6 399.4L603.7 400.9M584.1 371L582.5 370.6M575.9 375.5L573.8 375.4M580.2 343.9L577.9 343.2M595.7 389.1L595.4 390.3M601.8 389.7L600.3 390.5M631.4 385.8L633.9 385.8M623.5 373.8L624 375.9M639.2 356.2L641.5 356.4M626.5 393.4L628.2 395.3M603.7 381.9L603.4 384.1M607 405.7L607.2 406.9M630.4 387.9L632.3 389.7M595.7 359.4L594.5 358M578 349.2L575.6 348M579.2 387.4L579.1 388.6M625.1 345.4L627.1 344.1M585.3 396.2L583.7 396.7M589.9 345.9L589.3 343.3M626.4 343.3L628.4 341.4M604.7 376L602.4 377.2M611.9 392.1L614.4 393.4M606.5 389.5L607.2 391.5M644.6 367L646.7 367.3M590.4 396L589.6 397.6M571.1 380.9L570.7 382.8M623.6 368.1L625 369.6M581.5 394.3L581.4 396.1M573.7 353.3L573.5 350.7M610 352.4L611.7 351M617.1 391.8L616.7 393.6M615.8 399L617 400.5M644.2 371L646.1 371.2M597.6 383.2L595.8 383.7M595.4 397.6L594 397.9M605.2 337.4L606.6 336.3M624.5 382.5L626.5 381.8M607.5 333L609.6 331.4M592.1 385.1L590.6 387.2M634.5 370.9L636.2 372.4M622.4 342.3L621.6 340.7M600.4 345.6L600.9 343M613.8 398.9L615.8 399.9M604.6 341.6L602.7 340.6M622.5 336.1L624.6 335.5M634.6 381.4L636.3 380.3M632.4 354.5L633.4 352.8M573.4 365.1L570.6 364.7M640.3 385L640.3 387M600.8 394.5L599 396.5M626 382.2L627.9 382.6M581.7 344.8L580.6 342.4M600.8 349.9L601.4 348.6M624.8 373.1L626.3 374.8M613 367L614.4 365.9M627 338.5L627.1 337.2M604.9 388.3L605 389.7M597.8 389L598.8 391.6M631.7 348.9L633 347.9M612.1 389.5L611.4 391.9M618.3 382.5L619.9 384.5M612.5 361.5L614.5 361.1M624.5 335.7L625.7 334.3M597 336.2L595.3 335.8M597.2 389L595.4 391M575.2 389.9L574.7 391.1M588.2 358L586 356.5M579.1 382.1L579 384M616.4 350.9L617.9 350.1M635.6 372.8L637.7 374.5M637.2 348.5L637.9 346M635.5 371.9L637.7 370.9M604 392L604.4 393.8M574.3 380L572.3 378.9M632.8 367.5L634.9 366.3M592.3 390.2L593 391.9M630.1 398L631.7 399.3M626.7 381L628.8 381.4M584.5 345.2L582.3 345.5M623.4 363L624.7 362.7M581.9 379.1L580.4 380.5M582 341.8L581.3 340.3M603.7 339.4L602.1 337.4M586.1 396.2L586 397.6M626.6 346.3L627.8 345.5M592.4 371.8L589.8 372.3M590 371L588.7 370.4M605.3 353.7L603.7 352.6M607.6 399.8L606.2 402.2M623.4 390.5L624.1 392.5M588.9 339.3L588.8 337M607.7 340.1L605.7 338.7M568.6 360.3L567.2 359M604.3 395.3L605.4 397.4M569.9 364.7L568.6 363.8M613 355.9L613.1 354.4M605.8 360.4L606.7 359.5M580.9 373.3L579.8 372.4M631 342.3L631.1 339.5M588.5 360.3L587.3 358.2M614.1 339L612.5 336.8M587.4 349.6L586.2 347.7M633.9 354.5L635.3 355.4M618.9 360.7L620.9 359.7M622 380.7L623.4 380.9M609 331.2L610.6 329.9M585 343.1L584.5 341.9M595.9 376.1L595.9 377.7M631.1 388.8L632.1 390.9M635 373.3L636 374.2M604.1 342.3L601.9 341.1M625.8 374.9L628.1 373.4M587.5 389.2L585.2 389.9M624.4 347.6L627 347.3M620.4 394.3L622.6 394.8M625.6 342L627.3 341.9M602 382.3L602.8 384.4M641.9 362.6L642.5 360.9M611 401L612 401.8M586.7 376.8L586.5 378.6M641.3 368.8L642.5 368.4M579.8 361.2L578.1 359.2M610.4 371.2L611.2 373.2M593.6 346.1L591.7 344.6M592.1 345.9L589.9 345M607.2 395.8L605.7 397.9M617.8 366.2L619 365.4M590.1 388.1L588.8 388.3M585.4 339.8L583.8 338.6M629 381.9L631.7 381.3M578.1 367.1L576.6 368.3M622.2 366.8L623.2 368.2M593 380.2L591.3 379.7M599.3 345.6L599.3 344.4M586 366.3L584.2 367M614.7 368.2L615.6 367.1M612.7 396.2L615.2 397.1M635.5 373.8L636.7 375.2M595.6 380.3L592.9 380.4M572.9 368.4L570.6 370M608.3 394.5L609.4 395.6M620.1 345.6L620.7 344.4M624.6 352.2L624.9 351M610.4 338.4L610.3 336.7M625.5 376.5L627 378.1M597 346.3L597.5 344.6M587.9 382.4L586.8 384.7M626.5 385L627.4 387M601.3 337.2L602.1 335.9M604.1 358.4L604.6 357.1M588.3 386.5L587.2 388.1M585.1 350.3L583.9 348.6M620.7 394L620 396.6M617 388.3L618.2 388.7M631.5 387.5L631.6 388.7M578.5 344.5L578.3 342.9M571 363.6L569.7 361.1M581.8 367.5L580.5 365.2M612.3 403.7L613.9 405M629.1 383L629.3 384.3M593.2 349.3L592.1 348.6M592.4 351.8L590.5 351.5M628.2 357.8L629.8 357.8M597.7 363.9L596.7 362.7M587.6 376.1L586.1 377M584.8 398.3L584.6 399.6M643.2 359.7L645.4 360.2M639.6 364.3L641 364.9M609.8 363.9L611.8 363.5M633.1 380.2L635.1 381.3M634.2 365.8L635.9 366M603.3 342.8L601.7 341.8M573.8 351.7L571.8 352.3M627.2 387.4L629.7 388.4M616.2 403.9L618.1 404.4M591.9 363.9L589.3 364.2M612.1 400.8L612.8 402.1M615.9 360.2L616 358.8M578.5 355.9L576.8 356.5M632.1 356L632.4 354.7M632.2 361.1L634.6 361.4M631.3 357.6L632.4 356.6M610.9 363.3L613.4 363.8M643.5 367.6L645.4 367.1M621.9 375.8L623.7 375.8M614.3 392.9L614.9 394.1M620.5 369.6L622 369M602.5 341.8L601.3 340.9M605.2 405L603.4 406.6M597.1 349.2L597.9 348.1M607.3 347.8L609.2 346.6M633.6 376.4L635.9 376.7M592.5 398.8L593.8 400.9M611.3 363.2L612.3 360.7M619.7 340.5L621.4 339.2M585.7 382.6L584.6 383.7M575.2 386.5L574.1 388M608.4 399.6L608.6 402.2M614.3 340.9L615.5 340.6M588.3 388.3L588.7 389.7M603.3 401.2L603.5 402.8M595.6 376.8L595.6 378.7M580.5 343.8L578.8 341.7M586.8 356.9L585.9 355M622.9 357.6L625.4 358M600.3 351.1L598.8 349.5M578.3 355.9L577 354.6M620.7 361L623 360.9M628 338.7L628.8 337.5M584.2 376.2L582.2 375.9M573.8 372.1L572.1 370.9M636.6 374.8L637.4 375.7M615.8 352L617.3 351.7M583.2 349.9L580.8 349.5M628.4 362.3L629.7 360.1M625.8 395.2L627.2 395.2M618.6 351.8L620.6 350.2M625.7 369.4L626.6 368.3M621.8 353.1L622 351.7M600.3 377.7L600.2 379.7M587.1 372.9L585.8 373.2M592.2 357.6L591.9 355.9M581.6 357.7L580.5 355.9M576.3 357.6L574.7 357.9M603.9 332L604 330.5M615.3 402.8L616.2 405.1M621 352.1L620.6 350.9M598.3 378.8L597.4 380.6M620.7 346.1L619.7 344.3M582.8 369.2L580.9 367.7M644.7 366.1L647.3 365.4M630.1 374.8L631.4 373.5M584.7 398.1L582.7 398.9M621.5 387.6L624.2 387.8M605.8 398.5L606.6 400.2M600.8 367.2L599.4 367M605.7 391.1L604.8 392.8M621.8 399.1L623.8 400.9M583.1 398.5L582.8 401.1M590.4 400.5L587.6 400.9M608.2 385.8L607 387.4M597.9 335.5L597.1 333M609.8 374.4L609.1 375.6M623.4 377.2L624.9 377.8M638 381.7L639.8 383.7M589.2 380.5L587 379.4M635.3 349.5L637.2 348.8M601 375.4L600 377.7M633.5 365.7L636.1 366.4M605.3 340.1L606.4 338.3M628 388.9L627.6 390.8M597.4 373.5L594.7 373.4M587.8 364.1L585.9 363.9M610.3 382.8L610.7 384.5M590.2 342.4L589.1 340.9M576.3 369L575 369.7M600.8 357.3L600.8 355.4M593.9 391.5L592.4 391.6M584.4 354.6L582.6 352.7M608 339.8L606.6 337.6M605.8 375.7L605 376.9M617.4 338.4L619.5 337.4M625.4 365.4L626.1 363.3M622.1 391.1L623 393M595.1 340.3L592.9 339.4M597.8 399.8L598.5 401.9M582.4 386L581.2 386.5M626.4 352.9L626.6 350.3M593.2 373.8L592 373.3M631.7 384.4L632.5 386.6M573.5 358.1L571.8 357.1M609.9 382.6L609.4 384M586.7 357.7L586.7 355.9M592.8 387.8L591.6 389.4M612.8 387.2L615.4 387.9M573.1 378.8L572.7 380.6M624.9 399.5L625.8 400.3M621.3 373.4L623.7 373.2M574.8 360.8L573.4 362.1M587.3 361.7L585.8 362.1M630.9 355.2L632.8 354.2M576.5 378.4L574.3 378M613.7 367.2L615.6 367.5M589.4 395.8L588.4 397.4M604.1 375.8L603.3 377M610.2 376.6L611.6 378M621.5 357.8L622.8 358.4M628.6 354.1L629.2 352.9M597.8 349.6L596.1 348.3M612.6 384.2L612.2 386.3M609.3 336.7L608.5 334.8M581.7 358.9L579.6 358.5M594.9 343.1L594.5 340.6M639.5 385.1L641.8 384.4M626.2 391.4L626.6 393.6M588.4 392.6L587.6 394.8M570.4 373.2L569.4 374.3M583.3 379L581.9 379.6M620 400L619.3 401.2M614.7 383.9L614.8 385.1" fill="none" stroke="#f2f2f2" stroke-width="0.75" stroke-linecap="round"/>
<circle cx="1086" cy="305.5" r="39.5" fill="#7c7c7c"/>
<path d="M1067.7 300.3Q1065.8 299.9 1064 300.3M1095.9 306.3Q1097.5 306.7 1097.7 308.2M1047.8 312.7Q1046.2 311.2 1044.1 310.5M1076 294.2Q1076.9 292.5 1076.3 290.8M1115.4 318Q1117.1 319.4 1117.8 321.5M1090.6 300.4Q1092.6 299.8 1092.7 297.7M1115 289.8Q1116.7 288.1 1118.6 286.6M1113.3 279.5Q1112.3 277.9 1113.1 276.3M1050.7 320.5Q1048.9 320.7 1047 320.9M1071.6 325Q1069.3 325.4 1068.8 327.7M1115.1 291.6Q1117.4 293 1120.1 293.4M1096.1 293.4Q1098.2 293.9 1100.3 294M1094 337.5Q1093.6 339.7 1092 341.3M1092 297.7Q1092.9 298.8 1094.2 298.1M1100.6 325.8Q1102 327.9 1104.5 327.9M1079.8 300.1Q1078.3 301.1 1076.5 301.1M1122.3 301.1Q1125.1 300.1 1127.9 300.4M1077.2 299.2Q1076.2 299.9 1074.9 300.1M1102.9 330.8Q1105.4 330.2 1107.9 330.7M1116.4 282.4Q1117.7 280.8 1119 279.1M1060.2 287.8Q1059.5 285.3 1057 284.9M1060.8 317.1Q1059.2 317.7 1057.6 317M1047.8 300.4Q1046.3 300.3 1044.9 299.7M1115.5 309.2Q1118 308.7 1119.4 310.8M1055.8 312Q1054.2 311 1052.3 311.3M1119.2 310.2Q1121.8 309.5 1122.3 306.8M1067.2 310.8Q1065.7 311.3 1064.1 311M1071.2 321.5Q1070.1 322.7 1068.6 323.3M1119.8 311.3Q1122.2 311.4 1124.3 312.8M1092.1 288.1Q1091.6 286.9 1091.5 285.5M1112.1 325Q1113.6 326.4 1115.6 325.8M1101.9 285.1Q1102.3 283.4 1101.7 281.8M1051 316.6Q1050 317.8 1049.1 319.1M1091.9 289.5Q1092.8 288.3 1094.4 288.3M1064 278.2Q1062.8 276.4 1064 274.5M1091.7 285.2Q1091.1 283.7 1091 282.1M1064.7 319.1Q1062.8 320.1 1062 318.1M1113.6 279.6Q1115.1 281.6 1117.5 280.8M1092.6 342.5Q1091.1 344.7 1090.7 347.4M1079.2 332.8Q1080.7 334.2 1079.5 335.9M1079.1 334.6Q1077.2 334.4 1076.9 336.3M1114.8 290.5Q1117.1 291.8 1119.6 292.5M1085.9 301Q1085.4 299.8 1084.2 299.2M1061.8 320.1Q1059.7 319.7 1058 318.4M1098.6 290.5Q1099.5 288.6 1101.2 287.2M1069.1 301.8Q1069 300.1 1067.5 299.6M1098.9 270.4Q1100.4 270 1101.4 269M1120.5 316.7Q1122.2 316.4 1124 316M1061 309.8Q1059.3 310.6 1058.7 308.7M1095.8 315.3Q1098.2 316.1 1100.1 314.6M1074.6 305.3Q1073.4 306.3 1072 306.4M1059.2 289.3Q1057.5 289.4 1056.1 288.5M1073.1 300.8Q1071.1 300.6 1071.1 298.6M1074.5 317.3Q1073 318.7 1071.1 319.4M1061 281.1Q1059.4 280 1057.9 278.9M1057.3 321.2Q1055.4 322.1 1053.3 321.4M1076.4 278.6Q1074.5 278.3 1072.8 277.6M1119.7 291.3Q1122.4 290.3 1123.9 287.9M1066.5 310Q1065 311.6 1064.4 313.7M1095.7 270.1Q1097.3 268.2 1098.6 266.1M1075.3 298.9Q1073.8 298.8 1073.2 300.2M1092.9 310Q1094.4 308.4 1096.5 308.8M1089.3 300.5Q1089.3 298.6 1088.3 297M1120.1 295Q1122.4 293.2 1125.1 294.4M1051.9 303.1Q1051 301.6 1049.3 301.5M1121 319.6Q1123.2 320.7 1125.4 319.6M1094.2 322.9Q1095.3 324.6 1097.4 324.9M1069.5 323.6Q1068.9 325.2 1067.9 326.5M1074.7 305.5Q1074.7 303.8 1073.2 302.9M1080.3 290.9Q1080.7 289.1 1081 287.3M1069.1 284.3Q1068.1 282.6 1069.7 281.4M1115.2 288.6Q1117.3 288.3 1118.7 286.8M1084.2 322.2Q1085.6 323.4 1086.1 325.3M1079.2 288Q1080.6 287.1 1081 285.5M1101.2 285.6Q1101.8 283.8 1103.5 283.4M1080.1 306.3Q1079.2 307.1 1078 307.1M1089.4 283.6Q1087.9 281.7 1086.5 279.7M1056.4 311.5Q1054.4 310.1 1052.3 309.1M1081 278.9Q1082.7 277.8 1083.1 275.9M1048.6 313.3Q1046.8 314.1 1046.1 315.8M1117 297.3Q1118.9 297.2 1119.9 298.9M1093.6 323.8Q1092.2 325.9 1093.4 328.2M1099 290.7Q1100.2 289.4 1100.1 287.6M1095.5 311.8Q1096.3 313 1096.2 314.4M1072.6 279Q1070.8 279.2 1069.1 278.9M1092.7 331.8Q1093.3 334.3 1093.1 336.8M1107.1 325.1Q1109.5 324.4 1111.3 326.2M1116.9 285.6Q1116.8 282.8 1117.5 280.1M1087.6 271.3Q1087.1 268.9 1085.8 267M1082.6 340.3Q1080.5 342.2 1079.2 344.7M1107.6 324.2Q1108.5 325.8 1110.3 326.4M1056.6 292.5Q1054.4 292.7 1052.4 293.7M1098.7 295Q1100.4 295.8 1101.1 294.1M1078.8 318.3Q1077.2 319.1 1075.8 320.2M1055.7 313.7Q1055.4 315.8 1053.3 315.7M1086.9 272.5Q1086.8 270.1 1087.5 267.8M1071.1 319Q1069.8 318.8 1068.6 318.7M1088.3 286.2Q1087.7 284.8 1087.7 283.2M1089.9 277.1Q1088.2 274.9 1089 272.3M1102.4 317.4Q1104.6 317.6 1106.5 316.4M1092.3 321.1Q1092.5 323.3 1094.4 324.4M1057.7 287.1Q1056 288.4 1054 287.8M1060.2 293.7Q1058.5 293.2 1057.1 294.4M1088.2 299.1Q1089.9 298 1091.8 297.7M1060.9 291Q1059.5 288.8 1057.3 287.3M1099.6 289.1Q1101.3 288 1101.9 286M1086.2 303.6Q1087 302.4 1087.5 301.2M1095.2 330.3Q1095.6 331.6 1096 332.8M1056.6 316.3Q1053.7 315.6 1051.4 317.3M1089.8 291.6Q1090 290.4 1091 289.7M1102.6 314.4Q1104.8 315.1 1106.4 316.8M1073.6 271.3Q1071.3 269.9 1068.8 269.2M1078 268.8Q1079.6 267.3 1079.2 265.2M1110.3 276.7Q1111.6 274.6 1112.9 272.5M1098.4 308.9Q1098.8 307.3 1100.5 307.3M1077.4 279.4Q1077.4 277.5 1076.5 275.8M1065 310.3Q1063.1 310.7 1061.8 309.1M1079 269.2Q1078.2 267.4 1077.2 265.7M1090.9 335.2Q1092.2 336.6 1094 336.2M1071.7 309.2Q1071.7 310.9 1070.1 311.3M1098.2 327.1Q1099.6 326 1100.9 327.1M1111.4 315.5Q1112.7 314.1 1114.3 313.2M1117 315.8Q1119.1 314.5 1120.8 316.2M1093.4 343.1Q1095.8 343.1 1097.2 345.1M1068.5 330.8Q1068.1 332.3 1069.1 333.5M1090.8 285.6Q1090.6 283.3 1091.6 281.1M1084.1 324.9Q1083.1 326.6 1081.3 327.6M1081.1 294.6Q1080.7 292.3 1083 291.8M1091.7 309.2Q1092.5 307.6 1093.8 308.8M1111.6 287Q1112.2 284.4 1113 281.9M1116.4 288.2Q1117.9 288.2 1118.9 289.4M1114.7 295.5Q1116.3 294.2 1115.8 292.2M1075.8 313.9Q1073.7 314.8 1074 317.1M1085 289.2Q1086 287.4 1086.8 285.5M1061.6 333.9Q1060 335 1059.9 337M1082.7 332.3Q1083.7 334.3 1085.2 336M1061.1 327Q1059.5 327.5 1058.8 329.1M1080.2 306.7Q1078.2 307.3 1077.1 305.6M1096.5 289.7Q1099 289.3 1100 287M1106.9 289.7Q1108.5 289.1 1110.2 289.3M1077.6 311.7Q1076.6 311.1 1075.4 310.9M1097.3 311.8Q1099.3 311.8 1099.1 313.8M1076.6 293.5Q1075.3 292.9 1075.6 291.5M1093.2 343.2Q1092.4 345.3 1093.4 347.2M1093.3 276.1Q1092.8 274.3 1094.3 273.1M1091 295.7Q1092 294.2 1090.2 293.7M1099.6 294.7Q1098.7 293 1099.6 291.3M1059.4 281.9Q1059.2 279.2 1056.9 277.7M1067.7 291.7Q1067.1 290 1065.4 290.3M1097.9 277.9Q1097.3 275.9 1096.9 273.9M1115.4 321Q1117.6 320 1119.4 321.6M1083.3 276.6Q1083.1 274.5 1082.2 272.5M1075.3 320.1Q1073.8 320.1 1072.3 319.6M1088.3 316.6Q1089.5 318.4 1091.6 319M1122.3 302.4Q1125 303 1127.7 303.3M1109.9 297.4Q1112 298.7 1114 300M1057.4 324.4Q1054.8 323.7 1052.8 321.8M1101.1 340.1Q1103.6 340.1 1105.8 341.4M1068 283.9Q1065.8 284.9 1063.5 284.5M1071.6 326.7Q1069.9 328.3 1067.6 328.6M1082.2 317.4Q1083.1 318.7 1081.9 319.7M1075.6 273.1Q1078.3 271.9 1079.2 269M1098.6 325.7Q1100 326.8 1101.6 327.7M1067.7 327.7Q1066.1 328 1064.4 328M1098.9 271.1Q1099.7 269.3 1098.6 267.6M1088.7 308.4Q1090.4 308.8 1090.5 310.7M1088.5 313.9Q1086.6 314.8 1087.6 316.7M1120.3 301Q1119.5 298.9 1121.6 298M1072.5 327.3Q1074.5 328.5 1074.1 330.8M1086.4 327.3Q1086 329.1 1084.3 330M1078.6 309Q1076.7 308 1075.3 309.6M1086.6 340.6Q1087.7 342.9 1090.1 343.9M1099.6 281.2Q1099.7 279.2 1101.5 278.5M1082.8 301.5Q1083.1 299.7 1083.6 297.9M1114.7 291.7Q1116.8 292 1118.9 292.7M1099.4 330.2Q1100.9 332.4 1103.5 331.8M1061.8 321.2Q1059.9 322.1 1059.5 324.2M1111.4 298.9Q1112.3 297.5 1113.1 296M1100.8 285.4Q1103.3 285.2 1105.6 284.3M1079.9 302.4Q1078.3 302.2 1077.4 300.8M1113.9 288.2Q1113.8 285.9 1114.5 283.7M1108.2 288.4Q1110.5 288.3 1112.2 289.9M1101.7 339.5Q1103.8 341.1 1105 343.5M1105.3 299.2Q1106.7 299.9 1107.8 301.1M1100 320.7Q1102.7 320.1 1104.6 322M1091.8 323.3Q1093.2 324.6 1095.1 324.4M1061.7 279.3Q1061 277.9 1061.6 276.5M1120.7 321.6Q1122.7 320.7 1124.9 321.3M1113.6 313.9Q1115.7 312.1 1118.5 312.5M1102.2 338.9Q1100.5 340.5 1099.4 342.7M1099.9 310.4Q1101.4 310.9 1101.4 312.5M1111 280.5Q1110.5 277.8 1109.9 275.1M1104.9 320.5Q1107.4 320.9 1109.3 322.6M1094.6 316.7Q1096 318.1 1097.6 317M1089.9 315.6Q1087.4 316.5 1087.5 319.1M1074.2 320.8Q1072.5 320 1070.7 320.6M1107.6 308.4Q1109.9 308.9 1111.8 307.6M1057.3 312.1Q1055.4 312.2 1053.6 312.6M1096.9 339.4Q1096.1 342.2 1097.5 344.8M1102.1 301.7Q1103.6 301.7 1104.4 303M1102.6 311.2Q1101.7 313 1103.2 314.4M1099.2 306.7Q1099.1 309.2 1101.6 309.7M1054.1 300.4Q1053.1 299.3 1051.9 298.4M1101.7 326.1Q1102.4 327.6 1103.1 329.1M1076.1 327.2Q1074.3 329 1075.6 331.1M1110.4 276.8Q1112.5 278 1114.1 276.3M1100.5 319.7Q1102.3 320.7 1103.4 322.5M1079.7 336.2Q1077.9 336.9 1076 337.5M1106.1 285.4Q1108 285.8 1109.9 286.5M1113.8 318.4Q1115.9 319.9 1118.5 319.7M1091.8 298Q1092.2 295.9 1093.4 294.2M1068.8 300.1Q1069.2 298.1 1067.4 297M1064.8 330.6Q1064.6 332.7 1063.7 334.6M1072.2 286.1Q1071.5 283.9 1073 282.3M1073.4 318.8Q1073 320.6 1071.2 320.2M1081.5 327.1Q1081.9 329.4 1084.2 329.6M1083.7 277.1Q1086.2 276 1086.6 273.3M1075.3 281.9Q1073 281.5 1070.8 280.4M1106.8 288.4Q1108.3 287.4 1108 285.6M1112 320.8Q1112.8 318.6 1115.1 319.1M1100.4 338Q1101.9 339.3 1103.5 340.4M1068.3 287Q1066.4 285.8 1066.8 283.6M1072.1 269.5Q1070.3 268.1 1068.1 268.3M1121.5 321.2Q1123.1 319.6 1124.9 318.5M1103.1 272.8Q1103.5 270.8 1103.5 268.8M1096.9 340.5Q1097.3 342.1 1098.5 343.1M1091.8 303Q1092.8 301.2 1094.8 301.9M1067.6 309.2Q1065.7 308.7 1064.6 307.2M1065.6 272.7Q1064.2 271.5 1063.9 269.6M1110.8 332.9Q1112.6 334.4 1113.7 336.5M1114.9 287.2Q1117.4 286.8 1119.5 288.2M1077.3 309.4Q1075.6 309.5 1075.6 311.2M1094 289.2Q1095.5 290.3 1096.6 288.8M1091.8 329.4Q1092.9 330.1 1093.9 330.9M1100.4 286.1Q1101.6 285.5 1103 285.5M1096.7 327.4Q1097.7 328.7 1099.3 329M1103.4 320.1Q1105.2 320.5 1106.9 320.4M1080 287.1Q1078.6 285.7 1076.8 284.8M1086.1 289.2Q1086 287.4 1085.3 285.8M1057.1 316.5Q1055.4 318.5 1056 321.1M1062 292.5Q1059.6 291.9 1057.1 292.6M1093.6 288.8Q1095.2 290.2 1096.7 288.5M1097.7 329.9Q1096.9 331.6 1097.6 333.4M1109.2 324.1Q1111.1 325.7 1112.8 327.4M1104.7 283.8Q1106 282.3 1106.9 280.6M1096.3 339.4Q1098.5 340.4 1100.8 341.2M1102.7 292Q1104.3 293.9 1106.4 292.7M1085.6 269.8Q1085.4 268.3 1084.3 267.3M1066.2 332.5Q1065.7 334.7 1063.9 336M1055.9 293Q1054.4 292.7 1052.9 292.6M1082.5 283.7Q1080.6 283.4 1079.9 281.6M1063.9 294Q1062.7 294.5 1061.5 295M1068.5 304.9Q1067.5 305.7 1066.6 306.6M1111.4 277.9Q1111.8 275.6 1114.2 275.1M1077.9 324.4Q1076.4 323.2 1075.3 324.9M1061.4 316.3Q1060.7 319 1058.4 320.4M1056.6 303.5Q1054.4 303.1 1053.9 305.3M1082.4 271Q1083.9 270.4 1084.5 268.8M1091.2 338.9Q1092.4 341.4 1092.5 344.1M1103.3 334.8Q1103.5 336.6 1103.9 338.3M1102.3 288.2Q1104.3 288.3 1105.9 287.2M1094.5 281.5Q1094.4 279.5 1093.8 277.7M1109.3 312.5Q1110.7 310.8 1113 310.8M1052.1 304.5Q1051.4 301.9 1049.4 300.1M1108.9 311.9Q1110.4 314 1112.9 313.6M1095.6 320.2Q1094.7 322 1093.7 323.8M1105.8 332.5Q1106.7 334.7 1108.1 336.5M1096.2 317.4Q1098.2 318.8 1098 321.2M1088.9 307.1Q1089.5 308.3 1089.9 309.5M1056.2 280.5Q1053.5 281.6 1051.4 279.6M1079.4 285.9Q1078.4 285.2 1077.3 284.6M1108 301.5Q1108.7 299.4 1110.1 297.7M1053.1 317.3Q1051.2 318.2 1049.4 317.2M1094.1 280.6Q1093.8 279 1094.1 277.4M1081.2 316.6Q1080 317.8 1079.4 319.3M1106.7 308.8Q1107 306.9 1108.8 306.3M1083.2 334.8Q1081.5 336.1 1080.6 338.1M1052.9 301Q1051.1 302.4 1049.3 301.1M1051.2 305.5Q1049.3 307.4 1047.8 309.6M1057.5 317.1Q1057.5 319.9 1055.6 322.1M1109.6 305.4Q1110.8 304 1112.1 302.7M1103.3 296.6Q1104.2 295.9 1105.1 295.2M1085.3 302.9Q1085 300.6 1087.2 299.9M1075.2 335.7Q1075.3 337.5 1074.2 339M1076 295.4Q1074 297.1 1071.7 295.9M1099.7 341.2Q1102.1 342 1104.5 342.7M1051.8 303.7Q1050.6 302.7 1049 302.7M1113.1 298.9Q1114 297.7 1113.8 296.3M1052.9 323.2Q1050.7 323.6 1048.5 323.4M1064.6 289.6Q1062.8 289.6 1061.6 290.9M1066.5 308.8Q1064.9 309.5 1064 310.9M1118.4 296.5Q1119.8 295.5 1121.5 295.4M1086.6 314.9Q1087.2 316.7 1086.2 318.2M1099.6 315.1Q1101.2 314.2 1102.9 314.8M1052.3 291Q1050.2 292.3 1048.3 290.7M1086.2 272.1Q1084.9 270.1 1084.9 267.6M1088.5 323.6Q1089.5 325.2 1091.2 326.2M1112.4 325.7Q1113.5 327.5 1113.8 329.5M1060.8 316.8Q1059.5 318.2 1059.1 320M1114.4 288.7Q1116.2 286.7 1116.2 283.9M1118.7 301.3Q1121.1 300.1 1121.6 297.4M1074.7 297.9Q1075.9 296.5 1074.7 295M1051.9 320.2Q1050.3 321.4 1050.6 323.4M1075.8 328.7Q1075.9 331.3 1074.5 333.3M1091 303.8Q1093 304.1 1093 302.1M1103.8 316.1Q1104.9 317.4 1104.3 319M1090.9 342.9Q1090 344.8 1088.3 345.7M1068.5 300.7Q1067 300.1 1065.5 299.5M1097.1 287.4Q1099.3 288.2 1101.3 287.1M1086 315.9Q1085.5 317.7 1087.4 317.8M1117.8 286.4Q1119.2 285.6 1120.7 285.2M1093.6 300.3Q1095.5 299.7 1094.8 297.9M1101.4 297.3Q1101.6 295.1 1103.8 294.3M1056.3 327.5Q1054.7 329.3 1053.7 331.4M1099.9 319.2Q1099.6 320.9 1101.3 321.2M1097.1 325.5Q1098.5 325.9 1099.2 327.2M1062 321.4Q1061.1 322.8 1060.1 324.1M1054.2 318.6Q1051.9 319.4 1050.2 317.8M1095.3 292.3Q1096.1 291.1 1096.9 289.7M1060.6 330.8Q1061.1 333.2 1058.8 334.2M1057.5 309.3Q1055.6 309.6 1053.7 309.8M1098.9 335.9Q1097 336.4 1097 338.3M1090.6 289.8Q1090.4 288.6 1090 287.5M1106.2 276Q1108.7 274.2 1111.7 275.2M1104.8 320.4Q1104.7 322.4 1106 323.8M1120.8 305.3Q1123.1 306.4 1125.6 307.2M1094.6 298.5Q1095.6 297.3 1094.6 296.2M1075.2 287.9Q1073.7 287.2 1072.3 287.9M1078.4 305Q1078.4 303.6 1077.2 302.9M1061.5 282.5Q1059.4 280.6 1060.4 278M1069.4 301.6Q1069.2 300.2 1068.5 299M1094 294Q1095.2 292.8 1095.5 291.1M1084.1 291.2Q1084.5 289.1 1086.1 287.7M1095.6 321.7Q1095.4 323.4 1094.5 324.9M1077.1 278.8Q1076.6 277 1074.8 276.2M1076.2 338.4Q1077.2 341 1079.4 342.7M1061.2 322.5Q1059.1 322.5 1057.7 320.9M1078.7 315.4Q1076.6 315.3 1076.5 317.4M1055.6 313.7Q1053.5 313.1 1051.4 313.3M1058.8 301.5Q1056.4 302.2 1054.2 301M1075.7 338.5Q1074.4 339.2 1073.1 339.9M1079.8 280.3Q1077.8 280.2 1077.3 278.3M1060.1 292Q1059.4 293.7 1057.6 293.8M1049.4 316.1Q1047.5 315.9 1045.7 316.7M1069.3 274.6Q1067.3 274.6 1065.3 274.6M1088 297.5Q1088.2 296.2 1087.7 294.9M1056.2 306.2Q1054.4 305.1 1053.3 303.4M1076.6 302.3Q1075 302.7 1073.5 302.2M1089.1 306.3Q1090.6 306.7 1090.9 305.2M1088.1 335.1Q1088.6 337.7 1086.5 339.1M1090.5 339Q1089.6 340.5 1087.9 340.8M1098.6 290.7Q1100.3 289.3 1102.3 290.1M1078.4 281.1Q1076.4 279.4 1073.8 279.7M1074.1 269.8Q1073.1 267 1073.7 264.2M1101.4 320.6Q1103.7 319.4 1105.7 320.9M1059.3 325.9Q1057 324.9 1054.5 325M1120.6 315Q1122.4 314.3 1124.3 314M1109.2 283.5Q1111.8 283.5 1114.2 282.3M1062.7 304.4Q1060.7 303.5 1059.1 301.9M1068.5 290.2Q1066 291.5 1063.9 289.6M1054.7 308.3Q1053.3 309.8 1051.7 311.2M1114.6 280.1Q1117.6 279.8 1119.3 277.4M1093.4 291.5Q1095.8 291.5 1097.6 290M1092.6 329Q1091.7 330.5 1092.4 332M1099.5 279.2Q1101.1 277.7 1100.1 275.9M1063.1 327.5Q1061.3 328.3 1060 329.8M1079.8 332.8Q1077.2 332.7 1075.1 334.2M1093.1 324.8Q1092.2 326.9 1092.4 329.1M1082.7 287.8Q1082.7 286.2 1082.2 284.7M1070.5 284.5Q1069 282.1 1070.1 279.5M1113.8 295.6Q1115.8 296.7 1117.9 295.6M1087.8 298.8Q1088.1 297.2 1089.5 296.1M1107.7 327.3Q1107.7 329.4 1109.9 329.7M1051.5 311.4Q1049.8 310.6 1048 310M1095.8 293.3Q1097.3 291.4 1099.6 292.1M1121.2 308.2Q1123.5 307.2 1125.2 309.1M1105.2 289Q1107.1 289.2 1108.2 287.6M1104.6 291.5Q1106.6 291.5 1106.3 289.5M1085.8 315.9Q1085 316.8 1084.5 317.8M1055.5 286.1Q1053.3 284.6 1050.7 285M1065.3 284.3Q1064.2 282.1 1061.9 282.8M1124.4 305.9Q1126.4 305.6 1127.2 303.8M1094.5 320.8Q1092.8 322 1094.3 323.4M1107.2 289.8Q1108.6 290.9 1110.2 290M1090.4 330.2Q1092.3 331.2 1094.3 331.9M1096.7 286.9Q1095.1 285.3 1096.2 283.4M1103.3 290.2Q1103.8 288.6 1105.4 288.3M1080.6 336.3Q1078.7 336.1 1078.1 337.8M1099.5 277.9Q1098.6 276.3 1099.9 275M1116.5 310.5Q1119.1 309.9 1120.1 307.5M1104.8 274.7Q1107 273.1 1108.1 270.6M1060 318.6Q1060.7 320.1 1059.8 321.4M1105.2 323.8Q1104 325.5 1104.3 327.7M1091.5 341.9Q1090.3 344.5 1087.9 346.2M1090.3 292.4Q1092 291.3 1093.9 290.8M1108.8 325.4Q1110.6 326.4 1112.6 325.8M1096.5 300.4Q1095.8 298.3 1096.8 296.3M1100.6 273.4Q1102.8 273.7 1104.7 272.8M1096.5 287.2Q1096 285 1095 283M1095.1 302Q1095.3 300.7 1096.6 300.5M1084.7 311.8Q1083.2 313.1 1082.3 314.9M1101.8 273.1Q1102.9 271.3 1104.9 270.8M1071.3 301Q1069.6 302.2 1067.6 302.4M1057.6 297Q1055.9 296.8 1055 295.3M1093.4 337Q1093.4 339.7 1092.7 342.3M1057.2 280.3Q1058.3 278.3 1057.7 276M1096.9 335.8Q1097.6 337.8 1098.2 339.9M1112.7 288.4Q1115.2 287.4 1117.5 288.8M1063.2 282Q1062.5 280.5 1063.7 279.4M1059.2 333.2Q1057.2 334.3 1054.9 334.7M1062.1 295.7Q1062.8 293.6 1061.7 291.8M1080.9 284.6Q1082.1 282.5 1080.8 280.5M1096.8 303.2Q1098.1 303.2 1099.4 303.3M1087.4 317.6Q1085.4 318.4 1085.3 320.5M1098.2 315.4Q1099.5 316.7 1101.3 316.7M1084.3 284.3Q1085.4 282.8 1084.6 281.2M1077.1 299.7Q1076.1 299.9 1075 299.9M1064.6 287.2Q1062.7 285.4 1060.1 285.1M1101.3 306Q1103.2 306.7 1102.9 308.7M1080.9 289.9Q1079.9 288.6 1078.3 288.2M1072.8 286.5Q1074 284.6 1074.4 282.4M1074.7 334.2Q1073.1 335.7 1072 337.6M1086.3 278.2Q1086.2 275.5 1083.6 274.7M1085.9 312.9Q1084.5 312.5 1084 313.9M1112.9 318.1Q1113.2 319.8 1114.9 319.8M1105 295.6Q1106.4 295.9 1107.6 296.7M1086.7 290.3Q1085 290.4 1085 288.7M1086.7 341.6Q1087.3 343.6 1088.3 345.4M1109.7 297.3Q1111.9 297.1 1112.6 295M1094.8 322.6Q1093.2 323.8 1094.1 325.6M1061.3 330.8Q1059.6 331.8 1060.1 333.7M1071.8 327.2Q1070.8 328.9 1072.2 330.3M1072.7 300.8Q1071.4 299.8 1070 298.8M1094.8 328.5Q1093.8 330.6 1093.2 332.9M1102.7 295.3Q1103.5 294.1 1103.6 292.7M1054 289.9Q1051.9 292 1049 292.1M1108.8 303.8Q1111.3 303.8 1112.4 306.1M1056.9 326.6Q1055.8 329.3 1057.5 331.6M1077.8 307.9Q1076.4 307.7 1075.6 306.4M1053.9 317.9Q1052.7 315.4 1050.1 314.5M1097.1 336.3Q1097.1 338.5 1096.9 340.6M1076 333.1Q1077.2 335.3 1077.6 337.9M1098.5 303.6Q1100.3 302.9 1102.1 303.2M1078.5 318.6Q1076.8 317.8 1075.9 319.5M1103.2 292.5Q1102.4 290.6 1103.9 289.1M1071.1 303.4Q1069.6 304.5 1067.7 303.9M1076.5 325.1Q1075.3 325.6 1074 325.7M1053.6 289.7Q1050.9 291.2 1048 290.2M1100.4 307Q1102.4 306.3 1104.4 306.9M1092.2 285.6Q1091.9 284.3 1090.8 283.6M1074.6 303.5Q1072.6 303.6 1071.8 305.5M1082.2 331.5Q1082.6 334 1080.4 335.4M1072.4 318.9Q1070.9 319.5 1070.2 320.9M1102.3 294.4Q1102.1 292.4 1104 292.1M1089 319.1Q1088.2 320.4 1087.2 321.6M1123.4 297.5Q1125.2 297.7 1126.7 298.8M1084.6 333.2Q1085.8 334.4 1085.5 336.2M1059.1 285.1Q1057.6 283.7 1055.6 283M1117.9 310.1Q1119.6 311.3 1120.4 313.2M1087.6 267.4Q1087 266 1086.8 264.5M1067.7 323.8Q1068.7 325.7 1068.1 327.8M1052.5 299.4Q1050.1 300.3 1047.7 300.8M1083.9 316.6Q1084.1 318.6 1086 318.7M1064.2 274.6Q1062.2 275.2 1060.7 273.9M1070.6 287.3Q1068.9 287.9 1067 288M1100.7 277.4Q1100.5 275.1 1101.7 273.2M1068.6 285.8Q1066.7 286 1064.8 286.3M1086.1 322.2Q1085.9 324 1084.1 324.5M1065.4 302.7Q1063.8 303.4 1062.2 303M1067.9 305Q1066.7 304.4 1065.4 304.4M1107.4 302.6Q1107.9 304 1109.3 304.6M1103.5 320.2Q1102.7 322.6 1103.8 324.9M1116.8 301.2Q1119.1 301.7 1121.3 301.1M1108.3 277.1Q1108.9 275.5 1109.1 273.8M1067.9 329.4Q1065.4 329.1 1063.1 330M1076.4 278.6Q1073.8 278.4 1072.4 276.2M1059.9 279.2Q1058.4 278.4 1056.7 278.2M1077.3 280.4Q1074.9 279.8 1072.8 278.8M1084.1 279.7Q1083.8 277.8 1084.7 276.1M1112.1 310.7Q1113.9 308.8 1116.5 309.2M1092.6 296.2Q1093.4 294.7 1093.7 293.1M1072.2 335.5Q1070.4 335.3 1069.9 336.9M1070.7 290.1Q1068.6 289.8 1066.7 288.7M1073 332.8Q1071.2 334.6 1068.6 334.6M1117.7 293.5Q1119.8 293 1119.7 290.9M1112.2 333.4Q1113.4 336 1113.1 338.8M1075.9 338.4Q1074.3 339.8 1072.6 340.9M1078.1 294.2Q1076.4 293.1 1077.6 291.5M1085.3 317.2Q1083.1 316.8 1081.9 318.7M1108.6 330.6Q1110.2 333.1 1113 333.6M1102.5 270.4Q1105.3 269.8 1106.5 267.2M1111 310.8Q1112.1 309.9 1113.5 310.3M1081.3 335.1Q1082.2 336.2 1082.4 337.7M1062.4 290.3Q1061.6 289 1062.4 287.6M1095.8 300.9Q1097.7 301.6 1099.2 300.4M1087.6 304.4Q1088.2 303 1089.3 301.9M1075.2 337.4Q1074.8 339.2 1075.8 340.8M1100.8 327.3Q1102.6 328.2 1103.9 329.7M1102.6 280.5Q1104 278.5 1106.3 277.5M1119.9 292.3Q1120.8 290.6 1122.6 291.4M1108.8 280.4Q1110.8 279.8 1112.7 279M1075.2 297.8Q1075.7 296.6 1075.6 295.2M1064.9 276.4Q1063.9 274.8 1062 274.4M1113 279.4Q1115.2 277.9 1115.8 275.3M1086.8 281.6Q1085 280.5 1086.2 278.7M1086.5 272.3Q1085 272 1084.1 270.7M1084 287.8Q1082.8 286.4 1081.4 285.3M1100.1 287.3Q1101.5 285.9 1101.9 284.1M1095.7 328.3Q1094.4 330 1093.3 331.9M1065.7 287Q1064.4 286.5 1063 286.3M1116.1 327Q1114.3 328.8 1115.7 330.9M1081.2 339.4Q1081.1 342.4 1083.7 344M1055.8 287.8Q1054.4 285.5 1051.8 284.9M1077.5 340.1Q1075.1 341.5 1073 343.2M1087.4 309Q1086.2 310.4 1087.6 311.7M1076.2 275.8Q1074.8 274.3 1072.6 273.9M1116.5 283.9Q1118.7 282.6 1118.2 280M1096.6 310.5Q1098.2 309.5 1100.1 309.6M1101.3 276.5Q1102.8 276.5 1103.9 275.4M1075.8 272.2Q1077.3 270.2 1078.2 267.8M1051.1 295.5Q1048.8 295.3 1048.1 297.5M1063.7 309.5Q1062.7 307.6 1060.5 307.1M1059.3 304.2Q1059.2 306.1 1057.3 306.5M1057.8 300.8Q1057.2 303.2 1054.8 303.8M1109.9 309.5Q1111.1 311.1 1112.7 309.8M1097.2 284.9Q1098.8 283.8 1098.4 281.8M1065.7 303.6Q1063.7 302.1 1061.3 301.7M1077.5 307.9Q1075.8 307 1074.6 305.4M1084.3 319.4Q1082.5 319.6 1082.7 321.4M1078.5 286.8Q1078.7 285.4 1078.7 283.9M1082.3 336.2Q1080.4 338 1081.5 340.4M1095.6 323.9Q1096.5 325.6 1097.3 327.3M1097.1 341.1Q1098.6 342.8 1098.3 345.1M1060.9 313.2Q1058.1 313.1 1057.1 315.7M1093.6 343.1Q1096.1 345 1096.2 348.1M1096.7 310.1Q1097.2 311.7 1097.2 313.3M1095.1 297.4Q1096.4 299.2 1098.5 298.6M1075 332.8Q1076.6 334 1076.1 336M1108.6 312.4Q1111.1 311.8 1112.2 309.4M1065 333.7Q1063.1 335.1 1062.8 337.4M1064.6 303.8Q1062.3 303.9 1060.2 303M1084.2 306.8Q1083.2 306.1 1082 306.2M1084.1 319.6Q1083.8 320.7 1083.2 321.8M1063.2 324.8Q1060.9 325.9 1058.4 325.5M1087.2 271.5Q1088 269.4 1088.3 267.3M1073.8 274.3Q1072.5 272.3 1070.3 271.4M1107.1 289.4Q1108.2 287.8 1109 285.9M1098.2 333.2Q1098.2 334.7 1098.3 336.2M1077.2 280.8Q1077.5 278.2 1079.3 276.3M1049.4 312Q1047.7 311.1 1046.5 312.5M1082.8 323.9Q1083.8 325.1 1083.5 326.6M1065.5 301.2Q1063.3 300 1061.3 301.6M1059.3 332.1Q1056.8 332.3 1054.8 333.9M1094.7 328.5Q1094.8 330.7 1093.9 332.6M1115 318.5Q1115 321.5 1117.6 323M1081.2 293.2Q1081.9 292.1 1081.9 290.8M1089.4 322.1Q1090.4 323.7 1092.1 323.1M1094.7 276.9Q1096.4 277.6 1097.7 276.2M1064.1 275.8Q1062.6 275 1061.3 274M1084.4 329.2Q1084.3 331.4 1082.7 332.9M1069.8 305.6Q1068.3 304.4 1066.4 303.9M1087.8 268.6Q1088.1 266.1 1087.4 263.7M1097.3 325.3Q1098.2 327.3 1100.3 328.2M1065.2 299.9Q1063.8 301.3 1062.2 302.3M1107.9 279.3Q1106.2 277 1106.4 274.1M1124.1 302Q1124.8 299.9 1127 299.6M1087.6 268.3Q1089.6 266.7 1092 265.8M1064.8 332.4Q1063.6 334.1 1063.6 336.2M1065.6 297.4Q1063.7 296.4 1061.9 295.2M1062.2 296.9Q1059.8 297.5 1058 295.7M1102 309.4Q1104 309.9 1106.1 309.6M1114.6 293.2Q1116.5 292.9 1117.9 294.3M1089.7 333.9Q1090 335.3 1089.5 336.6M1085 338.6Q1087.3 339.7 1088.2 342.1M1057.9 281.4Q1057.9 279.2 1057.9 277M1104.5 312.6Q1106.1 313.7 1105.1 315.4M1049.4 296.8Q1047.1 295.1 1044.3 294.6M1081.9 324.9Q1081.6 327.1 1079.8 328.3M1066.5 304.4Q1064.8 305.8 1064 307.7M1072.7 298.2Q1071.6 297.6 1070.9 296.7M1052.7 315.2Q1051.3 313.3 1049.3 314.5M1056.2 294.1Q1055.9 296.5 1053.5 296.5M1097.4 328.7Q1099.4 328.6 1100.2 330.4M1065.2 305Q1062.9 305.3 1062.6 307.6M1117.8 296.1Q1117.9 293.7 1119.6 292M1048.3 306.5Q1045.5 306.4 1043.8 304.2M1090.6 294Q1091.2 292 1093.3 292.6M1087.9 299.7Q1089.3 299.1 1089.8 297.8M1121 307.1Q1122.7 309.6 1125.6 310.1M1051.9 319Q1050.2 318.3 1048.8 319.5M1059.8 323.3Q1060.1 324.9 1059.8 326.4M1049.2 312.2Q1047.3 311.8 1046.4 310.2M1081.6 323.9Q1080.7 325.4 1079.1 326M1055.6 316.1Q1054.1 314.1 1051.6 313.9M1065.9 321.2Q1063.1 321.9 1062.3 324.6M1056.7 306.7Q1055 308.5 1053.9 310.7M1098.4 327.3Q1100.2 328.6 1100.7 330.8M1066 304.1Q1064.7 305.4 1063.6 303.9M1080 282.4Q1078.6 281.7 1078.7 280.2M1087.5 288.3Q1085.8 286.7 1085.3 284.4M1102.4 307.5Q1104.1 308.5 1105.8 307.8M1055.3 297Q1053.8 299.3 1051.3 300.4M1094.7 322.3Q1095.8 323.9 1095.8 325.9M1105.7 306.9Q1108 306.2 1109.6 308M1086.2 286.4Q1088.2 285.9 1087.4 284M1078.9 273.3Q1077.2 271.2 1075.8 268.9M1116.9 302.1Q1118.9 302.1 1119.5 303.9M1099 317.7Q1099.1 319.4 1098.9 321.2M1062.3 306Q1060.3 306.6 1058.1 306.7M1106.6 275.6Q1108.9 274.2 1111.5 274.8M1099.6 284.2Q1099.2 282 1100.6 280.3M1068.2 336.1Q1069 338.9 1067.1 341.1M1083.1 307Q1082.5 307.8 1081.4 308.1M1111.4 282.6Q1114.1 281.8 1116.3 283.6M1063.7 313.1Q1063.9 315.3 1062.8 317.3M1070.5 274.7Q1068.9 273.9 1067.4 272.7M1103.2 306.7Q1104.5 305.8 1106 306.5M1084.4 270.9Q1084.8 269.4 1083.7 268.2M1102.2 317.3Q1103.7 319.1 1103.8 321.5M1107.9 286.8Q1108.6 284.9 1110.7 284.7M1091 301.4Q1092.2 301.9 1093.4 301.4M1085.7 288.4Q1085.2 286.5 1084.6 284.7M1075.9 300.8Q1074 301.1 1074.3 299.2M1082.4 285.6Q1084.5 285.3 1085.1 283.4M1081.3 338Q1081.3 340.5 1081.1 343M1081.1 278.2Q1079.6 277 1078.1 276M1075.6 278Q1074.1 276.9 1072.7 275.5M1088.9 293.3Q1090.4 292.5 1092 292.2M1063.3 312.4Q1061.2 312 1060.7 314.1M1091.4 328.5Q1091.8 329.8 1091.1 330.9M1098.3 279Q1099.8 277.6 1098.3 276.3M1082.3 307.6Q1080.9 308.9 1079 309.3M1081.8 324.2Q1080.6 325.6 1082 326.9M1083.2 277.7Q1083.1 275.2 1080.8 274.1M1104 300.4Q1106.4 300 1106.9 297.7M1110.1 294.4Q1112.4 294.3 1113 292.1M1114.6 315.4Q1116.2 314.1 1118.3 313.7M1089.7 296.9Q1089.3 294.9 1089.8 293M1071.2 313.2Q1069.1 312.5 1067 312.2M1066.7 302.1Q1065.8 304.1 1063.7 303.2M1090.8 303.3Q1092 303.9 1093.2 303.7M1089.7 298.6Q1090.7 297.1 1092.1 296M1096.3 282Q1095.1 280.6 1096.4 279.2M1079.5 342.3Q1081.9 343 1082.7 345.4M1089.7 280.3Q1090.2 278.1 1088.2 277.1M1110.6 278.8Q1110.1 276 1109.1 273.4M1101 304.2Q1101.2 301.5 1103.7 300.6M1075.3 307.3Q1073.7 306.2 1071.9 307.1M1084 292.8Q1083.3 290.8 1081.8 289.2M1107.8 329.4Q1108.5 331.3 1107.2 332.9M1091 280.7Q1091 278.8 1090.3 277.1M1100.3 318.6Q1101.7 320.2 1103.7 320.7M1076.1 290.5Q1075.5 288.4 1076.8 286.6M1094 304.8Q1094.9 306 1096.4 305.7M1065.7 283.8Q1063.6 283.1 1061.8 281.7M1075.1 327.1Q1073.6 328.9 1071.3 329.6M1085.9 316.2Q1086.4 318.2 1084.3 318.5M1053.2 319.9Q1052.7 322.3 1052.2 324.7M1104.2 274.6Q1106.6 273.4 1109.2 272.9M1050.9 306.6Q1049.4 305.7 1047.7 305.6M1092.8 297.4Q1093.9 295.7 1092.7 294.1M1107.8 277.5Q1109.9 277 1109.3 274.9M1100.2 289.3Q1101.2 287.9 1101.9 286.3M1091.4 277.2Q1092 275.8 1092.5 274.4M1093.3 296Q1093.5 294.5 1093.1 293.1M1104 291.5Q1105.6 291.2 1107.2 291.4M1052.6 303.2Q1050.9 302.4 1049.2 301.9M1110.2 287.8Q1110.9 285.3 1113 283.9M1088.4 326.4Q1087.8 327.8 1086.4 328.1M1079.4 279.6Q1079.2 278.2 1079.7 276.8M1106.6 331.4Q1109.2 330 1111.6 331.7M1090.2 315.7Q1089.9 317.1 1089.2 318.3M1108.2 287.4Q1107.7 285.9 1107.8 284.3M1107 328.7Q1109.5 328.9 1110.2 331.4M1106.8 313.9Q1108.2 314.7 1107.5 316.2M1089.8 335.8Q1088.2 337.5 1089.7 339.4M1068.3 329Q1067.5 330.9 1068.5 332.8M1076.9 273.8Q1075.9 271.3 1075.6 268.7M1113.7 297.5Q1115.2 299.1 1117.3 298.9M1076.7 338.5Q1077 340.9 1076.5 343.3M1063.5 300.2Q1061.3 300 1061.2 302.2M1092.8 287.3Q1091.8 286.1 1090.7 285M1106.5 297.9Q1108.4 297.9 1108.9 299.8M1096.4 269.6Q1095.4 267.6 1097.3 266.7M1073.2 275.8Q1071.7 274.5 1071.5 272.6M1065.3 317.2Q1063.8 318.1 1061.9 318.1M1076.2 289.8Q1077.5 288.9 1077.2 287.3M1089.6 336.6Q1092.2 337.2 1093.5 339.6M1097.3 312.7Q1099.3 313.7 1098.2 315.6M1065.5 303Q1064.2 301.8 1062.8 302.9M1081.2 337.7Q1083.1 338.9 1082 341M1081.4 335.6Q1080.7 338 1079.1 339.9M1072.2 321.1Q1071.7 322.3 1070.6 323.1M1102.7 319.5Q1103 321.5 1103.3 323.6M1084.5 295Q1084.2 293 1083 291.4M1086.2 286.4Q1087.5 285.1 1086.9 283.3M1099.9 323.1Q1101.8 322.2 1103.8 322.7M1100.8 310.1Q1100.8 311.9 1102.6 312.3M1101.3 272Q1101.2 269.2 1100.3 266.6M1116.1 285.9Q1118.2 285 1118.2 282.7M1103.1 317.8Q1104.5 316.5 1106.5 316.3M1123.9 308Q1126.3 307.9 1128.7 307.2M1065.1 276.7Q1066.7 274.2 1066.1 271.3M1061.7 323.5Q1060.7 325 1058.9 325.2M1060 316.1Q1057.9 315.7 1057.7 317.8M1063.7 308.3Q1061.6 308.4 1060.3 310M1055.9 282.7Q1055.9 280.7 1056.1 278.8M1108.1 300.6Q1109.6 299.8 1109.7 298.1M1103.5 313.1Q1105.2 313.2 1106.8 313.5M1075.2 320.9Q1074.9 322.2 1074.8 323.6M1092.6 322.9Q1091.8 324.9 1090.2 326.6M1109.2 321.8Q1111.6 322.2 1112.8 320.1M1075.5 308.6Q1074.6 307.9 1073.5 307.8M1086.5 285.5Q1088.7 284.5 1089.5 282.3M1079.7 295.9Q1078.2 295.1 1078.5 293.4M1062.3 318.1Q1061 320.3 1058.5 321.2M1108.1 334Q1108.9 335.9 1109 338M1104.1 325.5Q1106 324.9 1107.6 326.3M1073 272.1Q1071.7 269.8 1072.6 267.4M1089.5 307.4Q1088.3 309.1 1090.1 310.2M1069.3 320.2Q1067.4 321.2 1065.2 321.9M1069.3 326.9Q1067.8 329.2 1068.9 331.7M1102.5 325.3Q1101.5 327 1102.1 328.9M1108 317.7Q1107.5 319.6 1109.4 320.1M1077.2 318.9Q1077.5 320.4 1078.6 321.3M1094.9 313.2Q1096 313 1097 312.7M1086.3 287Q1088.3 285.9 1087.7 283.8M1072.4 341.4Q1071 343.6 1068.4 344.2M1119.7 313.1Q1121.6 315 1124 316.1M1068.4 278.1Q1067 277.3 1066.3 276M1094.3 285.4Q1096.4 284.1 1098.8 283.8M1116.3 284.4Q1114.8 282.4 1115.8 280.1M1075.7 309.4Q1074.4 309.8 1073.2 309.1M1059.9 298Q1059.5 300.1 1057.4 299.6M1108.1 303.8Q1109.9 302.7 1111.1 300.9M1098 271.4Q1097.7 269.2 1095.8 268.3M1105.2 280.7Q1104 278.6 1103.4 276.2M1056 288.3Q1053.6 289.3 1051.9 287.4M1112.5 278.6Q1114.9 278.3 1116.7 276.5M1087.1 331.3Q1085.3 333.4 1085.7 336.1M1103.8 335.4Q1105.1 336.6 1106.7 337.5M1059.1 280Q1057.1 279 1056.8 276.8M1106 303.3Q1106.9 305.1 1108.7 306M1104.3 308.2Q1104.3 306.7 1105.8 306.3M1051.8 287.5Q1050.5 289.2 1048.7 287.9M1089 308.9Q1090.3 308.6 1090.9 309.9M1107.3 327.8Q1109.7 327.1 1112 327.8M1079.3 335.7Q1079 337.2 1077.6 337.8M1076.4 340.5Q1076.5 342.6 1074.6 343.3M1061.5 312.2Q1061.2 314.1 1060.4 315.8M1087.2 282.2Q1088.2 280.6 1090 280M1087.8 271.3Q1087.5 269.1 1088.2 266.9M1056.7 289.8Q1054.9 288.5 1055.7 286.4M1054.9 286.9Q1054.8 284.3 1053.1 282.3M1101.5 287.9Q1102.3 286.1 1104.3 286M1087.5 317.5Q1087.9 318.9 1088.9 319.9M1050.8 290.7Q1050.2 289.2 1048.7 288.7M1090.9 277.4Q1090.6 275.3 1090.3 273.2M1054.4 319.4Q1052 318.5 1049.5 317.8M1078.4 278.9Q1079.2 276.1 1077.3 274M1075.5 280.1Q1073.3 279 1070.8 278.6M1092.3 305.9Q1093.2 307.4 1094.7 308.5M1087.1 330.3Q1086.8 332.7 1087.4 335M1088.2 313.4Q1089.5 315.1 1091.7 314.8M1052 321.4Q1051.6 323 1050 323.6M1068.5 320.2Q1066.4 321.4 1066.4 323.8M1095.9 283.6Q1096.7 282 1095.7 280.5M1096.4 310.8Q1096.7 312.4 1096.4 313.9M1112.5 283.8Q1112.9 281 1115.3 279.6M1054.5 324.4Q1054.5 326.4 1052.5 326.5M1104.3 321.6Q1106.1 323.5 1106.7 326M1056.8 288.4Q1055.1 286.7 1053.4 284.9M1105.2 335.4Q1106.5 337.3 1105.9 339.6M1103.7 299.5Q1105.4 299.5 1107.1 299.4M1061.9 278.8Q1059.5 277.1 1056.6 277.6M1077.3 272.1Q1079.1 270.5 1077.8 268.5M1103 333.7Q1104.1 335.8 1102.4 337.6M1091.6 341.7Q1092 343.2 1092.6 344.6M1098.5 279.8Q1101 280 1103.3 279.2M1108.9 296.2Q1110 295 1110.7 293.5M1064.5 295.7Q1063.7 297.8 1061.7 297M1087.6 331Q1087.5 332.9 1085.7 333.6M1097.4 336.5Q1097.6 338.9 1095.8 340.3M1118.6 304.9Q1120.6 304.2 1122.5 303.1M1123.9 302.5Q1125.7 301.3 1125.9 299.1M1060.8 304Q1059.3 305.2 1058.3 303.5M1056.7 328Q1054.5 328.9 1053.5 331.1M1117.9 324Q1118.7 325.1 1119.8 326M1051.1 310.3Q1048.5 310.8 1046.4 312.4M1050 295.9Q1047.6 296.3 1045.2 296.7M1086.9 306.5Q1088 308.3 1086.1 309.4M1087.4 271.7Q1084.6 271 1083 268.5M1079.4 278.5Q1078.9 276.9 1078.5 275.2M1115.6 296.4Q1117.4 298.6 1120.2 299.1M1069.5 326.8Q1067.1 327.5 1064.6 326.9M1066 333.7Q1065.5 336 1067.4 337.5M1097.2 279.3Q1099.1 277.8 1101.5 277.4M1118 324.4Q1119.6 324.9 1120.7 326M1100.1 271.6Q1102.3 271.5 1104.5 271.2M1070.2 307Q1070 305.1 1068.1 304.8M1092.9 285.1Q1090.9 283.3 1091.2 280.7M1076.1 300.6Q1074.9 299.2 1074.3 297.4M1095.4 337.1Q1097.2 337.9 1097.6 339.8M1087.8 313.3Q1088.6 314.9 1088.3 316.6M1071.2 332.1Q1069.6 331.8 1068.7 333.1M1053.5 287.8Q1050.7 286.6 1049.6 283.8M1074 304.9Q1072.6 304.1 1071.2 303.3M1061.2 311.8Q1060.3 310.7 1058.9 310.4M1092.5 295.6Q1092.1 293.7 1092.8 291.8M1055 303.7Q1054.1 302 1053.1 300.3M1085.9 333.1Q1085.2 335 1083.1 335.1M1082.6 288Q1084.9 287.6 1084.9 285.2M1099.9 293.4Q1101.1 291.9 1102.7 293M1063.9 317.9Q1062.5 319.8 1060.2 320.1M1076.3 322.6Q1076.3 324.3 1077 325.9M1099.3 320.9Q1098.5 322.4 1099.9 323.4M1090.4 335.8Q1093.3 335.1 1095 337.4M1052.9 298.4Q1052 296.8 1050.2 296.4M1069.4 294.9Q1068.3 293 1069.4 291.2M1069.9 316Q1067.8 316 1065.8 315.4M1067.8 329.2Q1065.6 329.8 1065.8 332M1076.3 327.2Q1076.3 329.2 1074.4 329.6M1098.1 282.5Q1097.7 280.7 1098.7 279.3M1082.3 335.6Q1083.4 337.8 1081.6 339.5M1095.5 285.5Q1093.8 283.7 1094.7 281.4M1061.9 318.3Q1060.8 319.6 1059.4 318.7M1107.6 293.3Q1109.6 292.3 1111.6 291M1120.2 323.7Q1121.5 325.2 1121.2 327.2M1061.4 319.4Q1059.7 317.5 1057.2 316.7M1088 324.7Q1089.3 326 1088.8 327.8M1084.5 323.1Q1085.5 324.1 1085.3 325.5M1105.8 273Q1108.8 272.1 1109.8 269.1M1097.3 309Q1099.1 310.4 1100.6 308.7M1084 299.4Q1085.2 298.5 1084.8 297M1116.3 325.6Q1116.8 327.7 1118.8 328.9M1078.1 292.6Q1077 292.9 1075.9 292.8M1065.1 315Q1064.1 317.3 1062.7 319.3M1068.7 326.9Q1067.2 325.6 1065.7 327.1M1098.1 293.5Q1098.5 291.5 1100.3 290.5M1092.4 340.2Q1090.2 341.7 1090.4 344.4M1098.4 268.7Q1096.2 266.8 1096.4 263.9M1117 289Q1118.4 287.9 1117.8 286.2M1076 284.7Q1076.7 282.4 1077.2 280.1M1116.4 286.5Q1118.2 287.9 1120.2 286.7M1106.6 290.8Q1106.6 288.4 1109 287.9M1097.4 300Q1099 298.9 1100.6 298M1053.1 300.6Q1051.4 301.3 1050.3 302.8M1100.4 300Q1102 298.6 1101.3 296.6M1106.4 331.9Q1108.7 331.7 1111 332.1M1094.6 314.2Q1095.7 314.9 1095.5 316.2M1085.5 343.3Q1085.2 345 1083.5 345.4M1085 296.9Q1086 295.1 1085.1 293.3M1111.8 326.3Q1112.5 327.8 1114.2 327.8M1062.7 311Q1060.9 309.2 1058.8 308.1M1102.9 288.1Q1104.4 287.9 1105.9 288M1123.8 301.7Q1126 302.5 1126.7 304.8M1096.2 340.9Q1095.2 342.9 1096.4 344.8M1069.1 322Q1066.9 320.4 1064.8 322M1095.1 315.4Q1094.5 317.4 1096.3 318.5M1111.4 313.3Q1112.7 314.6 1114.5 314.1M1109 279Q1107.7 277 1108.4 274.7M1108.8 336.6Q1110.4 338.7 1110.2 341.4M1107.5 326.1Q1108.9 324.4 1110.8 325.4M1074.8 282.2Q1075.5 280.7 1076.3 279.4M1073.1 335.2Q1072 337.1 1073.1 338.9M1088.7 282.2Q1087.2 281.3 1086.7 279.7M1096.2 321.1Q1097.4 322.9 1099.3 324M1070.4 341.1Q1070.4 342.9 1070.4 344.7M1090.5 292.6Q1090.8 291.4 1090.9 290.3M1094.9 329.5Q1095.2 332.1 1097.9 332.4M1084.6 335.8Q1086.6 336.1 1087.6 337.7M1061.9 313.4Q1059.9 313.5 1059.9 315.5M1079.9 268Q1082 267 1083.1 264.8M1072.5 283.4Q1073.9 281.5 1073.4 279.2M1068.9 330.8Q1066.8 332.3 1064.1 332.3M1101.9 306.2Q1102.5 304.8 1104.2 304.9M1079.5 320Q1081.5 321.7 1080.9 324.2M1089.9 303.4Q1090.8 301.8 1092.4 301.1M1090.4 306.6Q1091 307.4 1091.2 308.4M1073.7 289.8Q1071.4 289.2 1070.2 287.2M1114.4 301.9Q1116.8 300.3 1119.5 301.6M1057.7 328.7Q1055.2 328.5 1053.3 326.8M1103 335.2Q1105 336.9 1105.1 339.5M1091.1 297.6Q1090.8 295.8 1090.6 294M1097 292.3Q1098.7 291.4 1098.1 289.6M1067.1 339.3Q1065.5 338.4 1063.9 339.4M1087.1 335.3Q1087 337.1 1088 338.7M1063.2 316.5Q1061.6 318 1059.8 316.8M1104.2 285Q1105.8 283.6 1104.7 281.8M1101.2 301.5Q1102.7 301.2 1103.3 299.8M1050 313.1Q1049.8 315.4 1047.6 315.2M1084.1 272.8Q1083.9 270.7 1082.3 269.3M1072.3 276Q1074.4 275.2 1073.9 273M1073 333.5Q1071.9 334.9 1070.4 335.8M1098.3 272.3Q1100.7 270.9 1101.1 268.1M1107.6 316.6Q1108 317.9 1108 319.2M1073.9 302.6Q1073.2 301.7 1072.4 300.9M1074 283.8Q1073.4 281.4 1075.5 280M1063.4 310.6Q1062.5 312.7 1060.8 314.4M1091.3 328.3Q1092.9 330.3 1092 332.6" fill="none" stroke="#2e2e2e" stroke-width="0.8" stroke-linecap="round"/>
<path d="M1078.1 331.5L1079.2 333M1062.8 285.3L1063.4 283M1080.7 268.8L1081.4 266.2M1087.1 269.7L1086.5 268.2M1121.4 311.2L1123.9 311M1065.2 305.8L1063.1 306.5M1118.6 318.3L1121.2 318.8M1110.5 301.9L1112.1 300.7M1096.8 293.7L1098.5 291.8M1083.4 337.3L1082.4 338.2M1093.9 269.3L1093.2 267.3M1063.7 310L1062.3 308.6M1114.2 313.7L1115.7 312.4M1108.9 295.4L1111.4 294.7M1112.5 293.3L1113.3 292.4M1067.3 277.9L1065.8 277.4M1107.3 289.9L1109.1 289.4M1069.2 329.3L1068.6 330.7M1117.7 310.3L1119.1 310.6M1086.9 291L1088.4 289.7M1076.4 269L1076 266.8M1088.9 307.5L1089.6 309.2M1084.2 343.3L1084.9 344.7M1050.4 294.9L1049.1 295.2M1115.3 308.4L1116.2 309.5M1107.9 280L1108.4 277.9M1055.3 314.2L1052.9 315.4M1068.2 297.7L1066.5 299M1055.9 328.6L1054.2 328.9M1067.5 320.2L1065.8 319.9M1078.2 303.1L1076.2 302.1M1078.4 330.7L1077.3 331.9M1094.6 323.2L1096.1 323.4M1060.8 324.6L1059.6 325.7M1078.4 287.5L1079.2 286.3M1117 297.6L1119.6 297.2M1089.5 289.5L1088.6 288.3M1098 305.7L1099.4 306.7M1083.5 282.4L1081.9 280.4M1102.4 303L1103.9 304.2M1106.9 274.7L1108.6 274.7M1078 329L1077.6 331M1069.1 336.9L1068.2 338.3M1110.4 313.6L1112.4 314.5M1106.1 283.7L1107.2 282.6M1055.3 327.1L1054.7 329M1082.6 337.6L1083.2 338.7M1065.6 325.8L1064.2 326M1103.7 329.9L1105 330.2M1082.4 274.8L1081.7 272.3M1108.9 279.7L1110.6 278.8M1093.1 281.7L1092.8 280.1M1121.3 290.3L1123.8 290.1M1087.3 296.7L1087.9 295.1M1077 287.3L1078.1 285.1M1079.1 301.4L1077.5 301.2M1078 301.2L1076.3 301.2M1107.7 289.1L1108.6 287.2M1086.7 274.5L1087.8 273.4M1117.9 321.8L1120.1 322.7M1065 335.4L1063.1 336.6M1086 297.1L1087 296.1M1066.1 314.4L1063.8 313M1073 315.6L1072.8 316.9M1102.4 298.5L1103.7 299.2M1066.2 282.4L1064.4 280.7M1084.4 316.9L1086.1 319M1053.2 316L1052.3 318.4M1109.1 280.6L1111.4 280.9M1094.6 279.9L1093.4 277.7M1066.2 313.4L1065.1 312.9M1094.7 284.9L1095.2 282.3M1090.5 337.8L1090.7 339.5M1078.7 275L1078.4 273.8M1101.4 337.7L1101.8 340.2M1110.8 313.6L1112 314.1M1090.2 320.9L1092 322.1M1054.9 317.5L1053.8 316.7M1076.3 325.3L1075.1 327.3M1067.9 314.6L1066.6 315.8M1085.9 296.4L1084.2 295.4M1070.1 314.5L1067.6 314.6M1060.6 280.1L1059.5 279.7M1097.1 295.7L1098.1 294.1M1074.2 325.1L1074.5 326.8M1060.6 312.7L1060.1 314M1079.9 306.7L1077.3 306.4M1066.8 290.5L1066.3 288.5M1102.8 328.3L1103.4 330.5M1074.8 287.5L1073.5 287M1064.8 299.1L1063.2 299M1074.3 269.6L1073.3 268.6M1114.7 290.2L1117 290.2M1073.2 269.9L1071.4 269.1M1064.6 294.1L1062.5 294.7M1081.5 337.5L1080.8 339.1M1055 311.8L1053.7 310.4M1093.2 308.8L1094.1 309.8M1052.4 306.6L1050.6 307.2M1051.7 296.8L1049.8 296.7M1057.9 313.7L1056 313.3M1101 319.6L1102.1 320.5M1093.9 320.6L1095.8 322.5M1081.4 332.6L1081.2 334.6M1089.2 297.3L1090.2 294.7M1087.2 336.1L1086 336.8M1095.7 317.9L1097 318.1M1108.7 334.1L1109.6 335.2M1104.1 317.1L1105.7 317.6M1118.7 303.5L1120.2 302.2M1116.1 303L1117.3 301.1M1061.5 305.2L1059.5 304.2M1095.4 283.5L1096.2 282.2M1091.3 321.6L1090.4 324M1073 297.1L1071.8 297.6M1056.2 294.5L1054.4 294.1M1067.4 323.6L1066.6 326.2M1077.4 300L1075.6 300.3M1090.9 311.7L1091.5 312.9M1067.1 289.5L1066.2 288.4M1074.5 327.7L1072.1 328.7M1092.4 276.6L1092.4 273.8M1111.2 284.8L1111.5 282.5M1075.3 275.9L1076.1 274.5M1073.7 300.5L1071 301.2M1049.5 309.9L1047.6 308.8M1051.1 293.9L1048.4 294.8M1101 318.5L1101.6 320.7M1092.5 340.7L1090.8 342.6M1116.7 308.5L1118.1 309.7M1079.4 318.1L1077.7 318.3M1107.4 290.3L1109.1 290M1064.8 298.9L1062.6 298M1098.7 333.7L1097.8 336M1102.7 327.1L1104.4 328.9M1077.4 323.6L1075.6 325.2M1058.2 327L1056.7 327.2M1082.8 297.5L1080.7 296M1074.2 324L1073 324.3M1068 338.9L1068.8 340.4M1085.8 319.1L1085.8 321.2M1102.8 305.3L1103.7 304.3M1105.9 305.5L1106.9 306.6M1082.4 302.2L1081.2 301.6M1096.7 329.6L1098.6 330.1M1075.4 321L1073.8 323.3M1058.7 293L1056.8 293M1097.3 289.2L1099.9 289.2M1081.2 281.3L1079.7 279.3M1103.5 338.7L1106.2 339.2M1092.4 277.1L1094.5 275.7M1086 317.9L1086.7 320.4M1092.6 337.8L1094.7 339.1M1121.7 310.6L1123 310.3M1111.1 308.2L1112.6 308M1094.9 303.8L1096.5 301.6M1067.2 332.4L1066.6 334.1M1068 296.4L1065.9 297.1M1096.2 330.5L1095.3 331.9M1080.2 275.5L1080.9 273.5M1062.8 317.4L1061.5 317.3M1101.3 281L1102.2 279.2M1092.7 274.2L1092.3 272.1M1060.1 282.3L1057.3 282.1M1072.7 287.3L1070.4 287.4M1109.9 289.7L1110.4 288.6M1066 315L1064.3 315.1M1106.2 278.4L1105.1 275.8M1085.4 315.3L1087.3 316.9M1081.7 342.8L1081 345.5M1084.1 339.2L1084.2 341.9M1050.2 309.2L1048.9 309.1M1094.4 282.8L1093.5 281.6M1114.7 308.9L1116.7 307.5M1069.4 305.9L1068.2 304.3M1115.3 318.3L1117.1 319.2M1059.5 308.9L1058.4 310.9M1079.4 283.7L1077.5 281.9M1099 282.8L1099.9 281.4M1081.1 330.4L1080.7 332.2M1105.9 305.3L1107 307M1098.5 279.4L1099.8 278M1094.6 279.6L1093.5 278.1M1075.8 301.2L1074.3 302.3M1078.5 317.3L1076.9 317.2M1093.7 283.3L1093.3 281.8M1067.2 289.2L1065.5 289M1084.9 315L1085.2 317.2M1065.4 302L1064.2 300.9M1087.8 272.9L1089.7 271.6M1066.1 282.1L1063.9 280.6M1075.2 318.3L1075.4 320.3M1063.2 276.9L1060.6 277.3M1089.1 314L1089.6 315.2M1072.6 273.9L1073.9 272.1M1089.1 330.5L1090.2 332.4M1099.6 337.9L1100.3 340M1081.3 287.6L1080.1 286.3M1102.6 300.2L1103 298.5M1055.9 304.3L1054.2 305.3M1060.7 297.9L1059.2 297.7M1070.7 333.8L1069.1 334.4M1086.6 341.3L1085.7 344M1093.2 285.7L1093.7 284.6M1065 326.3L1065.4 328.8M1115.7 293.1L1116.3 291.5M1069.6 329.6L1070 331.4M1060.7 306.6L1058.9 307M1075.1 280.5L1073.5 279.4M1092.4 270.7L1094.4 268.9M1100 282.6L1101.7 281.9M1052.5 308.7L1051 308.6M1069.7 334.2L1068.9 336.1M1119.2 300.6L1121 302M1065.9 300L1064.4 299.1M1072.3 339.5L1071.1 342M1070.3 313.8L1067.9 312.6M1077.9 281.1L1077.7 279.8M1112.1 279.5L1113.6 279.7M1098.1 279.8L1100.5 278.9M1082.4 297.4L1081.4 296.4M1110 318.6L1111.9 318.8M1075.2 327.3L1074.4 329.2M1087.7 320.4L1088.3 321.5M1108.8 289.5L1109.8 287.1M1063.8 312.7L1061.9 312.1M1109.7 292.3L1110 290.4M1064.9 306L1062.6 305.8M1104.8 296.3L1106.9 297.6M1094.5 276.7L1093.1 275.1M1074.2 328.4L1072.8 329.6M1114.7 328L1116.6 328.2M1096.6 315.1L1097.3 316.6M1081.9 292.1L1082.9 290.2M1079.8 335.3L1077.6 336.4M1052.5 297.1L1050.6 297.8M1068.9 288.8L1067.4 288.8M1104.5 327.4L1106.5 327.6M1097.3 282.4L1099.4 282.3M1058.5 319.6L1056.8 320.1M1050.1 303.3L1048.5 304.2M1120.7 312.4L1121.4 314.7M1080.8 332.3L1081.5 334M1063.6 281.5L1062.4 280.2M1101.5 325L1103.4 326.4M1090.8 303.8L1091.1 301.9M1065.7 300.8L1063.6 301.4M1092.3 300.8L1094.8 301.5M1107 329.9L1107.9 331.8M1052.6 313.7L1051 313.1M1089.8 311.1L1089 312.6M1093.2 317.7L1092.1 319.9M1110.1 313.7L1110.7 314.7M1056.4 320.8L1055.5 321.6M1108.1 283.3L1109.7 281.3M1078.5 320.2L1078 321.7M1047.9 301.8L1046.7 303.7M1077.1 317.3L1075.4 317.7M1098.8 290.3L1099.3 287.6M1092.4 308.4L1092.5 310.6M1093.7 277.9L1093.3 275.3M1099.3 290.1L1101 288M1097.6 269.6L1096.7 267.8M1051.6 318.4L1050.5 320M1098.4 312L1099.4 312.8M1076.1 327.9L1074.5 328.8M1069.3 286.1L1067.4 285.9M1072.2 315.4L1069.5 315.3M1097.4 269.7L1096.2 268.3M1069.4 321.8L1067.9 323.5M1083.6 304L1081.4 304.9M1067.6 273.2L1067.8 270.4M1077.1 341.2L1076.2 343M1061.3 318.2L1061.3 319.9M1090.9 301.2L1092.2 301.1M1108.5 284.4L1110.5 283.4M1065.5 322.8L1064.9 323.9M1091.3 326.1L1092 327.8M1107.3 304.5L1108.8 303.4M1063 331.7L1063.5 333.7M1092.5 283.9L1092.3 282.2M1066.8 285.8L1065.5 285.8M1086 339.2L1083.9 340.6M1110.7 318.9L1111.9 318.8M1058.7 294.5L1057.6 293.2M1111.9 279.6L1113.8 278.9M1048.9 304.3L1047.7 306.6M1078.4 314.1L1077.3 316.4M1057.5 296.7L1057 294.2M1057.9 318.3L1056.5 320.5M1113.2 288.1L1115.2 286.2M1083.5 315.8L1081.2 316.6M1076.2 318.5L1076.2 320.7M1060.5 286.1L1059.3 285.6M1105.9 295.7L1108 295.8M1062.7 323.5L1062.9 325.1M1107.4 307.4L1109.1 307M1064.8 318.1L1062.8 318M1052.5 291.1L1050.6 291M1104.6 331.3L1105.1 334M1073.5 275.1L1073.9 273.9M1064.4 324.5L1064.1 326.3M1083.2 297.9L1081.5 297.3M1097.8 305.1L1099.5 303.9M1084.6 310.8L1084.5 312M1064 276.8L1062.1 277M1074.1 311.8L1072.6 311.6M1051 308.5L1048.3 307.9M1083.9 289.6L1085.3 288.2M1089 287.3L1089.1 286M1108.9 334L1109.1 335.5M1060.3 302.1L1058.3 302.9M1070.1 340.3L1068.4 342.5M1096.9 295.5L1099 295.9M1085.1 313.6L1086 315.4M1102 298.6L1103 299.4M1055 321.4L1053.2 322.2M1062.9 304.7L1061.3 304.3M1073.4 318.9L1073.2 321.1M1083.5 277L1084 274.9M1070 314.6L1069.6 317.1M1066.9 274L1066 272.5M1089.7 277.4L1090 275.3M1088.1 316.1L1088.3 318.7M1065.6 304.7L1064.3 305.2M1077.5 286.6L1076.2 285.1M1063.5 289.1L1062 287.3M1063.6 276.9L1062.3 274.6M1060.9 300.4L1059.2 301.9M1112.6 292.8L1112.9 291.3M1093.4 272.8L1094.3 271.5M1051.2 292.8L1050.1 290.6M1054.7 303.9L1053.4 303.3M1116.2 291.5L1118.4 291M1069.2 276.9L1066.7 276.3M1088.6 339.6L1088.5 341M1072.8 319.3L1071.1 321.1M1087.6 268.1L1087 266.5M1074.7 302L1072.6 301.9M1072.8 284.4L1072.8 282.5M1073.8 281.3L1071.8 280.4M1081.7 317.4L1081.2 319.4M1102.5 288.1L1103.2 285.7M1094.6 337.2L1096.2 338.9M1063.1 287.6L1063 286.1M1102.3 304.5L1104.3 303.5M1100.4 320L1100.6 322.4M1103.3 317.1L1103.9 318.6M1086.7 339.1L1085.5 339.8M1089.8 327.4L1089.5 329.9M1072.9 301.8L1072.2 300.1M1078.7 273.6L1077 271.6M1052.4 313L1051.5 314.1M1053.7 290.3L1052 289.5M1087.6 308.9L1090.2 309.4M1053.8 324.3L1051.8 324.9M1123.7 300.4L1125.2 298.3M1066.9 328.9L1065.7 329.2M1110.6 281.1L1110.4 279.4M1121.8 292.2L1124.5 291.9M1076.6 311.3L1075.3 311M1099.4 323.1L1100.6 325.6M1098.7 281.7L1097.9 280M1122.9 296.9L1123.9 295.9M1104.3 297.5L1104.8 296M1065.5 312.4L1063.6 311.8M1052 310.4L1050.6 309.4M1065 326.8L1064.2 328M1065.2 334.5L1063 334.5M1095.8 297.7L1098 297.9M1097.6 289.3L1098 286.7M1118.1 321.9L1120.9 322.2M1089.5 339.8L1090.3 342.3M1088.7 309.3L1089 311M1059.3 321.2L1057.4 322.4M1110.9 327.2L1112.6 329.3M1118.3 324.9L1119.6 325.8M1082.3 343.6L1080.8 344.7M1117.9 324.1L1119.7 325.3M1079.5 329.4L1078.4 330.1M1112.5 282.3L1114.7 282.3M1061.8 310L1060.6 311.1M1112.3 314.7L1114 313.1M1076 269L1074.8 268.5M1078 300.2L1077.2 298.5M1094 302.4L1095.5 302.7M1117.7 289L1119 287.3M1084.3 307.9L1084.3 310.6M1085.9 338.4L1085.2 339.6M1077.7 310.6L1075 310.1M1081.5 326.1L1081.4 327.9M1054.4 310.9L1053.2 312M1111.6 318.6L1113 318.2M1102.5 309.9L1104.6 310.6M1105.3 297.7L1106.7 296.2M1066 282L1066.3 280.7M1096.1 310.1L1097.7 309.3M1089.3 277.3L1091 275.9M1059.4 314.5L1058.5 315.8M1102.9 321.1L1103.7 322.4M1067.5 338.5L1066.1 339.3M1069 312.5L1066.4 313.3M1101.7 308.2L1103.5 306.4M1095.4 301.7L1096.6 299.4M1105 293.1L1106.4 292M1082.8 307.8L1080.8 309.6M1101.7 282.7L1102.8 280.8M1107.5 326.4L1108.8 328.3M1096.2 328.2L1097.9 328.9M1049.4 314.2L1048 315.6M1105.6 278.7L1105.3 276.8M1082.8 313.7L1082.3 315.1M1089.9 292.2L1089 289.9M1093.3 317.9L1095.6 318.8M1088.6 316.7L1088.5 318.6M1076.8 340.5L1078.3 342.2M1061.8 301.5L1059.4 302.8M1086.6 339.5L1087 340.8M1111.3 333.8L1112.6 334.7M1065 288.9L1062.9 288.6M1089.4 336.8L1088 337.9M1113.9 297.6L1114.8 296.9M1101.5 316.6L1104.1 315.8M1100.6 332.7L1101.8 334M1084.9 318.5L1087.1 320.1M1060.4 301.2L1059.1 299.6M1081.3 279.5L1081.1 277.8M1114.2 323.7L1115.3 324.7M1097.7 330.4L1098.4 332M1072.5 334.4L1073.4 336.4M1082.7 281.1L1082.9 279.9M1115.3 309L1116.4 310.8M1067.1 327.9L1067.6 329.5M1095.6 324.1L1094.7 325.5M1088.2 332.9L1087.4 333.9M1105.2 338.3L1106.9 339.2M1104.4 316.6L1104.9 317.8M1106.5 307.2L1107.7 305.8M1114.8 305.9L1116.6 305.8M1123.5 299.3L1125.9 299.4M1078.5 303.5L1077.4 301.2M1089.1 273.1L1090.9 272.1M1079.3 290.9L1077.1 289.5M1097.4 292.1L1099.3 291M1068.6 309.1L1065.8 309.5M1085.2 273.3L1086.9 272.4M1057.2 295.4L1055.5 295.1M1105.6 317.3L1105.7 318.9M1065.3 334.2L1065 335.4M1092.8 331.7L1094 333.8M1120.6 319.3L1122.4 321.3M1100.3 273L1102 271.9M1088.7 313.6L1088.1 315.3M1077 280.5L1076.2 279.2M1104.3 296L1106.3 294.7M1067.8 331.6L1067 333.4M1063 290L1061.1 290.1M1080.6 338.3L1080.5 340.7M1058.7 290.5L1056.6 291.3M1110.7 327.8L1113.3 327.8M1093.9 280.6L1092.3 278.5M1090.5 334.8L1089.9 336.8M1104.5 304.5L1105.3 303M1112.2 281.7L1112.5 279M1078.7 315L1077.3 315.4M1067.3 318.4L1065.8 319.4M1067.3 310.8L1065.3 311.6M1098.6 308.5L1100.1 310.2M1065.9 280.1L1064.4 280.2M1049.3 301.4L1047 301.9M1103.8 301.8L1105.3 302.2M1052.6 303.4L1051.3 304M1070.6 303.6L1067.9 303.7M1066.2 295L1065.5 292.7M1108.9 284.4L1111.3 283.4M1094.2 336L1094.2 338.4M1057.3 319.5L1057.1 321.7M1112 282.5L1113.8 281.6M1092.2 322.4L1091.8 323.6M1080 330.2L1079.9 333M1085.1 295.6L1085.6 294.4M1082.4 322.3L1083.3 323.9M1120.3 301.6L1122.3 301.7M1075.2 333.1L1074.4 334.6M1061 316.1L1059 316.7M1060.6 321.5L1059.5 322.9M1112.5 314.1L1114.4 315.4M1100.5 295.2L1103 294.6M1110.2 298.5L1111.6 297M1076.8 332.1L1076 334.7M1085.7 300.2L1084.2 298.8M1054 302.2L1052.3 300.3M1086.4 311.5L1085.4 313.6M1112.3 313.6L1113.9 313M1082 278.1L1080.6 276.4M1064.6 327.8L1063 327.8M1089.1 339.2L1088.2 340.9M1097 286.4L1097.6 284.1M1110.9 316.2L1112.5 316.2M1100 307L1101.9 307.5M1065.2 329.7L1066 332.2M1103.6 277.2L1104.3 275.8M1118.5 323.5L1119.7 324.3M1105.4 297.1L1107.2 297.9M1075.1 304.6L1073.7 302.5M1085.4 315.1L1085.4 316.4M1064.4 296L1062 296.2M1082.2 342.8L1081.9 345.2M1070.5 303.4L1068.1 302.7M1107.8 285.9L1109.2 285.5M1052.5 306.8L1050.5 306.6M1060.7 320.4L1058.8 322.1M1074.4 318.4L1073.9 319.5M1074.6 308L1073.2 306.4M1104.5 310.3L1107.2 309.7M1097.9 287.9L1098.9 287M1051.5 318L1051 320.6M1111.4 321.9L1113.2 322.6M1073 293.1L1073 290.8M1102.8 303.1L1104.3 303.3M1118.9 292.2L1121.5 293.1M1112.3 315.5L1113 317.6M1124.3 303.4L1125.6 303.8M1117.3 324L1119.1 324.6M1079.1 319.5L1078 320.4M1095.9 335.6L1098.3 336.8M1105.1 306.2L1107 306.7M1114.1 298.8L1115.7 297.5M1095.2 339L1095.2 340.7M1122 315.8L1124.2 314.9M1079.7 295.9L1077.9 294.6M1076.8 276.1L1077.7 274.9M1082.7 314.1L1083.8 315.6M1093.4 342.9L1093.9 344M1057.6 321.6L1055.2 322.7M1071.9 291.1L1069.2 290.5M1060.3 333.9L1058.9 333.7M1079.8 310.3L1079.1 311.6M1090 326.7L1091.2 328.7M1069.7 296.9L1069.1 295M1086.2 317.5L1087.4 318.6M1075 274.7L1074.5 273.5M1113.6 296.2L1115.5 295.3M1058.3 312.4L1057.3 311.5M1109.1 295.7L1109.8 293.1M1058.8 314.7L1056.5 313.2M1087.8 319.9L1089.4 320.7M1069.6 328.7L1068.6 329.4M1079.5 307.8L1078.2 309.1M1058 292.9L1056.9 293.6M1086.1 299.8L1088.2 298.3M1089.2 279.9L1089.6 278.6M1086.6 294.7L1086.8 292.5M1082.2 329L1083 330.8M1060.8 298.1L1058.4 297.6M1094.9 298.7L1095.3 296.8M1105.9 306.8L1106.6 305.8M1104 325.9L1104.9 327.8M1088.3 341.5L1089.5 343.5M1102.8 275.7L1105.3 275.3M1082.1 305.4L1079.6 304.4M1079.1 330.9L1080.1 332.1M1074 309L1072.8 311.2M1074.7 296.1L1073.1 295.7M1071.1 313.2L1069.1 312.9M1091.3 331.8L1092.7 333.9M1079.7 297L1079.7 294.9M1088.7 327.7L1088.1 329.8M1078.5 319.2L1077.3 319.7M1058.5 281.8L1055.8 281.6M1071.7 288.2L1070.7 287.2M1099.4 323.7L1099.9 326.4M1088.8 314.4L1089.7 316.3M1074.3 283.5L1075.1 282.3M1070.6 307.2L1068.2 306.7M1106.2 287.3L1108.7 288.1M1109.5 303.4L1111.9 303.6M1120.6 309.5L1121.4 311.8M1075.9 276L1074.7 274.3M1079.5 327.9L1079.3 329.7M1054 318.8L1053 321M1113.8 288.9L1115 288.6M1098.6 300.8L1100.5 300.8M1117.3 323.7L1117.8 325.2M1089.3 300.2L1090.5 299.9M1116.3 296.1L1118.1 297.1M1098.3 272.4L1099.4 270M1091.2 320.9L1092.6 323M1081.5 317.1L1080.6 319.7M1113.4 302.1L1114.4 300.6M1092.6 318L1092 319.6M1060.3 307.6L1059.1 310.1M1113.6 293.3L1114.4 291.2M1083.1 271.5L1082.4 269.1M1071.7 271.8L1071.9 270.3M1071.7 279.4L1069.6 278.4M1086.3 292.2L1086.1 291M1088.8 283.9L1088.6 281.9M1110.1 315.4L1111.9 316M1087.8 338.6L1090.1 339.7M1118.4 309.7L1120.5 308.4M1078.3 326L1076.9 328.2M1116.9 311.1L1119.7 311M1060.6 288.1L1059.3 286.1M1090.7 299.8L1090.7 297.8M1104.5 308.2L1106.1 307.1M1060 325.3L1058.2 327.2M1070.5 279.6L1070 278.1M1074.1 341L1075 343.6M1085.7 279.7L1085.7 278.1M1071.8 324.6L1070.9 326.3M1087.2 309L1087 311M1088.3 286.6L1087.1 284.2M1050.6 291.3L1048 290.8M1114.5 317.1L1116.8 318.4M1094 273.1L1093.3 270.5M1064.1 330.9L1062.3 331.3M1072.1 294.1L1071.6 291.7M1119.8 298.8L1122.3 299.9M1077.8 329.4L1077.9 331.1M1062.6 309.2L1061.6 311M1069.3 329.9L1069.1 332.7M1097.5 273.2L1098.5 272.3M1082.5 284.9L1083.1 283.5M1085.4 275.7L1086.3 274.7M1055.7 290.5L1055.6 289.2M1117.1 294.7L1118.6 295.3M1110.6 299.6L1112.5 299.5M1061.9 307.3L1061 308.8M1109.6 277.8L1109.6 275.6M1097.9 340.1L1099.3 341.7M1076.5 287.6L1076.7 285.8M1121.5 304.1L1123.2 302.6M1082.4 293L1080.7 292.5M1067 278.1L1065.9 277.1M1054.6 290.9L1052.1 291.4M1071 276.2L1069.6 274.3M1087.9 319.1L1087.4 321M1106.9 306.7L1108.9 305.4M1079.8 299.8L1078.2 298.9M1107.5 297.2L1109 298.4M1051.5 302.3L1049.7 300.3M1067.3 294L1065 293.8M1096.7 289.6L1098.2 289.6M1116.2 314.4L1117.2 313.4M1101.5 283.7L1100.7 281.2M1093.2 329.9L1093 332.4M1060.6 312.2L1058.3 310.9M1075.6 295.9L1076.1 293.3M1099.7 302.4L1102.3 302.8M1109.8 304.8L1111.1 305.7M1113.3 312.3L1114.9 313.7M1067.1 297.4L1066.7 295.8M1077.1 329.6L1075.8 330.3M1064.5 274.2L1065.2 272.7M1086.7 328.5L1086 329.7M1092.4 295.8L1094.9 295M1086.3 336.1L1087.6 338.2M1089.4 321.7L1088.2 324M1090.5 323.9L1089.4 325M1115 293.4L1115.4 291.9M1094.4 332.9L1093 334.3M1074.1 270.5L1072.9 269.4M1059.2 313.3L1057.9 312.3M1076.2 324.5L1074.2 325.7M1098.2 332.5L1098.5 334.5M1065.8 333.6L1065.3 336M1089.2 303.8L1091.6 304M1081.2 330.8L1081.7 332.9M1099.5 299.4L1101.1 300.1M1107.7 278.5L1110.5 278.3M1087.1 303.6L1089.7 302.8M1098.6 334.9L1098.9 337.1M1095.1 321.9L1094.7 324.1M1072.9 313.5L1071.2 315.7M1082.2 336.5L1083.2 338.9M1059.2 294.5L1057.9 293.8M1080.1 304.7L1077.7 306M1069.1 326.1L1066.9 326M1088.7 271.1L1089.9 268.9M1063.3 300.8L1060.8 301.5M1066.9 321.1L1065.7 321.5M1090.1 301.4L1090.3 299.3M1062.4 311.2L1060.9 312.9M1086.6 313.2L1085.2 315.1M1084.3 334.3L1085.5 335M1122.8 298.4L1124.8 297.3M1098.1 283.2L1099 280.8M1087.5 298.8L1087.3 296.1M1098 318.3L1099 320M1095.5 318.8L1097.3 320.5M1073.5 279.4L1071.5 278.5M1090.4 305.6L1091.1 304.5M1118.8 290.8L1120.5 290.2M1089.5 281.8L1090.2 280M1055.5 300.4L1054.9 299.1M1116.9 318.3L1117.6 320.7M1102.4 338.7L1102.4 340.4M1076.5 281.5L1074.9 279.2M1078.1 313.7L1078.1 316.4M1067 282.4L1065.9 281.1M1082.9 307.5L1081.7 308.9M1088.4 336.7L1089.3 337.8M1120.1 303.6L1121.3 302.5M1073.3 315.8L1071.1 317.3M1082.6 321.9L1081.4 322.5M1121.5 295.6L1122.9 296.1M1091.5 277.7L1091.8 276.1M1084.7 275L1085.2 273.6M1082.3 315L1080.8 316.3M1080.8 343.4L1079.8 344.2M1102.9 312L1104.8 314M1080.6 327.8L1081.5 329M1100.8 322.6L1101.8 324.2M1083.3 295.8L1082.6 294.1M1073.7 339.2L1072.4 340M1116.7 327L1117.1 329.8M1065.5 295.7L1063.7 294M1079.8 286L1079.2 285M1112.9 288.6L1114.3 287.4M1114 300.7L1116.5 301M1119.6 309.7L1122.1 310.9M1093 335.5L1093.2 338.3M1082.2 329.9L1080 330.8M1066.8 318.2L1066.8 319.5M1090.5 270.7L1091.9 268.3M1107.5 298.9L1108.7 299.2M1086.7 278.8L1086.9 277.1M1049.9 316.6L1048.2 317.9M1074.3 323.3L1073.2 324M1092.1 318.7L1093.5 320M1095.8 297.7L1095.8 296.4M1065.7 331.2L1065.4 333.3M1086.5 309.6L1086.8 312.3M1083.9 280.8L1084.2 279.5M1095.4 277.1L1097.4 276.4M1067.2 284.8L1067.3 282.3M1121.8 300.3L1124.3 299.3M1114 293.1L1116.2 293M1053.1 310.5L1050.6 309.6M1073.4 295.4L1072 293.6M1062.7 331L1063.1 332.6M1088.3 268.4L1090.2 267.4M1059.5 331.5L1057.6 332.9M1098.2 325.2L1100.3 325.7M1070 318.4L1067.6 318M1077.1 301.9L1075.6 301.2M1096.7 319.4L1096.8 322.1M1102.2 286.3L1102.6 285M1058.4 327.6L1057.4 329.2M1104.5 338.8L1106.6 339.1M1120 309L1122.7 309.2M1097.9 329.5L1099.7 331.2M1061.8 301.8L1059.3 302.8M1083.9 277L1082.8 275.2M1081.8 303.3L1080.3 302.6M1077 292.4L1076.5 289.8M1117.7 298.1L1118.8 297.6M1072 329.4L1070.6 330.9M1123.9 304.3L1125.5 305.2M1088.4 327.4L1089.8 328.8M1055.3 313.9L1053.6 314.4M1106.1 294.4L1107 293.5M1058.5 293.6L1056.8 294.6M1082.8 339.7L1083.3 341.9M1110.2 287.8L1110.9 286.1M1102 305.1L1104.4 304.4M1109.6 321.6L1109.7 323.1M1091.4 303.3L1092.2 302.3M1079.5 293.3L1079.4 291.4M1082.1 331.4L1080.9 332.1M1092.4 295.8L1094.8 295.4M1118.3 284.7L1119.1 283.5M1114.1 315.4L1115.4 315.8M1119.7 312.7L1121.4 314.8M1072.5 307L1071.7 308.3M1076 310.4L1075.4 312.3M1053.8 294L1053.3 291.6M1072.4 339.7L1070.4 341.3M1114.1 279.2L1115.5 276.8M1102.5 283.5L1101.9 281.5M1115.8 293.1L1117.6 293.3M1067.5 287L1065.7 287.1M1090 343.8L1089.5 344.9M1102 315L1103.4 315.5M1088.5 304.5L1089.7 303.6M1094.7 317.1L1096.4 318.1M1077.5 297.7L1075.2 297.9M1070.8 295.2L1070.1 293.9M1063.6 277.3L1062 276.4M1111.4 304.2L1112.4 304.9M1051.7 297.2L1050.9 296M1107.2 300.1L1109 301.3M1086.3 332.9L1086.9 334.9M1060.5 306.8L1058 305.9M1096.8 275.3L1095.8 273.5M1102.5 321.8L1104.9 322.6M1050 319L1049.3 321M1072.4 312L1071.8 314.1M1079.7 325.2L1080.2 326.7" fill="none" stroke="#f2f2f2" stroke-width="0.75" stroke-linecap="round"/>
<line x1="438.9" y1="141.1" x2="922.1" y2="74.5" stroke="#231f20" stroke-width="4.9"/>
<path d="M425,143 L442.1,150 L439.6,131.6 Z" fill="#231f20"/>
<path d="M936,72.6 L921.4,84 L918.9,65.6 Z" fill="#231f20"/>
<line x1="386.2" y1="170" x2="386.2" y2="885" stroke="#231f20" stroke-width="4.9"/>
<path d="M386.2,156 L376.9,172 L395.5,172 Z" fill="#231f20"/>
<path d="M386.2,899 L376.9,883 L395.5,883 Z" fill="#231f20"/>
<line x1="400.6" y1="903.5" x2="902.4" y2="1033.7" stroke="#231f20" stroke-width="4.9"/>
<path d="M387,900 L400.2,913 L404.8,895 Z" fill="#231f20"/>
<path d="M916,1037.2 L898.2,1042.2 L902.8,1024.2 Z" fill="#231f20"/>
<line x1="649" y1="210.6" x2="729.5" y2="520.9" stroke="#231f20" stroke-width="4.9"/>
<path d="M645.5,197 L640.5,214.8 L658.5,210.2 Z" fill="#231f20"/>
<path d="M733,534.5 L720,521.3 L738,516.7 Z" fill="#231f20"/>
<line x1="926.2" y1="386.4" x2="1104.3" y2="362.6" stroke="#231f20" stroke-width="4.9"/>
<path d="M912.3,388.3 L929.4,395.4 L926.9,377 Z" fill="#231f20"/>
<path d="M1118.2,360.7 L1103.6,372 L1101.1,353.6 Z" fill="#231f20"/>
<line x1="747.1" y1="540" x2="1007.8" y2="636.4" stroke="#231f20" stroke-width="4.9"/>
<path d="M734,535.1 L745.8,549.4 L752.2,531.9 Z" fill="#231f20"/>
<path d="M1020.9,641.3 L1002.7,644.5 L1009.1,627 Z" fill="#231f20"/>
<line x1="668.7" y1="638.7" x2="1104.4" y2="568.4" stroke="#231f20" stroke-width="4.9"/>
<path d="M654.9,640.9 L672.2,647.5 L669.2,629.2 Z" fill="#231f20"/>
<path d="M1118.2,566.2 L1103.9,577.9 L1100.9,559.6 Z" fill="#231f20"/>
<line x1="928.5" y1="666.3" x2="928.5" y2="688" stroke="#231f20" stroke-width="4.9"/>
<path d="M928.5,652.3 L919.2,668.3 L937.8,668.3 Z" fill="#231f20"/>
<path d="M928.5,702 L919.2,686 L937.8,686 Z" fill="#231f20"/>
<line x1="868.3" y1="667" x2="868.3" y2="851.5" stroke="#231f20" stroke-width="4.9"/>
<path d="M868.3,653 L859,669 L877.6,669 Z" fill="#231f20"/>
<path d="M868.3,865.5 L859,849.5 L877.6,849.5 Z" fill="#231f20"/>
<line x1="773" y1="883.3" x2="773" y2="896" stroke="#231f20" stroke-width="4.9"/>
<path d="M773,869.3 L763.7,885.3 L782.3,885.3 Z" fill="#231f20"/>
<path d="M773,910 L763.7,894 L782.3,894 Z" fill="#231f20"/>
<text transform="translate(645,103.5) rotate(-7.8) scale(0.995,1)" font-size="30" text-anchor="start" stroke="#231f20" stroke-width="0.45">50 cm</text>
<text transform="translate(373,571) rotate(-90) scale(1.013,1)" font-size="30" text-anchor="start" stroke="#231f20" stroke-width="0.45">47 cm</text>
<text transform="translate(602.5,985.8) rotate(14.5) scale(1.013,1)" font-size="30" text-anchor="start" stroke="#231f20" stroke-width="0.45">44 cm</text>
<text transform="translate(690.5,403) rotate(-104.6) scale(1.044,1)" font-size="30" text-anchor="start" stroke="#231f20" stroke-width="0.45">31cm</text>
<text transform="translate(975,373.5) rotate(-7.5) scale(0.992,1)" font-size="30" text-anchor="start" stroke="#231f20" stroke-width="0.45">19 cm</text>
<text transform="translate(848.5,569.8) rotate(20) scale(1.045,1)" font-size="30" text-anchor="start" stroke="#231f20" stroke-width="0.45">38cm</text>
<text transform="translate(863,636) rotate(-9) scale(1.023,1)" font-size="30" text-anchor="start" stroke="#231f20" stroke-width="0.45">42cm</text>
<text transform="translate(914,710.2) rotate(-90) scale(0.981,1)" font-size="30" text-anchor="start" stroke="#231f20" stroke-width="0.45">4 cm</text>
<text transform="translate(861,803) rotate(-90) scale(1.013,1)" font-size="30" text-anchor="start" stroke="#231f20" stroke-width="0.45">15 cm</text>
<text transform="translate(758,923.5) rotate(-90) scale(0.981,1)" font-size="30" text-anchor="start" stroke="#231f20" stroke-width="0.45">4 cm</text>
<text transform="translate(1008,1068) rotate(0) scale(1.18,1)" font-size="30" text-anchor="start" stroke="#231f20" stroke-width="0">+/-</text>
<text transform="translate(1056.5,1068) rotate(0) scale(1.0,1)" font-size="30" text-anchor="start" stroke="#231f20" stroke-width="0.45">2 cm</text>
</svg></body></html>
